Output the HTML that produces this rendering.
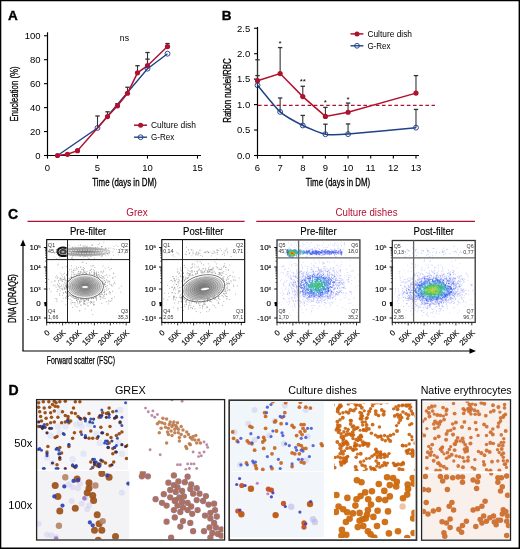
<!DOCTYPE html>
<html><head><meta charset="utf-8"><style>
html,body{margin:0;padding:0;background:#fff;}
svg{display:block;will-change:transform;}
text{font-family:"Liberation Sans",sans-serif;}
</style></head><body>
<svg width="520" height="549" viewBox="0 0 520 549">
<rect width="520" height="549" fill="#fff"/>
<text x="7.90" y="19.70" font-size="13.5" text-anchor="start" fill="#000" stroke="#000" stroke-width="0.35" font-weight="bold">A</text>
<line x1="47.50" y1="32.30" x2="47.50" y2="156.00" stroke="#000" stroke-width="1.2"/>
<line x1="47.00" y1="155.50" x2="201.00" y2="155.50" stroke="#000" stroke-width="1.2"/>
<line x1="44.00" y1="155.50" x2="47.50" y2="155.50" stroke="#000" stroke-width="1.1"/>
<text x="40.60" y="158.80" font-size="9.5" text-anchor="end" fill="#000">0</text>
<line x1="44.00" y1="131.55" x2="47.50" y2="131.55" stroke="#000" stroke-width="1.1"/>
<text x="40.60" y="134.85" font-size="9.5" text-anchor="end" fill="#000">20</text>
<line x1="44.00" y1="107.60" x2="47.50" y2="107.60" stroke="#000" stroke-width="1.1"/>
<text x="40.60" y="110.90" font-size="9.5" text-anchor="end" fill="#000">40</text>
<line x1="44.00" y1="83.65" x2="47.50" y2="83.65" stroke="#000" stroke-width="1.1"/>
<text x="40.60" y="86.95" font-size="9.5" text-anchor="end" fill="#000">60</text>
<line x1="44.00" y1="59.70" x2="47.50" y2="59.70" stroke="#000" stroke-width="1.1"/>
<text x="40.60" y="63.00" font-size="9.5" text-anchor="end" fill="#000">80</text>
<line x1="44.00" y1="35.75" x2="47.50" y2="35.75" stroke="#000" stroke-width="1.1"/>
<text x="40.60" y="39.05" font-size="9.5" text-anchor="end" fill="#000">100</text>
<line x1="47.50" y1="155.50" x2="47.50" y2="158.60" stroke="#000" stroke-width="1.1"/>
<text x="47.50" y="170.80" font-size="9.5" text-anchor="middle" fill="#000">0</text>
<line x1="97.50" y1="155.50" x2="97.50" y2="158.60" stroke="#000" stroke-width="1.1"/>
<text x="97.50" y="170.80" font-size="9.5" text-anchor="middle" fill="#000">5</text>
<line x1="147.50" y1="155.50" x2="147.50" y2="158.60" stroke="#000" stroke-width="1.1"/>
<text x="147.50" y="170.80" font-size="9.5" text-anchor="middle" fill="#000">10</text>
<line x1="197.50" y1="155.50" x2="197.50" y2="158.60" stroke="#000" stroke-width="1.1"/>
<text x="197.50" y="170.80" font-size="9.5" text-anchor="middle" fill="#000">15</text>
<text x="124.50" y="186.40" font-size="11" text-anchor="middle" fill="#000" stroke="#000" stroke-width="0.3" textLength="64.4" lengthAdjust="spacingAndGlyphs">Time (days in DM)</text>
<text x="18.00" y="94.00" font-size="11" text-anchor="middle" fill="#000" stroke="#000" stroke-width="0.3" textLength="55" lengthAdjust="spacingAndGlyphs" transform="rotate(-90 18.00 94.00)">Enucleation (%)</text>
<text x="124.40" y="40.60" font-size="9.5" text-anchor="middle" fill="#000" textLength="9.2" lengthAdjust="spacingAndGlyphs">ns</text>
<line x1="97.50" y1="127.96" x2="97.50" y2="115.98" stroke="#333" stroke-width="1.1"/>
<line x1="95.30" y1="115.98" x2="99.70" y2="115.98" stroke="#333" stroke-width="1.3"/>
<line x1="107.50" y1="115.98" x2="107.50" y2="111.79" stroke="#333" stroke-width="1.1"/>
<line x1="105.30" y1="111.79" x2="109.70" y2="111.79" stroke="#333" stroke-width="1.3"/>
<line x1="117.50" y1="105.80" x2="117.50" y2="103.65" stroke="#333" stroke-width="1.1"/>
<line x1="115.30" y1="103.65" x2="119.70" y2="103.65" stroke="#333" stroke-width="1.3"/>
<line x1="127.50" y1="93.23" x2="127.50" y2="87.24" stroke="#333" stroke-width="1.1"/>
<line x1="125.30" y1="87.24" x2="129.70" y2="87.24" stroke="#333" stroke-width="1.3"/>
<line x1="137.50" y1="72.87" x2="137.50" y2="65.69" stroke="#333" stroke-width="1.1"/>
<line x1="135.30" y1="65.69" x2="139.70" y2="65.69" stroke="#333" stroke-width="1.3"/>
<line x1="147.50" y1="68.08" x2="147.50" y2="52.52" stroke="#333" stroke-width="1.1"/>
<line x1="145.30" y1="52.52" x2="149.70" y2="52.52" stroke="#333" stroke-width="1.3"/>
<line x1="147.50" y1="65.69" x2="147.50" y2="59.10" stroke="#333" stroke-width="1.1"/>
<line x1="145.30" y1="59.10" x2="149.70" y2="59.10" stroke="#333" stroke-width="1.3"/>
<line x1="167.50" y1="46.53" x2="167.50" y2="43.53" stroke="#333" stroke-width="1.1"/>
<line x1="165.30" y1="43.53" x2="169.70" y2="43.53" stroke="#333" stroke-width="1.3"/>
<polyline points="57.50,155.50 97.50,127.96 147.50,68.68 167.50,53.71" fill="none" stroke="#1f4288" stroke-width="1.4"/>
<polyline points="57.50,155.50 67.50,154.30 77.50,150.71 97.50,127.96 107.50,116.58 117.50,105.80 127.50,93.23 137.50,72.87 147.50,65.69 167.50,46.53" fill="none" stroke="#b0112f" stroke-width="1.5"/>
<circle cx="57.50" cy="155.50" r="2.6" fill="#b0112f"/>
<circle cx="67.50" cy="154.30" r="2.6" fill="#b0112f"/>
<circle cx="77.50" cy="150.71" r="2.6" fill="#b0112f"/>
<circle cx="107.50" cy="116.58" r="2.6" fill="#b0112f"/>
<circle cx="117.50" cy="105.80" r="2.6" fill="#b0112f"/>
<circle cx="127.50" cy="93.23" r="2.6" fill="#b0112f"/>
<circle cx="137.50" cy="72.87" r="2.6" fill="#b0112f"/>
<circle cx="147.50" cy="65.69" r="2.6" fill="#b0112f"/>
<circle cx="167.50" cy="46.53" r="2.6" fill="#b0112f"/>
<circle cx="97.50" cy="127.96" r="2.45" fill="none" stroke="#1f4288" stroke-width="0.95"/>
<circle cx="147.50" cy="68.68" r="2.45" fill="none" stroke="#1f4288" stroke-width="0.95"/>
<circle cx="167.50" cy="53.71" r="2.45" fill="none" stroke="#1f4288" stroke-width="0.95"/>
<line x1="134.00" y1="125.20" x2="147.00" y2="125.20" stroke="#b0112f" stroke-width="1.5"/>
<circle cx="140.6" cy="125.2" r="2.5" fill="#b0112f"/>
<line x1="134.00" y1="137.20" x2="147.00" y2="137.20" stroke="#1f4288" stroke-width="1.4"/>
<circle cx="140.6" cy="137.2" r="2.4" fill="none" stroke="#1f4288" stroke-width="0.95"/>
<text x="151.00" y="128.40" font-size="9" text-anchor="start" fill="#000" textLength="45" lengthAdjust="spacingAndGlyphs">Culture dish</text>
<text x="151.00" y="140.40" font-size="9" text-anchor="start" fill="#000" textLength="23.3" lengthAdjust="spacingAndGlyphs">G-Rex</text>
<text x="221.80" y="19.70" font-size="13.5" text-anchor="start" fill="#000" stroke="#000" stroke-width="0.35" font-weight="bold">B</text>
<line x1="257.50" y1="27.00" x2="257.50" y2="156.00" stroke="#000" stroke-width="1.2"/>
<line x1="257.00" y1="155.50" x2="419.00" y2="155.50" stroke="#000" stroke-width="1.2"/>
<line x1="254.00" y1="155.50" x2="257.50" y2="155.50" stroke="#000" stroke-width="1.1"/>
<text x="250.20" y="158.80" font-size="9.5" text-anchor="end" fill="#000">0.0</text>
<line x1="254.00" y1="130.05" x2="257.50" y2="130.05" stroke="#000" stroke-width="1.1"/>
<text x="250.20" y="133.35" font-size="9.5" text-anchor="end" fill="#000">0.5</text>
<line x1="254.00" y1="104.60" x2="257.50" y2="104.60" stroke="#000" stroke-width="1.1"/>
<text x="250.20" y="107.90" font-size="9.5" text-anchor="end" fill="#000">1.0</text>
<line x1="254.00" y1="79.15" x2="257.50" y2="79.15" stroke="#000" stroke-width="1.1"/>
<text x="250.20" y="82.45" font-size="9.5" text-anchor="end" fill="#000">1.5</text>
<line x1="254.00" y1="53.70" x2="257.50" y2="53.70" stroke="#000" stroke-width="1.1"/>
<text x="250.20" y="57.00" font-size="9.5" text-anchor="end" fill="#000">2.0</text>
<line x1="254.00" y1="28.25" x2="257.50" y2="28.25" stroke="#000" stroke-width="1.1"/>
<text x="250.20" y="31.55" font-size="9.5" text-anchor="end" fill="#000">2.5</text>
<line x1="257.50" y1="155.50" x2="257.50" y2="158.60" stroke="#000" stroke-width="1.1"/>
<text x="257.50" y="170.80" font-size="9.5" text-anchor="middle" fill="#000">6</text>
<line x1="280.14" y1="155.50" x2="280.14" y2="158.60" stroke="#000" stroke-width="1.1"/>
<text x="280.14" y="170.80" font-size="9.5" text-anchor="middle" fill="#000">7</text>
<line x1="302.78" y1="155.50" x2="302.78" y2="158.60" stroke="#000" stroke-width="1.1"/>
<text x="302.78" y="170.80" font-size="9.5" text-anchor="middle" fill="#000">8</text>
<line x1="325.42" y1="155.50" x2="325.42" y2="158.60" stroke="#000" stroke-width="1.1"/>
<text x="325.42" y="170.80" font-size="9.5" text-anchor="middle" fill="#000">9</text>
<line x1="348.06" y1="155.50" x2="348.06" y2="158.60" stroke="#000" stroke-width="1.1"/>
<text x="348.06" y="170.80" font-size="9.5" text-anchor="middle" fill="#000">10</text>
<line x1="370.70" y1="155.50" x2="370.70" y2="158.60" stroke="#000" stroke-width="1.1"/>
<text x="370.70" y="170.80" font-size="9.5" text-anchor="middle" fill="#000">11</text>
<line x1="393.34" y1="155.50" x2="393.34" y2="158.60" stroke="#000" stroke-width="1.1"/>
<text x="393.34" y="170.80" font-size="9.5" text-anchor="middle" fill="#000">12</text>
<line x1="415.98" y1="155.50" x2="415.98" y2="158.60" stroke="#000" stroke-width="1.1"/>
<text x="415.98" y="170.80" font-size="9.5" text-anchor="middle" fill="#000">13</text>
<text x="338.00" y="186.40" font-size="11" text-anchor="middle" fill="#000" stroke="#000" stroke-width="0.3" textLength="64.4" lengthAdjust="spacingAndGlyphs">Time (days in DM)</text>
<text x="230.80" y="90.50" font-size="11" text-anchor="middle" fill="#000" stroke="#000" stroke-width="0.3" textLength="64.5" lengthAdjust="spacingAndGlyphs" transform="rotate(-90 230.80 90.50)">Ration nuclei/RBC</text>
<line x1="258" y1="105.36" x2="435" y2="105.36" stroke="#b0112f" stroke-width="1.2" stroke-dasharray="3.6,2.6"/>
<line x1="257.50" y1="80.68" x2="257.50" y2="59.81" stroke="#333" stroke-width="1.1"/>
<line x1="255.30" y1="59.81" x2="259.70" y2="59.81" stroke="#333" stroke-width="1.3"/>
<line x1="257.50" y1="85.26" x2="257.50" y2="75.59" stroke="#333" stroke-width="1.1"/>
<line x1="255.30" y1="75.59" x2="259.70" y2="75.59" stroke="#333" stroke-width="1.3"/>
<line x1="280.14" y1="73.55" x2="280.14" y2="47.59" stroke="#333" stroke-width="1.1"/>
<line x1="277.94" y1="47.59" x2="282.34" y2="47.59" stroke="#333" stroke-width="1.3"/>
<line x1="302.78" y1="96.61" x2="302.78" y2="86.28" stroke="#333" stroke-width="1.1"/>
<line x1="300.58" y1="86.28" x2="304.98" y2="86.28" stroke="#333" stroke-width="1.3"/>
<line x1="325.42" y1="116.41" x2="325.42" y2="107.40" stroke="#333" stroke-width="1.1"/>
<line x1="323.22" y1="107.40" x2="327.62" y2="107.40" stroke="#333" stroke-width="1.3"/>
<line x1="348.06" y1="112.23" x2="348.06" y2="103.07" stroke="#333" stroke-width="1.1"/>
<line x1="345.86" y1="103.07" x2="350.26" y2="103.07" stroke="#333" stroke-width="1.3"/>
<line x1="415.98" y1="93.10" x2="415.98" y2="75.59" stroke="#333" stroke-width="1.1"/>
<line x1="413.78" y1="75.59" x2="418.18" y2="75.59" stroke="#333" stroke-width="1.3"/>
<line x1="280.14" y1="111.93" x2="280.14" y2="97.98" stroke="#333" stroke-width="1.1"/>
<line x1="277.94" y1="97.98" x2="282.34" y2="97.98" stroke="#333" stroke-width="1.3"/>
<line x1="302.78" y1="125.47" x2="302.78" y2="115.44" stroke="#333" stroke-width="1.1"/>
<line x1="300.58" y1="115.44" x2="304.98" y2="115.44" stroke="#333" stroke-width="1.3"/>
<line x1="325.42" y1="134.22" x2="325.42" y2="124.20" stroke="#333" stroke-width="1.1"/>
<line x1="323.22" y1="124.20" x2="327.62" y2="124.20" stroke="#333" stroke-width="1.3"/>
<line x1="348.06" y1="134.12" x2="348.06" y2="123.94" stroke="#333" stroke-width="1.1"/>
<line x1="345.86" y1="123.94" x2="350.26" y2="123.94" stroke="#333" stroke-width="1.3"/>
<line x1="415.98" y1="127.66" x2="415.98" y2="109.44" stroke="#333" stroke-width="1.1"/>
<line x1="413.78" y1="109.44" x2="418.18" y2="109.44" stroke="#333" stroke-width="1.3"/>
<path d="M257.50,85.26 C259.76,87.93 275.61,107.91 280.14,111.93 C284.67,115.95 298.25,123.24 302.78,125.47 C307.31,127.70 320.89,133.36 325.42,134.22 C329.95,135.09 339.00,134.78 348.06,134.12 C357.12,133.47 409.19,128.30 415.98,127.66" fill="none" stroke="#1f4288" stroke-width="1.5"/>
<polyline points="257.50,80.68 280.14,73.55 302.78,96.61 325.42,116.41 348.06,112.23 415.98,93.10" fill="none" stroke="#b0112f" stroke-width="1.5"/>
<circle cx="257.50" cy="80.68" r="2.6" fill="#b0112f"/>
<circle cx="280.14" cy="73.55" r="2.6" fill="#b0112f"/>
<circle cx="302.78" cy="96.61" r="2.6" fill="#b0112f"/>
<circle cx="325.42" cy="116.41" r="2.6" fill="#b0112f"/>
<circle cx="348.06" cy="112.23" r="2.6" fill="#b0112f"/>
<circle cx="415.98" cy="93.10" r="2.6" fill="#b0112f"/>
<circle cx="257.50" cy="85.26" r="2.45" fill="none" stroke="#1f4288" stroke-width="0.95"/>
<circle cx="280.14" cy="111.93" r="2.45" fill="none" stroke="#1f4288" stroke-width="0.95"/>
<circle cx="302.78" cy="125.47" r="2.45" fill="none" stroke="#1f4288" stroke-width="0.95"/>
<circle cx="325.42" cy="134.22" r="2.45" fill="none" stroke="#1f4288" stroke-width="0.95"/>
<circle cx="348.06" cy="134.12" r="2.45" fill="none" stroke="#1f4288" stroke-width="0.95"/>
<circle cx="415.98" cy="127.66" r="2.45" fill="none" stroke="#1f4288" stroke-width="0.95"/>
<text x="280.14" y="46.10" font-size="8" text-anchor="middle" fill="#000">*</text>
<text x="302.78" y="83.60" font-size="8" text-anchor="middle" fill="#000">**</text>
<text x="325.42" y="104.60" font-size="8" text-anchor="middle" fill="#000">*</text>
<text x="348.06" y="102.10" font-size="8" text-anchor="middle" fill="#000">*</text>
<line x1="350.50" y1="33.90" x2="363.40" y2="33.90" stroke="#b0112f" stroke-width="1.5"/>
<circle cx="357" cy="33.9" r="2.5" fill="#b0112f"/>
<line x1="350.50" y1="45.80" x2="363.40" y2="45.80" stroke="#1f4288" stroke-width="1.4"/>
<circle cx="357" cy="45.8" r="2.4" fill="none" stroke="#1f4288" stroke-width="0.95"/>
<text x="367.40" y="37.00" font-size="9" text-anchor="start" fill="#000" textLength="44.6" lengthAdjust="spacingAndGlyphs">Culture dish</text>
<text x="367.40" y="49.10" font-size="9" text-anchor="start" fill="#000" textLength="23.1" lengthAdjust="spacingAndGlyphs">G-Rex</text>
<text x="8.00" y="218.60" font-size="14" text-anchor="start" fill="#000" stroke="#000" stroke-width="0.35" font-weight="bold">C</text>
<line x1="27.50" y1="221.30" x2="244.60" y2="221.30" stroke="#b0112f" stroke-width="1.2"/>
<line x1="256.30" y1="221.30" x2="475.00" y2="221.30" stroke="#b0112f" stroke-width="1.2"/>
<text x="137.00" y="216.00" font-size="10" text-anchor="middle" fill="#b0112f" textLength="21.5" lengthAdjust="spacingAndGlyphs">Grex</text>
<text x="366.50" y="216.00" font-size="10" text-anchor="middle" fill="#b0112f" textLength="62" lengthAdjust="spacingAndGlyphs">Culture dishes</text>
<ellipse cx="85.00" cy="286.50" rx="18.50" ry="12.00" transform="rotate(0 85.00 286.50)" fill="#000" fill-opacity="0.065" stroke="#666" stroke-width="0.4"/>
<ellipse cx="85.00" cy="286.50" rx="16.65" ry="10.80" transform="rotate(0 85.00 286.50)" fill="#000" fill-opacity="0.065" stroke="#666" stroke-width="0.4"/>
<ellipse cx="85.00" cy="286.50" rx="14.80" ry="9.60" transform="rotate(0 85.00 286.50)" fill="#000" fill-opacity="0.065" stroke="#666" stroke-width="0.4"/>
<ellipse cx="85.00" cy="286.50" rx="12.95" ry="8.40" transform="rotate(0 85.00 286.50)" fill="#000" fill-opacity="0.065" stroke="#666" stroke-width="0.4"/>
<ellipse cx="85.00" cy="286.50" rx="11.10" ry="7.20" transform="rotate(0 85.00 286.50)" fill="#000" fill-opacity="0.065" stroke="#666" stroke-width="0.4"/>
<ellipse cx="85.00" cy="286.50" rx="9.25" ry="6.00" transform="rotate(0 85.00 286.50)" fill="#000" fill-opacity="0.065" stroke="#666" stroke-width="0.4"/>
<ellipse cx="85.00" cy="286.50" rx="7.40" ry="4.80" transform="rotate(0 85.00 286.50)" fill="#000" fill-opacity="0.065" stroke="#666" stroke-width="0.4"/>
<ellipse cx="85.00" cy="286.50" rx="5.55" ry="3.60" transform="rotate(0 85.00 286.50)" fill="#000" fill-opacity="0.065" stroke="#666" stroke-width="0.4"/>
<ellipse cx="85.00" cy="286.50" rx="3.70" ry="2.40" transform="rotate(0 85.00 286.50)" fill="#000" fill-opacity="0.065" stroke="#666" stroke-width="0.4"/>
<ellipse cx="85.00" cy="286.50" rx="1.85" ry="1.20" transform="rotate(0 85.00 286.50)" fill="#000" fill-opacity="0.065" stroke="#666" stroke-width="0.4"/>
<ellipse cx="85.00" cy="286.50" rx="18.50" ry="12.00" transform="rotate(0 85.00 286.50)" fill="none" stroke="#333" stroke-width="0.5"/>
<ellipse cx="85.00" cy="286.50" rx="17.50" ry="11.00" transform="rotate(0 85.00 286.50)" fill="none" stroke="#fff" stroke-width="0.9"/>
<ellipse cx="85" cy="287" rx="3.4" ry="1.5" fill="#fff" stroke="#555" stroke-width="0.5"/>
<ellipse cx="84.00" cy="251.70" rx="26.00" ry="4.30" transform="rotate(0 84.00 251.70)" fill="#000" fill-opacity="0.1" stroke="#777" stroke-width="0.4"/>
<ellipse cx="84.00" cy="251.70" rx="22.29" ry="3.69" transform="rotate(0 84.00 251.70)" fill="#000" fill-opacity="0.1" stroke="#777" stroke-width="0.4"/>
<ellipse cx="84.00" cy="251.70" rx="18.57" ry="3.07" transform="rotate(0 84.00 251.70)" fill="#000" fill-opacity="0.1" stroke="#777" stroke-width="0.4"/>
<ellipse cx="84.00" cy="251.70" rx="14.86" ry="2.46" transform="rotate(0 84.00 251.70)" fill="#000" fill-opacity="0.1" stroke="#777" stroke-width="0.4"/>
<ellipse cx="84.00" cy="251.70" rx="11.14" ry="1.84" transform="rotate(0 84.00 251.70)" fill="#000" fill-opacity="0.1" stroke="#777" stroke-width="0.4"/>
<ellipse cx="84.00" cy="251.70" rx="7.43" ry="1.23" transform="rotate(0 84.00 251.70)" fill="#000" fill-opacity="0.1" stroke="#777" stroke-width="0.4"/>
<ellipse cx="84.00" cy="251.70" rx="3.71" ry="0.61" transform="rotate(0 84.00 251.70)" fill="#000" fill-opacity="0.1" stroke="#777" stroke-width="0.4"/>
<ellipse cx="86" cy="251.7" rx="20" ry="1.6" fill="none" stroke="#fff" stroke-width="0.9" stroke-dasharray="1.6,0.9"/>
<path d="M66.5,248.3 C61,246.5 57.5,248.5 57.6,251.8 C57.7,255.2 61.5,257 66.8,255.6" fill="none" stroke="#111" stroke-width="2.0"/>
<ellipse cx="63" cy="251.8" rx="3.3" ry="2.3" fill="#555" stroke="#222" stroke-width="0.8"/>
<ellipse cx="63" cy="251.8" rx="1.4" ry="0.9" fill="#bbb"/>
<clipPath id="cp2"><rect x="182.5" y="239.6" width="62.20000000000002" height="82.79999999999998"/></clipPath>
<g clip-path="url(#cp2)">
<ellipse cx="203.00" cy="288.30" rx="22.00" ry="13.00" transform="rotate(-12 203.00 288.30)" fill="#000" fill-opacity="0.07" stroke="#666" stroke-width="0.4"/>
<ellipse cx="203.00" cy="288.30" rx="19.80" ry="11.70" transform="rotate(-12 203.00 288.30)" fill="#000" fill-opacity="0.07" stroke="#666" stroke-width="0.4"/>
<ellipse cx="203.00" cy="288.30" rx="17.60" ry="10.40" transform="rotate(-12 203.00 288.30)" fill="#000" fill-opacity="0.07" stroke="#666" stroke-width="0.4"/>
<ellipse cx="203.00" cy="288.30" rx="15.40" ry="9.10" transform="rotate(-12 203.00 288.30)" fill="#000" fill-opacity="0.07" stroke="#666" stroke-width="0.4"/>
<ellipse cx="203.00" cy="288.30" rx="13.20" ry="7.80" transform="rotate(-12 203.00 288.30)" fill="#000" fill-opacity="0.07" stroke="#666" stroke-width="0.4"/>
<ellipse cx="203.00" cy="288.30" rx="11.00" ry="6.50" transform="rotate(-12 203.00 288.30)" fill="#000" fill-opacity="0.07" stroke="#666" stroke-width="0.4"/>
<ellipse cx="203.00" cy="288.30" rx="8.80" ry="5.20" transform="rotate(-12 203.00 288.30)" fill="#000" fill-opacity="0.07" stroke="#666" stroke-width="0.4"/>
<ellipse cx="203.00" cy="288.30" rx="6.60" ry="3.90" transform="rotate(-12 203.00 288.30)" fill="#000" fill-opacity="0.07" stroke="#666" stroke-width="0.4"/>
<ellipse cx="203.00" cy="288.30" rx="4.40" ry="2.60" transform="rotate(-12 203.00 288.30)" fill="#000" fill-opacity="0.07" stroke="#666" stroke-width="0.4"/>
<ellipse cx="203.00" cy="288.30" rx="2.20" ry="1.30" transform="rotate(-12 203.00 288.30)" fill="#000" fill-opacity="0.07" stroke="#666" stroke-width="0.4"/>
<ellipse cx="203.00" cy="288.30" rx="22.00" ry="13.00" transform="rotate(-12 203.00 288.30)" fill="none" stroke="#333" stroke-width="0.5"/>
<ellipse cx="203.00" cy="288.30" rx="21.00" ry="12.00" transform="rotate(-12 203.00 288.30)" fill="none" stroke="#fff" stroke-width="0.9"/>
<ellipse cx="205" cy="289" rx="4.5" ry="1.5" transform="rotate(-8 205 289)" fill="#fff" stroke="#555" stroke-width="0.5"/>
</g>
<path d="M71.2 276.2h0.8M101.5 294.4h0.8M112.9 284.2h0.8M64.9 292.1h0.8M120.9 286.1h0.8M93.9 275.9h0.8M105.2 282.5h0.8M102.7 283.5h0.8M91.1 298.6h0.8M104.1 283.9h0.8M77.0 302.2h0.8M111.4 300.7h0.8M64.9 279.2h0.8M101.6 278.5h0.8M82.9 267.5h0.8M93.5 305.0h0.8M112.0 291.4h0.8M85.9 299.0h0.8M83.7 301.4h0.8M92.5 297.9h0.8M64.6 280.8h0.8M69.6 299.3h0.8M108.6 288.5h0.8M76.0 266.9h0.8M66.9 314.3h0.8M82.7 269.4h0.8M83.2 274.1h0.8M91.2 269.4h0.8M102.7 277.1h0.8M67.7 293.5h0.8M107.2 285.8h0.8M65.0 292.1h0.8M100.4 293.2h0.8M66.0 274.6h0.8M62.9 292.5h0.8M93.0 269.9h0.8M95.7 273.2h0.8M78.1 267.5h0.8M76.2 300.5h0.8M77.5 299.7h0.8M94.4 267.6h0.8M70.7 277.6h0.8M69.3 295.3h0.8M67.6 274.0h0.8M98.9 276.7h0.8M81.0 272.0h0.8M73.6 276.6h0.8M90.0 303.2h0.8M114.6 283.8h0.8M65.7 283.2h0.8M74.3 302.4h0.8M66.7 282.2h0.8M74.7 298.6h0.8M80.2 299.0h0.8M97.9 272.3h0.8M90.2 301.6h0.8M68.6 294.9h0.8M108.6 281.6h0.8M94.1 270.8h0.8M98.7 294.4h0.8M83.4 271.9h0.8M74.7 303.1h0.8M92.4 314.6h0.8M85.8 299.4h0.8M74.6 270.5h0.8M66.1 286.0h0.8M102.6 266.0h0.8M109.6 294.0h0.8M66.4 289.7h0.8M78.2 271.8h0.8M100.1 277.6h0.8M78.5 271.3h0.8M104.4 284.9h0.8M83.3 304.1h0.8M83.9 272.6h0.8M102.6 276.5h0.8M78.2 273.7h0.8M87.6 305.6h0.8M79.0 273.6h0.8M71.1 277.8h0.8M84.5 303.9h0.8M69.4 278.7h0.8M109.0 291.7h0.8M80.9 298.9h0.8M94.8 297.7h0.8M66.5 297.4h0.8M111.0 285.1h0.8M106.0 294.2h0.8M59.0 283.7h0.8M104.7 284.5h0.8M111.8 286.2h0.8M102.1 297.6h0.8M84.8 308.8h0.8M104.1 278.2h0.8M83.9 271.2h0.8M65.8 266.7h0.8M84.0 268.5h0.8M103.0 295.8h0.8M82.0 274.3h0.8M73.5 296.5h0.8M107.3 277.2h0.8M106.0 279.7h0.8M92.9 298.6h0.8M66.1 282.4h0.8M82.7 269.4h0.8M95.9 296.9h0.8M88.1 299.9h0.8M66.1 284.7h0.8M81.5 274.2h0.8M96.7 275.0h0.8M96.2 272.0h0.8M82.7 262.0h0.8M77.0 306.9h0.8M63.8 277.7h0.8M86.2 299.2h0.8M93.3 298.4h0.8M83.1 303.2h0.8M58.2 280.6h0.8M110.0 292.5h0.8M79.5 310.6h0.8M71.0 296.8h0.8M62.0 267.4h0.8M95.6 297.6h0.8M105.0 286.6h0.8M96.2 274.3h0.8M96.0 299.1h0.8M56.7 291.5h0.8M118.5 288.1h0.8M77.0 275.2h0.8M86.8 271.7h0.8M103.9 284.9h0.8M65.2 285.7h0.8M94.8 297.9h0.8M95.5 296.3h0.8M80.1 271.7h0.8M93.2 304.7h0.8M72.5 302.7h0.8M105.7 301.7h0.8M100.3 299.5h0.8M113.4 273.1h0.8M99.3 296.9h0.8M79.0 303.1h0.8M110.6 285.0h0.8M76.1 275.0h0.8M85.5 273.2h0.8M49.2 288.8h0.8M96.0 273.1h0.8M62.7 279.5h0.8M62.9 293.7h0.8M81.0 269.5h0.8M108.9 275.5h0.8M73.4 272.6h0.8M67.1 293.4h0.8M87.8 299.5h0.8M62.9 279.5h0.8M100.5 294.7h0.8M100.6 277.5h0.8M107.7 289.8h0.8M112.3 277.6h0.8M77.6 303.9h0.8M110.9 268.5h0.8M92.7 301.9h0.8M102.6 277.0h0.8M76.0 268.7h0.8M74.7 274.3h0.8M111.1 298.7h0.8M84.5 300.9h0.8M93.7 302.2h0.8M65.6 298.7h0.8M63.4 286.0h0.8M67.0 291.5h0.8M89.0 272.7h0.8M64.5 279.3h0.8M83.0 300.8h0.8M106.1 294.2h0.8M101.9 294.3h0.8M94.0 274.2h0.8M66.0 287.4h0.8M120.4 292.2h0.8M86.1 273.5h0.8M59.8 290.9h0.8M68.0 296.1h0.8M70.5 296.0h0.8M65.1 297.8h0.8M86.3 273.7h0.8M104.3 294.8h0.8M76.0 298.7h0.8M81.3 298.9h0.8M66.3 280.6h0.8M72.8 270.8h0.8M88.1 298.5h0.8M70.9 269.2h0.8M64.1 273.3h0.8M102.3 281.6h0.8M81.2 301.3h0.8M65.3 280.9h0.8M71.5 300.2h0.8M77.8 298.2h0.8M79.0 275.0h0.8M104.6 283.1h0.8M96.1 300.2h0.8M75.3 298.2h0.8M96.0 274.0h0.8M94.2 273.9h0.8M62.1 276.8h0.8M114.7 276.8h0.8M80.6 299.1h0.8M91.2 272.0h0.8M70.8 277.3h0.8M47.1 289.3h0.8M91.1 301.9h0.8M80.2 305.1h0.8M107.9 267.2h0.8M65.1 291.8h0.8M73.0 296.9h0.8M64.8 284.0h0.8M89.3 273.9h0.8M68.6 295.0h0.8M93.4 274.4h0.8M73.5 274.3h0.8M58.2 281.9h0.8M91.0 302.3h0.8M76.7 298.6h0.8M109.9 301.4h0.8M59.1 295.2h0.8M82.2 298.4h0.8M67.5 275.3h0.8M100.4 296.5h0.8M50.7 291.4h0.8M81.8 262.5h0.8M66.5 295.8h0.8M108.0 303.9h0.8M103.7 280.8h0.8M84.5 301.0h0.8M85.6 300.8h0.8M96.2 275.7h0.8M61.8 281.2h0.8M98.4 275.1h0.8M68.2 296.5h0.8M67.0 274.9h0.8M114.0 296.9h0.8M97.3 277.5h0.8M66.5 293.3h0.8M58.4 285.7h0.8M74.8 296.8h0.8M79.7 302.4h0.8M79.7 301.8h0.8M59.1 293.7h0.8M80.1 298.4h0.8M93.8 272.4h0.8M103.6 296.5h0.8M72.2 295.6h0.8M106.1 274.8h0.8M114.2 282.5h0.8M73.0 260.0h0.8M91.2 310.2h0.8M71.6 277.3h0.8M84.2 301.1h0.8M82.3 272.8h0.8M106.3 288.1h0.8M106.6 280.7h0.8M99.5 295.6h0.8M103.2 270.9h0.8M96.2 298.7h0.8M82.9 273.9h0.8M75.6 306.3h0.8M71.3 274.4h0.8M103.4 298.1h0.8M71.6 272.7h0.8M60.8 286.4h0.8M104.5 291.2h0.8M61.3 275.2h0.8M80.9 298.3h0.8M111.8 298.3h0.8M76.2 300.0h0.8M102.1 291.2h0.8M60.7 280.6h0.8M101.4 281.1h0.8M71.1 265.8h0.8M100.2 296.6h0.8M74.5 304.9h0.8M61.5 279.8h0.8M64.1 283.0h0.8M100.6 297.9h0.8M73.0 270.2h0.8M70.0 295.5h0.8M98.9 294.6h0.8M83.3 299.4h0.8M103.5 292.4h0.8M72.1 295.3h0.8M56.7 278.5h0.8M77.2 301.0h0.8M102.4 282.4h0.8M104.7 275.8h0.8M79.1 301.8h0.8M98.3 274.4h0.8M71.4 271.3h0.8M108.9 292.8h0.8M72.0 297.2h0.8M72.4 295.9h0.8M87.6 306.0h0.8M104.7 298.6h0.8M96.4 275.4h0.8M75.8 297.2h0.8M112.5 278.3h0.8M108.4 280.9h0.8M100.8 272.0h0.8M57.0 284.1h0.8M103.4 271.8h0.8M85.5 272.0h0.8M92.8 265.6h0.8M103.4 287.8h0.8M86.8 303.0h0.8M83.9 302.9h0.8M101.0 292.9h0.8M56.0 298.9h0.8M113.0 273.6h0.8M89.3 273.0h0.8M74.4 298.5h0.8M69.5 279.2h0.8M64.5 288.7h0.8M90.8 302.3h0.8M109.3 281.9h0.8M70.7 302.0h0.8M95.6 296.3h0.8M97.7 277.8h0.8M80.9 305.2h0.8M77.8 299.1h0.8M92.4 265.8h0.8M94.2 304.4h0.8M93.0 298.1h0.8M88.3 300.6h0.8M104.4 280.4h0.8M52.9 285.2h0.8M59.7 286.8h0.8M94.0 273.9h0.8M83.9 303.8h0.8M59.6 279.9h0.8M79.3 301.3h0.8M94.6 274.0h0.8M108.9 284.1h0.8M76.8 273.4h0.8M79.8 272.3h0.8M85.5 304.4h0.8M73.8 298.3h0.8M66.0 275.2h0.8M108.7 300.9h0.8M91.2 297.8h0.8M86.2 263.3h0.8M97.3 276.4h0.8M89.5 270.6h0.8M60.7 278.4h0.8M73.8 275.1h0.8M74.4 268.9h0.8M72.4 302.5h0.8M103.1 283.3h0.8M106.0 290.0h0.8M68.2 271.9h0.8M48.0 279.4h0.8M82.1 299.1h0.8M57.6 289.6h0.8M68.3 280.6h0.8M105.2 282.0h0.8M72.0 307.5h0.8M88.6 302.3h0.8M66.1 296.4h0.8M83.7 300.6h0.8M78.3 299.5h0.8M67.9 298.5h0.8M103.7 284.4h0.8M80.2 267.2h0.8M87.4 300.1h0.8M54.8 281.1h0.8M75.1 297.1h0.8M56.5 301.7h0.8M92.6 303.2h0.8M93.7 272.8h0.8M80.2 273.3h0.8M84.4 299.0h0.8M80.6 267.1h0.8M79.7 300.6h0.8M51.4 281.9h0.8M59.9 278.1h0.8M73.4 297.3h0.8M78.6 275.1h0.8M102.4 273.1h0.8M89.5 273.9h0.8M93.7 272.1h0.8M88.7 298.6h0.8M65.8 291.7h0.8M101.3 303.2h0.8M65.9 292.8h0.8M101.1 275.6h0.8M86.9 299.1h0.8M104.1 292.4h0.8M65.4 304.9h0.8M66.9 277.1h0.8M76.2 275.8h0.8M98.6 277.8h0.8M90.2 270.1h0.8M98.8 275.3h0.8M77.8 275.3h0.8M109.4 269.7h0.8M102.7 278.9h0.8M60.5 279.3h0.8M67.5 291.8h0.8M101.3 292.5h0.8M70.7 303.9h0.8M91.6 274.7h0.8M103.8 289.6h0.8M57.3 289.8h0.8M55.7 287.1h0.8M94.2 276.2h0.8M64.2 276.8h0.8M65.9 286.5h0.8M91.1 298.4h0.8M104.0 294.0h0.8M63.8 289.6h0.8M71.3 277.5h0.8M85.8 273.7h0.8M104.1 291.3h0.8M84.6 272.5h0.8M76.8 269.2h0.8M95.9 275.6h0.8M107.9 301.0h0.8M83.3 270.5h0.8M107.3 282.1h0.8M64.1 278.7h0.8M105.6 286.4h0.8M69.0 269.6h0.8M104.8 268.1h0.8M79.3 310.9h0.8M100.6 271.8h0.8M90.5 266.1h0.8M207.1 271.2h0.8M212.8 273.1h0.8M197.8 270.1h0.8M226.5 298.9h0.8M229.5 265.1h0.8M220.1 269.5h0.8M204.6 302.6h0.8M223.3 282.0h0.8M226.7 288.2h0.8M173.4 289.1h0.8M195.4 274.1h0.8M194.3 301.6h0.8M199.4 305.3h0.8M191.9 301.1h0.8M233.1 280.0h0.8M196.8 262.0h0.8M184.6 306.4h0.8M195.8 303.3h0.8M189.5 273.4h0.8M223.4 301.4h0.8M223.4 271.6h0.8M186.3 304.2h0.8M226.9 286.0h0.8M182.1 296.5h0.8M203.2 302.8h0.8M190.7 267.5h0.8M225.3 295.9h0.8M213.3 268.9h0.8M177.8 308.1h0.8M213.7 296.6h0.8M222.3 290.2h0.8M205.5 269.7h0.8M226.5 284.4h0.8M189.3 274.2h0.8M175.0 293.6h0.8M210.3 270.1h0.8M180.9 298.5h0.8M219.3 269.0h0.8M207.2 271.9h0.8M181.6 298.0h0.8M224.0 284.7h0.8M199.5 301.7h0.8M204.0 304.1h0.8M186.9 272.5h0.8M188.2 307.8h0.8M220.6 291.6h0.8M216.9 295.0h0.8M221.1 275.4h0.8M214.6 262.0h0.8M176.3 279.1h0.8M183.4 276.4h0.8M181.4 297.8h0.8M221.1 268.1h0.8M213.9 298.2h0.8M208.8 299.3h0.8M170.6 280.6h0.8M196.8 273.2h0.8M217.8 303.6h0.8M224.0 291.2h0.8M235.4 280.2h0.8M179.9 297.7h0.8M192.1 308.6h0.8M177.0 286.4h0.8M204.7 270.3h0.8M209.3 309.5h0.8M203.9 300.2h0.8M204.3 303.8h0.8M203.0 304.3h0.8M235.0 294.1h0.8M178.2 292.0h0.8M207.0 299.0h0.8M191.4 272.2h0.8M199.7 308.0h0.8M182.4 297.3h0.8M183.1 273.4h0.8M187.3 299.3h0.8M228.6 283.8h0.8M207.0 300.9h0.8M179.5 290.4h0.8M224.0 263.8h0.8M208.7 271.3h0.8M189.6 271.3h0.8M185.5 278.8h0.8M200.8 270.4h0.8M191.8 264.8h0.8M225.7 267.5h0.8M227.1 283.3h0.8M208.8 269.7h0.8M179.2 291.7h0.8M178.5 301.6h0.8M174.2 279.2h0.8M210.3 299.3h0.8M182.4 277.8h0.8M182.3 301.7h0.8M199.5 305.7h0.8M190.9 303.0h0.8M207.2 307.5h0.8M221.5 291.1h0.8M192.2 299.8h0.8M174.0 303.0h0.8M212.8 267.4h0.8M177.8 303.2h0.8M194.5 309.0h0.8M194.8 300.6h0.8M224.5 284.5h0.8M186.2 300.6h0.8M229.1 290.1h0.8M219.4 292.7h0.8M233.1 285.1h0.8M163.5 298.9h0.8M184.4 280.9h0.8M201.0 263.2h0.8M182.9 273.0h0.8M218.5 303.0h0.8M205.8 307.8h0.8M218.6 292.9h0.8M214.4 298.1h0.8M210.8 269.8h0.8M214.7 296.1h0.8M224.5 289.8h0.8M227.1 277.4h0.8M209.0 271.7h0.8M168.0 293.2h0.8M185.1 278.0h0.8M174.5 281.1h0.8M201.9 305.4h0.8M175.8 276.4h0.8M190.9 299.9h0.8M222.9 287.4h0.8M198.7 270.0h0.8M198.2 303.3h0.8M203.6 300.9h0.8M196.4 271.5h0.8M174.4 288.5h0.8M222.9 280.6h0.8M219.5 275.0h0.8M223.0 293.7h0.8M229.2 283.7h0.8M221.7 290.4h0.8M225.6 274.3h0.8M226.2 293.6h0.8M181.4 281.0h0.8M187.9 306.1h0.8M172.8 298.8h0.8M214.2 271.8h0.8M225.0 291.0h0.8M222.5 273.5h0.8M179.6 291.2h0.8M191.7 300.6h0.8M191.7 274.8h0.8M187.8 270.7h0.8M197.0 300.7h0.8M184.8 267.5h0.8M226.1 280.1h0.8M182.4 297.2h0.8M187.8 275.3h0.8M209.4 266.3h0.8M177.5 281.7h0.8M184.2 280.3h0.8M217.7 274.2h0.8M185.4 279.4h0.8M189.7 273.9h0.8M179.1 287.7h0.8M226.7 283.9h0.8M201.7 272.0h0.8M179.5 273.6h0.8M180.3 276.0h0.8M188.6 302.3h0.8M225.5 269.9h0.8M207.5 299.0h0.8M222.4 287.5h0.8M182.8 298.7h0.8M182.1 296.9h0.8M178.3 290.5h0.8M210.8 269.2h0.8M221.6 295.4h0.8M215.6 299.1h0.8M232.3 276.7h0.8M177.6 293.1h0.8M224.1 281.5h0.8M208.6 311.0h0.8M214.1 305.8h0.8M204.4 271.7h0.8M220.1 274.2h0.8M185.0 300.9h0.8M223.1 278.7h0.8M203.0 301.6h0.8M173.3 307.8h0.8M203.9 301.0h0.8M227.4 290.6h0.8M208.2 268.0h0.8M221.7 295.8h0.8M203.7 272.2h0.8M196.0 303.0h0.8M203.3 264.9h0.8M227.8 283.4h0.8M202.5 272.4h0.8M195.5 273.9h0.8M173.2 297.7h0.8M181.6 277.0h0.8M196.9 259.8h0.8M219.9 273.2h0.8M224.8 293.5h0.8M190.0 307.7h0.8M181.2 301.3h0.8M198.7 301.7h0.8M215.0 273.2h0.8M178.5 281.6h0.8M180.7 307.4h0.8M186.1 304.3h0.8M180.8 294.2h0.8M183.1 310.4h0.8M207.1 299.1h0.8M164.3 293.2h0.8M202.5 273.2h0.8M226.3 296.5h0.8M228.2 279.0h0.8M227.8 276.4h0.8M194.4 267.0h0.8M225.0 267.4h0.8M200.0 271.1h0.8M174.5 283.1h0.8M179.4 297.1h0.8M207.5 299.1h0.8M204.0 271.8h0.8M226.2 280.2h0.8M188.1 273.5h0.8M211.3 272.2h0.8M219.3 299.3h0.8M210.0 301.4h0.8M192.2 266.8h0.8M186.0 301.2h0.8M202.0 308.3h0.8M185.0 302.1h0.8M190.1 299.9h0.8M171.4 292.7h0.8M173.0 299.8h0.8M203.0 268.8h0.8M168.7 296.7h0.8M174.9 280.7h0.8M202.4 306.5h0.8M174.5 287.6h0.8M212.7 271.0h0.8M181.1 296.8h0.8M167.3 285.3h0.8M219.0 273.4h0.8M216.6 300.8h0.8M179.8 276.3h0.8M186.6 277.6h0.8M198.0 267.0h0.8M183.7 279.9h0.8M195.3 274.0h0.8M223.1 296.7h0.8M206.7 306.5h0.8M192.0 308.2h0.8M181.2 297.3h0.8M212.6 305.1h0.8M211.0 301.8h0.8M215.8 266.6h0.8M212.2 272.4h0.8M218.5 272.7h0.8M199.7 261.5h0.8M177.7 310.0h0.8M197.1 272.8h0.8M189.2 303.9h0.8M204.1 301.4h0.8M190.9 271.0h0.8M179.1 280.2h0.8M215.1 273.3h0.8M195.8 311.5h0.8M225.8 292.3h0.8M226.6 287.7h0.8M216.8 267.9h0.8M194.1 271.6h0.8M193.9 264.2h0.8M193.3 306.6h0.8M223.5 293.4h0.8M209.5 299.0h0.8M228.4 282.1h0.8M230.5 280.7h0.8M184.4 304.8h0.8M209.5 270.0h0.8M232.7 272.2h0.8M218.1 297.1h0.8M183.7 281.2h0.8M185.8 302.6h0.8M237.2 285.8h0.8M222.6 291.6h0.8M190.6 275.9h0.8M180.7 301.4h0.8M192.5 300.1h0.8M210.7 272.9h0.8M186.6 273.9h0.8M179.9 295.2h0.8M226.2 282.8h0.8M180.9 299.9h0.8M192.8 275.4h0.8M218.8 296.5h0.8M181.5 302.3h0.8M189.6 302.1h0.8M218.0 302.2h0.8M218.7 269.6h0.8M223.6 276.6h0.8M204.6 304.7h0.8M201.8 271.2h0.8M174.5 297.2h0.8M201.2 272.3h0.8M190.7 307.8h0.8M197.0 271.3h0.8M174.1 287.4h0.8M173.0 296.8h0.8M175.0 299.8h0.8M211.8 269.8h0.8M212.2 297.1h0.8M224.3 294.8h0.8M213.2 297.4h0.8M222.5 277.9h0.8M224.6 285.8h0.8M191.7 270.5h0.8M224.3 266.0h0.8M222.4 278.1h0.8M189.6 274.3h0.8M205.5 301.3h0.8M225.0 289.1h0.8M209.5 301.5h0.8M217.8 294.1h0.8M209.9 269.5h0.8M202.3 306.8h0.8M233.4 286.4h0.8M208.9 298.2h0.8M188.6 305.4h0.8M167.3 299.9h0.8M238.8 278.0h0.8M187.4 278.2h0.8M201.9 301.8h0.8M183.2 277.0h0.8M230.1 275.3h0.8M210.0 299.9h0.8M188.2 309.1h0.8M196.6 300.2h0.8M223.3 285.7h0.8M216.3 264.0h0.8M209.6 271.7h0.8M222.1 305.5h0.8M184.2 265.3h0.8M181.9 271.1h0.8M188.6 300.6h0.8M217.8 296.6h0.8M177.1 272.2h0.8M208.3 272.5h0.8M230.7 256.5h0.8M196.0 302.1h0.8M209.0 300.8h0.8M207.9 263.8h0.8M205.5 299.0h0.8M199.1 268.9h0.8M173.9 280.5h0.8M212.3 298.9h0.8M212.2 268.4h0.8M208.1 299.0h0.8M177.5 271.6h0.8M184.1 299.6h0.8M177.2 269.1h0.8M188.3 277.4h0.8M194.0 302.0h0.8M217.9 298.4h0.8M215.4 307.7h0.8M211.3 270.0h0.8M226.5 298.9h0.8M227.7 289.3h0.8M229.3 299.5h0.8M178.9 272.8h0.8M200.3 302.7h0.8M220.7 272.8h0.8M198.4 303.9h0.8M223.6 288.1h0.8M196.6 267.0h0.8M213.9 299.6h0.8M182.0 296.3h0.8M173.2 296.2h0.8M219.0 272.5h0.8M192.0 274.9h0.8M228.3 270.3h0.8M182.8 279.0h0.8M221.3 275.4h0.8M202.4 268.7h0.8M217.4 267.7h0.8M230.8 281.8h0.8M172.5 276.7h0.8M207.3 299.9h0.8M207.2 301.5h0.8M187.9 277.1h0.8M227.8 269.6h0.8M218.8 292.4h0.8M206.8 270.8h0.8M206.4 311.7h0.8M229.6 290.0h0.8M186.7 300.2h0.8M176.2 297.6h0.8M200.7 272.9h0.8M214.0 295.8h0.8M223.4 279.7h0.8M196.8 273.3h0.8M223.1 267.0h0.8M192.3 271.9h0.8M206.6 272.5h0.8M179.8 297.8h0.8M191.9 263.8h0.8M208.3 252.7h0.8M226.8 279.0h0.8M233.7 280.1h0.8M225.6 291.1h0.8M226.7 296.6h0.8M208.1 271.2h0.8M215.0 298.2h0.8M180.4 269.7h0.8M199.9 312.6h0.8M190.3 305.3h0.8M190.6 268.6h0.8M171.9 292.6h0.8M221.3 269.7h0.8M189.5 275.9h0.8M187.1 278.5h0.8M205.0 268.3h0.8M234.4 277.0h0.8M208.0 269.3h0.8M218.4 298.2h0.8M218.9 274.2h0.8M222.2 272.4h0.8M191.8 301.5h0.8M223.4 266.2h0.8M229.2 275.7h0.8" stroke="#777" stroke-width="0.8" stroke-opacity="0.8" fill="none"/>
<path d="M64.3 288.1h0.8M60.9 288.9h0.8M62.8 274.4h0.8M57.6 265.0h0.8M65.7 287.5h0.8M69.0 288.2h0.8M67.0 273.8h0.8M54.2 280.8h0.8M61.9 289.2h0.8M62.9 284.4h0.8M63.8 288.2h0.8M64.6 288.8h0.8M61.0 285.1h0.8M56.2 275.8h0.8M62.2 289.8h0.8M59.8 273.2h0.8M68.3 278.4h0.8M54.9 277.2h0.8M57.6 264.1h0.8M61.6 301.1h0.8M59.8 278.5h0.8M69.3 286.7h0.8M63.0 298.2h0.8M57.6 285.4h0.8M66.1 287.7h0.8M57.7 277.5h0.8M72.5 285.1h0.8M62.2 295.6h0.8M54.6 285.4h0.8M54.7 298.5h0.8M58.6 286.9h0.8M58.9 287.1h0.8M65.1 286.0h0.8M62.0 288.2h0.8M62.3 281.4h0.8M66.7 293.6h0.8M56.8 276.9h0.8M59.7 288.6h0.8M56.5 299.9h0.8M63.8 287.3h0.8M183.1 295.5h0.8M189.2 284.8h0.8M183.4 277.4h0.8M180.5 287.3h0.8M172.2 281.5h0.8M178.2 285.1h0.8M176.2 284.5h0.8M177.7 283.1h0.8M169.0 288.3h0.8M186.5 285.5h0.8M178.4 279.6h0.8M173.6 278.4h0.8M170.9 287.4h0.8M173.0 290.0h0.8M178.2 274.1h0.8M188.9 283.8h0.8M178.4 282.9h0.8M171.7 286.8h0.8M180.3 267.9h0.8M177.8 288.2h0.8M186.9 269.1h0.8M174.0 297.4h0.8M173.9 292.8h0.8M172.6 276.5h0.8M181.5 282.0h0.8M172.1 287.4h0.8M183.6 286.0h0.8M189.0 275.3h0.8M186.1 289.8h0.8M182.1 293.8h0.8M176.2 284.3h0.8M170.8 280.5h0.8M174.0 296.1h0.8M175.3 290.1h0.8M177.2 308.4h0.8M173.5 278.5h0.8M180.8 270.9h0.8M177.8 277.9h0.8M173.3 285.0h0.8M188.1 295.1h0.8" stroke="#666" stroke-width="0.8" stroke-opacity="0.6" fill="none"/>
<path d="M105.4 248.0h0.8M107.0 253.4h0.8M101.9 256.0h0.8M108.0 248.1h0.8M71.6 258.5h0.8M89.9 256.1h0.8M118.1 254.8h0.8M71.9 256.3h0.8M108.5 248.2h0.8M116.0 249.5h0.8M82.5 245.9h0.8M74.6 246.5h0.8M101.9 255.2h0.8M86.5 247.0h0.8M115.7 245.4h0.8M67.2 255.1h0.8M101.0 246.6h0.8M69.0 245.8h0.8M65.2 254.6h0.8M108.1 255.0h0.8M98.8 255.2h0.8M82.8 257.1h0.8M88.9 258.2h0.8M63.9 246.9h0.8M89.6 247.2h0.8M56.0 258.5h0.8M59.1 257.3h0.8M105.3 255.8h0.8M117.6 246.5h0.8M84.8 246.8h0.8M54.5 252.5h0.8M56.9 251.0h0.8M91.3 245.5h0.8M100.9 246.6h0.8M113.0 255.3h0.8M86.3 247.1h0.8M100.8 256.7h0.8M84.8 245.4h0.8M87.9 258.5h0.8M85.0 256.3h0.8M78.1 245.9h0.8M58.8 252.9h0.8M113.9 249.3h0.8M112.4 252.0h0.8M86.9 256.8h0.8M86.9 246.1h0.8M97.8 244.6h0.8M49.0 246.6h0.8M97.3 247.3h0.8M94.0 258.3h0.8M84.4 256.8h0.8M92.1 245.4h0.8M105.1 248.2h0.8M52.6 250.5h0.8M83.9 246.9h0.8M53.3 247.3h0.8M54.3 257.2h0.8M101.1 255.9h0.8M55.9 251.9h0.8M71.2 257.9h0.8M80.0 244.8h0.8M106.9 254.0h0.8M113.4 246.4h0.8M79.9 256.4h0.8M120.2 248.7h0.8M110.3 248.1h0.8M90.5 256.7h0.8M91.9 244.6h0.8M128.0 249.7h0.8M83.0 245.9h0.8M72.7 255.7h0.8M110.9 258.5h0.8M123.9 249.5h0.8M112.7 248.6h0.8M101.9 246.5h0.8M79.9 245.3h0.8M109.1 253.5h0.8M47.7 252.0h0.8M72.3 247.1h0.8M105.7 248.4h0.8M61.0 254.1h0.8M105.4 248.9h0.8M117.5 252.4h0.8M62.2 248.1h0.8M67.9 244.9h0.8M72.2 247.6h0.8M99.0 243.7h0.8M103.4 242.2h0.8M65.3 248.4h0.8M95.1 247.5h0.8M101.2 247.0h0.8M52.1 259.8h0.8M56.5 254.3h0.8M58.7 259.2h0.8M72.1 258.1h0.8" stroke="#777" stroke-width="0.8" stroke-opacity="0.6" fill="none"/>
<path d="M188.1 250.1h0.8M197.9 255.0h0.8M223.8 253.5h0.8M203.8 252.6h0.8M211.9 253.5h0.8M219.8 248.8h0.8M192.6 253.1h0.8M204.7 252.5h0.8M199.6 253.7h0.8M227.3 252.7h0.8M226.3 248.2h0.8M216.4 258.9h0.8M186.0 251.5h0.8M196.6 251.8h0.8M215.5 252.9h0.8M184.8 254.1h0.8M198.4 252.2h0.8M188.8 253.3h0.8M202.1 256.2h0.8M195.7 254.6h0.8M200.4 255.5h0.8M192.7 253.8h0.8M187.9 249.8h0.8M224.1 255.4h0.8M204.7 251.9h0.8M223.4 252.2h0.8M217.0 252.6h0.8M191.5 255.9h0.8M205.4 252.0h0.8M195.4 254.8h0.8M208.0 252.5h0.8M189.5 252.8h0.8M218.5 250.5h0.8M213.0 253.2h0.8M195.6 253.2h0.8M216.9 254.2h0.8M216.1 250.1h0.8M195.6 253.1h0.8M225.4 250.4h0.8M200.5 250.0h0.8M209.5 252.0h0.8M217.3 250.3h0.8M196.3 252.8h0.8M206.8 251.0h0.8M190.8 249.4h0.8M185.9 254.6h0.8M192.7 250.0h0.8M214.1 251.8h0.8M214.1 252.0h0.8M191.2 250.1h0.8M208.0 252.5h0.8M206.4 252.7h0.8M226.5 249.5h0.8M211.4 253.1h0.8M186.2 247.4h0.8M212.7 250.9h0.8M197.4 254.7h0.8M224.7 251.0h0.8M221.1 250.7h0.8M207.4 251.5h0.8M198.3 253.1h0.8M227.1 251.8h0.8M199.2 250.2h0.8M198.0 253.4h0.8M210.7 255.9h0.8M189.1 253.7h0.8M222.2 254.5h0.8M216.9 250.0h0.8M192.6 251.9h0.8M216.7 252.2h0.8" stroke="#888" stroke-width="0.8" stroke-opacity="0.8" fill="none"/>
<path d="M177.9 253.5h0.8M172.3 255.1h0.8M176.9 252.8h0.8M176.5 252.3h0.8M178.6 254.9h0.8M173.8 256.9h0.8M171.7 255.9h0.8M173.1 254.7h0.8" stroke="#888" stroke-width="0.8" stroke-opacity="0.6" fill="none"/>
<path d="M324.2 278.3h0.9M303.1 288.8h0.9M314.3 293.0h0.9M327.3 282.6h0.9M316.2 293.9h0.9M303.3 285.2h0.9M303.4 284.3h0.9M317.8 279.4h0.9M322.6 278.5h0.9M325.2 280.9h0.9M321.1 292.4h0.9M319.5 291.9h0.9M306.4 284.1h0.9M325.7 283.0h0.9M317.9 278.1h0.9M322.3 277.7h0.9M315.6 293.9h0.9M309.8 278.7h0.9M310.8 290.7h0.9M329.7 282.7h0.9M319.3 290.9h0.9M317.2 291.7h0.9M310.2 280.2h0.9M313.5 292.8h0.9M309.8 291.8h0.9M323.3 292.8h0.9M318.3 277.1h0.9M318.6 294.7h0.9M317.2 276.6h0.9M321.7 278.7h0.9M326.4 282.3h0.9M308.0 287.9h0.9M310.5 292.3h0.9M306.0 291.0h0.9M324.3 289.5h0.9M320.6 294.5h0.9M324.5 279.4h0.9M325.0 288.1h0.9M316.5 279.5h0.9M310.0 278.5h0.9M325.4 286.0h0.9M309.1 281.8h0.9M307.2 283.5h0.9M321.4 291.8h0.9M315.8 277.4h0.9M316.9 277.8h0.9M317.0 278.6h0.9M304.3 287.3h0.9M311.5 293.2h0.9M316.7 278.3h0.9M325.0 283.0h0.9M317.0 278.1h0.9M307.5 290.2h0.9M305.5 280.7h0.9M324.4 290.6h0.9M304.2 286.2h0.9M328.4 288.4h0.9M314.5 279.4h0.9M325.3 285.5h0.9M316.4 292.6h0.9M325.8 291.5h0.9M326.7 285.0h0.9M311.6 291.5h0.9M304.6 286.1h0.9M312.6 280.5h0.9M322.7 289.6h0.9M318.5 293.2h0.9M325.7 283.9h0.9M309.5 282.5h0.9M309.1 281.1h0.9M323.9 279.9h0.9M324.6 291.1h0.9M322.2 293.2h0.9M304.8 289.2h0.9M322.7 277.3h0.9M329.2 287.3h0.9M325.3 289.8h0.9M319.0 277.5h0.9M322.9 277.8h0.9M326.3 289.3h0.9M310.7 292.1h0.9M307.5 283.6h0.9M322.5 292.5h0.9M321.7 280.5h0.9M329.0 284.3h0.9M309.2 291.6h0.9M306.3 289.5h0.9M307.1 292.8h0.9M308.7 289.8h0.9M325.7 288.5h0.9M327.4 283.5h0.9M324.1 280.8h0.9M326.2 284.0h0.9M306.9 288.3h0.9M289.6 252.4h0.9M288.6 252.6h0.9M303.6 252.5h0.9M306.9 254.0h0.9M302.9 253.5h0.9M304.7 252.0h0.9M304.0 253.0h0.9M290.2 251.9h0.9M307.2 253.0h0.9M287.9 254.2h0.9M287.8 254.1h0.9M306.0 250.2h0.9M287.8 252.6h0.9M288.5 249.0h0.9M306.7 254.0h0.9M307.0 252.3h0.9M300.4 250.8h0.9M304.4 253.4h0.9M303.6 252.3h0.9M287.6 250.9h0.9M304.4 252.8h0.9M306.2 252.2h0.9M289.0 251.7h0.9M288.1 251.8h0.9M305.3 253.1h0.9M303.7 252.3h0.9M302.6 253.8h0.9M304.3 251.5h0.9M443.3 286.1h0.9M437.3 297.8h0.9M440.0 282.2h0.9M419.6 288.1h0.9M437.5 295.3h0.9M438.3 281.9h0.9M444.2 295.7h0.9M421.8 286.6h0.9M423.7 283.1h0.9M422.5 284.6h0.9M432.7 298.8h0.9M448.2 289.7h0.9M440.3 294.0h0.9M432.1 280.9h0.9M443.6 285.9h0.9M447.7 292.2h0.9M420.3 287.2h0.9M432.2 297.2h0.9M434.8 283.8h0.9M430.3 283.0h0.9M442.3 293.3h0.9M434.3 295.9h0.9M426.5 284.0h0.9M430.6 283.5h0.9M423.5 294.8h0.9M446.0 289.7h0.9M433.0 297.5h0.9M419.4 285.5h0.9M418.2 289.2h0.9M418.0 292.9h0.9M417.6 288.7h0.9M425.8 295.6h0.9M427.0 296.4h0.9M423.5 284.9h0.9M425.0 283.9h0.9M440.9 285.3h0.9M437.5 298.5h0.9M424.7 286.1h0.9M420.8 295.7h0.9M419.2 285.1h0.9M438.0 282.9h0.9M436.5 282.5h0.9M434.8 296.4h0.9M419.0 295.4h0.9M421.9 286.4h0.9M415.6 291.5h0.9M419.7 291.3h0.9M443.9 288.1h0.9M444.9 284.8h0.9M424.6 298.3h0.9M435.8 298.8h0.9M436.6 282.8h0.9M429.2 280.9h0.9M426.2 298.7h0.9M421.2 284.4h0.9M443.5 292.9h0.9M441.3 293.9h0.9M431.1 297.0h0.9M423.4 284.2h0.9M437.3 297.9h0.9M433.8 281.7h0.9M421.3 293.1h0.9M421.0 291.2h0.9M435.6 280.1h0.9M433.5 299.5h0.9M444.7 286.0h0.9M443.3 291.0h0.9M439.2 282.0h0.9M416.5 288.8h0.9M443.2 293.8h0.9M446.6 294.7h0.9M420.4 294.1h0.9M419.2 289.9h0.9M424.0 282.0h0.9M421.3 292.5h0.9M431.5 297.8h0.9M428.6 282.9h0.9M432.9 282.6h0.9M438.9 282.9h0.9M434.9 282.8h0.9M422.4 296.6h0.9M435.3 281.7h0.9M430.1 297.1h0.9M445.1 285.3h0.9M437.2 280.6h0.9M446.1 288.2h0.9M421.1 285.9h0.9M422.6 297.3h0.9M432.6 281.1h0.9M443.4 284.0h0.9M429.8 297.3h0.9M445.3 287.7h0.9M445.2 295.6h0.9M434.0 283.6h0.9M420.6 284.1h0.9M438.6 282.3h0.9M421.8 284.3h0.9M443.1 286.0h0.9M432.0 296.6h0.9M427.4 299.7h0.9M441.3 284.5h0.9M422.1 297.4h0.9M426.4 282.9h0.9M420.3 289.5h0.9M427.6 284.4h0.9M437.6 296.6h0.9M420.7 290.0h0.9M418.6 295.5h0.9M432.3 280.6h0.9M426.8 282.5h0.9M434.9 280.9h0.9M436.3 298.2h0.9M418.3 295.3h0.9M419.0 286.7h0.9M442.4 281.1h0.9M442.3 282.3h0.9M420.6 285.2h0.9M442.5 282.4h0.9M416.7 291.5h0.9M424.9 283.6h0.9M431.3 281.9h0.9M419.5 286.4h0.9M443.2 288.2h0.9M448.1 290.7h0.9M432.2 297.3h0.9" stroke="#3078d8" stroke-width="0.9" stroke-opacity="0.6" fill="none"/>
<path d="M336.2 291.3h0.9M289.9 286.0h0.9M290.7 276.8h0.9M307.7 300.7h0.9M300.0 303.2h0.9M301.0 302.5h0.9M294.4 304.2h0.9M311.4 269.7h0.9M338.9 276.1h0.9M307.3 268.5h0.9M320.7 269.7h0.9M340.2 269.7h0.9M306.6 301.4h0.9M339.8 275.7h0.9M334.5 276.6h0.9M333.0 297.2h0.9M296.7 272.8h0.9M293.5 276.4h0.9M313.6 305.4h0.9M338.1 293.0h0.9M341.4 290.6h0.9M298.3 293.5h0.9M342.9 292.8h0.9M340.4 290.2h0.9M326.8 271.6h0.9M347.6 282.2h0.9M295.5 287.7h0.9M293.2 301.8h0.9M337.1 276.0h0.9M297.9 273.8h0.9M292.9 282.9h0.9M327.2 271.6h0.9M297.0 300.5h0.9M293.1 300.5h0.9M306.4 256.5h0.9M314.8 263.1h0.9M309.0 299.6h0.9M318.0 269.5h0.9M299.7 306.7h0.9M322.3 262.4h0.9M328.5 270.6h0.9M318.7 300.5h0.9M286.8 294.5h0.9M316.9 299.7h0.9M294.3 291.9h0.9M289.1 292.6h0.9M296.8 294.4h0.9M351.1 294.0h0.9M304.1 305.4h0.9M347.3 272.6h0.9M299.1 305.5h0.9M337.7 292.2h0.9M293.1 286.2h0.9M318.6 302.8h0.9M288.6 301.3h0.9M319.4 270.3h0.9M338.3 294.6h0.9M333.2 293.4h0.9M353.5 298.0h0.9M335.6 273.1h0.9M338.0 283.1h0.9M332.6 295.1h0.9M298.4 300.2h0.9M339.2 292.3h0.9M335.4 295.0h0.9M348.6 277.4h0.9M336.3 278.5h0.9M341.4 280.5h0.9M308.9 301.8h0.9M298.4 294.7h0.9M296.1 271.1h0.9M341.5 279.3h0.9M297.2 294.7h0.9M408.3 298.0h0.9M453.0 277.6h0.9M411.4 284.3h0.9M398.8 295.4h0.9M407.8 280.8h0.9M406.3 290.8h0.9M454.6 279.4h0.9M426.2 308.5h0.9M425.6 314.5h0.9M406.0 288.3h0.9M416.0 273.2h0.9M418.4 278.3h0.9M411.4 299.6h0.9M451.5 298.5h0.9M453.4 281.6h0.9M397.9 289.0h0.9M459.4 295.2h0.9M407.9 285.5h0.9M414.7 301.9h0.9M447.4 273.3h0.9M403.0 306.5h0.9M440.3 309.1h0.9M451.0 302.7h0.9M471.1 285.0h0.9M443.6 301.6h0.9M449.5 303.1h0.9M429.0 304.6h0.9M405.9 293.0h0.9M441.8 307.0h0.9M423.8 277.7h0.9M455.6 292.0h0.9M441.4 275.0h0.9M410.7 282.7h0.9M440.9 302.9h0.9M429.5 305.2h0.9M402.2 291.1h0.9M458.8 286.6h0.9M419.3 306.1h0.9M415.1 304.1h0.9M414.8 301.3h0.9M461.7 284.2h0.9M433.1 272.9h0.9M412.0 308.3h0.9M404.5 279.4h0.9M465.6 293.9h0.9M420.7 307.3h0.9M418.9 279.3h0.9M406.6 292.1h0.9M453.4 271.4h0.9M448.1 279.3h0.9M409.2 280.8h0.9M422.6 274.8h0.9M435.9 303.3h0.9M401.5 282.4h0.9M431.0 275.5h0.9M410.9 297.0h0.9M403.1 292.0h0.9M427.1 276.4h0.9M454.3 278.2h0.9M409.7 286.6h0.9M402.3 294.5h0.9M458.7 281.8h0.9M402.9 293.3h0.9M409.0 292.9h0.9M412.2 279.2h0.9M452.0 272.5h0.9M456.8 283.4h0.9M424.3 276.0h0.9M410.4 296.9h0.9M429.9 274.4h0.9M411.0 298.0h0.9M460.7 275.7h0.9M408.4 300.6h0.9M425.0 307.2h0.9M426.9 276.4h0.9M462.1 294.9h0.9M454.9 293.1h0.9M418.5 277.1h0.9M437.0 274.1h0.9M461.3 290.5h0.9M430.0 306.7h0.9M462.0 279.5h0.9M417.9 307.8h0.9M454.4 294.7h0.9M458.9 281.1h0.9M421.2 311.0h0.9M459.6 286.6h0.9M437.8 303.4h0.9M452.5 279.3h0.9M410.3 285.2h0.9M454.6 278.4h0.9M451.9 278.8h0.9M406.9 294.0h0.9M408.0 289.1h0.9M431.1 270.9h0.9M411.8 301.8h0.9M446.0 301.7h0.9M436.2 310.7h0.9M409.0 297.2h0.9M429.4 305.6h0.9M455.6 293.0h0.9M418.4 307.1h0.9M457.1 304.8h0.9M470.6 284.8h0.9M423.3 304.4h0.9M419.3 278.6h0.9" stroke="#6060f0" stroke-width="0.9" stroke-opacity="0.4" fill="none"/>
<path d="M313.9 289.5h0.9M309.6 284.5h0.9M317.1 280.5h0.9M315.5 290.5h0.9M318.9 290.4h0.9M319.0 290.0h0.9M317.4 290.8h0.9M320.1 281.5h0.9M323.8 282.4h0.9M321.3 281.7h0.9M310.6 282.7h0.9M321.6 281.6h0.9M320.5 280.6h0.9M310.5 283.4h0.9M323.1 287.2h0.9M317.3 291.0h0.9M323.8 287.5h0.9M308.4 286.5h0.9M324.6 284.3h0.9M323.2 282.0h0.9M309.5 286.0h0.9M324.1 285.1h0.9M311.9 281.6h0.9M312.7 290.3h0.9M323.5 288.3h0.9M322.3 288.0h0.9M316.4 290.5h0.9M318.2 290.6h0.9M319.3 289.6h0.9M310.4 284.1h0.9" stroke="#3078d8" stroke-width="0.9" stroke-opacity="0.8" fill="none"/>
<path d="M326.7 284.9h0.9M326.9 288.3h0.9M312.9 292.9h0.9M319.3 293.8h0.9M308.0 280.9h0.9M317.9 278.7h0.9M307.2 289.9h0.9M316.3 277.7h0.9M318.5 279.6h0.9M326.0 281.3h0.9M307.1 285.9h0.9M316.0 277.1h0.9M307.9 287.0h0.9M318.7 291.7h0.9M310.2 289.6h0.9M308.1 285.1h0.9M310.8 290.8h0.9M319.4 291.6h0.9M319.0 279.5h0.9M311.5 280.6h0.9M324.0 280.1h0.9M312.5 290.7h0.9M325.6 286.2h0.9M314.3 279.7h0.9M306.7 282.0h0.9M311.9 293.1h0.9M322.8 279.2h0.9M317.0 292.5h0.9M327.0 287.2h0.9M322.6 277.8h0.9M321.0 290.2h0.9M321.1 290.4h0.9M309.7 279.4h0.9M325.3 288.7h0.9M310.5 280.7h0.9M308.5 288.8h0.9M305.4 285.6h0.9M315.4 279.3h0.9M325.3 289.4h0.9M316.1 278.0h0.9M328.5 285.0h0.9M325.4 284.2h0.9M314.5 292.7h0.9M317.5 292.5h0.9M325.5 285.5h0.9M320.4 278.5h0.9M306.9 252.1h0.9M292.4 252.2h0.9M288.9 252.2h0.9M288.0 252.5h0.9M294.1 251.6h0.9M305.9 252.6h0.9M296.0 252.8h0.9M299.5 251.6h0.9M304.1 251.9h0.9M289.2 250.6h0.9M292.3 252.6h0.9M287.6 252.4h0.9M298.0 251.0h0.9M292.1 250.9h0.9M298.7 253.3h0.9M289.8 253.0h0.9M297.6 251.2h0.9M296.8 251.8h0.9M292.1 252.9h0.9M297.3 252.8h0.9M299.7 253.9h0.9M302.4 252.2h0.9M303.9 251.2h0.9M300.5 252.0h0.9M303.5 251.5h0.9M291.6 252.7h0.9M293.9 250.5h0.9M291.1 253.6h0.9M288.5 253.1h0.9M290.7 252.7h0.9M296.9 252.4h0.9M420.8 294.0h0.9M439.9 283.0h0.9M421.5 287.0h0.9M440.4 282.2h0.9M442.0 294.5h0.9M422.4 294.4h0.9M434.3 296.6h0.9M423.3 288.4h0.9M429.9 284.6h0.9M443.8 289.8h0.9M432.6 282.2h0.9M444.4 288.9h0.9M419.0 288.7h0.9M430.5 295.7h0.9M442.1 287.9h0.9M444.4 284.3h0.9M444.7 293.9h0.9M437.3 294.8h0.9M446.3 292.7h0.9M426.9 282.1h0.9M437.7 295.0h0.9M443.1 292.9h0.9M430.2 283.7h0.9M434.9 297.7h0.9M420.5 290.0h0.9M419.9 292.8h0.9M435.8 282.8h0.9M428.6 295.8h0.9M430.6 299.0h0.9M437.4 298.4h0.9M438.8 281.3h0.9M435.8 298.1h0.9M417.9 290.6h0.9M421.0 284.6h0.9M441.1 295.5h0.9M436.5 283.3h0.9M447.8 289.8h0.9M436.9 298.3h0.9M441.7 293.8h0.9M432.6 281.6h0.9M442.5 286.0h0.9M434.3 298.8h0.9M438.2 294.4h0.9M424.7 286.6h0.9M432.1 283.9h0.9M435.6 283.5h0.9M447.2 289.0h0.9M430.2 284.7h0.9M425.0 284.6h0.9M443.7 294.1h0.9M421.7 290.1h0.9M445.4 285.4h0.9M447.3 288.1h0.9M442.7 283.1h0.9M420.8 296.2h0.9M444.7 290.9h0.9M436.3 297.8h0.9M446.9 291.3h0.9M420.8 293.4h0.9M443.2 283.4h0.9M427.3 283.3h0.9M443.6 289.2h0.9M439.9 295.3h0.9M433.9 298.2h0.9M432.0 281.2h0.9M446.8 291.8h0.9M435.7 283.9h0.9M425.2 283.0h0.9M423.3 287.6h0.9M419.0 291.3h0.9M429.3 284.2h0.9M429.1 296.9h0.9M418.5 295.1h0.9M421.8 285.8h0.9M429.2 297.1h0.9M447.4 287.9h0.9M420.7 293.5h0.9M419.9 288.6h0.9M445.7 289.2h0.9M426.4 282.2h0.9M440.2 281.7h0.9M448.1 289.0h0.9M448.0 288.2h0.9M433.7 296.1h0.9M429.7 284.3h0.9M422.9 294.5h0.9M432.7 282.0h0.9M437.1 297.7h0.9M430.6 296.3h0.9M447.3 289.0h0.9M433.8 283.5h0.9M444.8 291.8h0.9" stroke="#3090d8" stroke-width="0.9" stroke-opacity="0.6" fill="none"/>
<path d="M312.1 284.2h0.9M308.4 285.5h0.9M315.8 288.8h0.9M314.9 282.4h0.9M314.6 289.4h0.9M315.8 290.6h0.9M321.3 283.1h0.9M311.0 287.3h0.9M309.7 282.9h0.9M312.4 288.5h0.9M319.8 290.4h0.9M318.4 289.5h0.9M318.4 289.4h0.9M320.3 280.5h0.9M323.8 283.7h0.9M317.8 288.7h0.9M314.4 290.6h0.9M315.5 280.2h0.9M322.5 284.1h0.9" stroke="#3090d8" stroke-width="0.9" stroke-opacity="0.8" fill="none"/>
<path d="M341.6 283.8h0.9M348.1 281.1h0.9M310.9 311.8h0.9M307.7 297.7h0.9M339.3 280.4h0.9M296.3 288.4h0.9M298.3 274.3h0.9M341.4 282.5h0.9M320.4 269.9h0.9M311.8 308.2h0.9M327.6 269.9h0.9M298.9 274.1h0.9M342.3 287.5h0.9M295.9 292.0h0.9M303.3 294.5h0.9M313.2 300.8h0.9M326.9 261.8h0.9M348.1 279.5h0.9M294.7 282.2h0.9M294.6 296.9h0.9M297.6 291.5h0.9M319.7 297.7h0.9M295.5 284.1h0.9M303.4 274.9h0.9M308.3 298.9h0.9M301.7 267.0h0.9M320.9 302.9h0.9M330.0 298.0h0.9M296.5 293.4h0.9M318.6 272.8h0.9M335.6 278.2h0.9M297.1 292.7h0.9M310.8 267.7h0.9M333.1 278.8h0.9M329.6 272.7h0.9M318.0 297.5h0.9M313.4 267.7h0.9M330.9 274.2h0.9M314.8 273.4h0.9M294.7 276.1h0.9M303.0 275.7h0.9M337.4 284.1h0.9M307.1 297.9h0.9M290.8 287.8h0.9M307.4 274.0h0.9M298.8 271.9h0.9M329.3 296.1h0.9M296.3 285.4h0.9M323.7 296.7h0.9M343.8 286.0h0.9M293.2 282.3h0.9M338.6 285.8h0.9M291.7 299.0h0.9M312.3 297.9h0.9M321.3 297.5h0.9M349.6 275.1h0.9M302.6 299.2h0.9M331.7 294.7h0.9M327.5 298.9h0.9M325.7 298.1h0.9M294.8 294.9h0.9M328.8 295.1h0.9M349.2 291.4h0.9M293.0 286.4h0.9M285.6 275.5h0.9M336.1 274.9h0.9M312.8 301.7h0.9M307.2 299.6h0.9M350.1 292.1h0.9M301.6 270.8h0.9M318.4 301.8h0.9M319.3 306.2h0.9M339.0 282.9h0.9M303.8 271.9h0.9M311.1 301.6h0.9M328.4 270.9h0.9M335.8 294.5h0.9M322.1 273.2h0.9M294.4 281.2h0.9M323.5 266.6h0.9M333.0 292.3h0.9M341.2 287.8h0.9M299.5 292.9h0.9M291.3 284.1h0.9M302.5 304.0h0.9M335.3 284.9h0.9M339.8 271.1h0.9M294.6 292.9h0.9M303.9 303.6h0.9M331.6 297.4h0.9M292.6 283.9h0.9M338.6 274.0h0.9M311.5 305.7h0.9M340.1 291.6h0.9M326.5 268.6h0.9M302.7 296.9h0.9M297.8 292.1h0.9M306.2 272.7h0.9M295.2 282.0h0.9M319.2 270.4h0.9M307.5 266.5h0.9M313.0 271.5h0.9M302.7 272.9h0.9M340.5 275.8h0.9M329.4 299.2h0.9M330.3 293.4h0.9M294.2 305.8h0.9M291.1 279.5h0.9M327.8 298.3h0.9M318.0 270.3h0.9M308.4 297.4h0.9M289.8 275.4h0.9M343.2 284.9h0.9M302.7 277.2h0.9M331.8 274.9h0.9M337.2 288.5h0.9M294.7 291.4h0.9M324.1 300.3h0.9M283.4 293.9h0.9M348.5 299.5h0.9M289.2 298.3h0.9M324.6 299.6h0.9M343.4 287.7h0.9M336.4 282.5h0.9M342.8 280.1h0.9M291.1 297.8h0.9M341.0 282.8h0.9M290.9 278.4h0.9M334.5 276.9h0.9M330.7 302.5h0.9M339.8 281.8h0.9M405.4 289.7h0.9M465.4 293.7h0.9M441.9 275.3h0.9M459.5 296.2h0.9M421.9 303.4h0.9M449.7 274.7h0.9M408.8 290.4h0.9M412.9 296.4h0.9M452.2 295.7h0.9M433.0 311.8h0.9M460.6 276.4h0.9M438.1 304.8h0.9M452.2 283.0h0.9M407.0 293.1h0.9M446.8 278.7h0.9M454.4 285.8h0.9M417.7 309.9h0.9M453.1 288.6h0.9M405.9 293.4h0.9M437.0 302.2h0.9M453.5 277.9h0.9M409.6 298.9h0.9M434.4 267.3h0.9M447.4 302.5h0.9M416.3 281.1h0.9M427.3 303.3h0.9M428.8 303.2h0.9M455.2 294.0h0.9M449.7 279.4h0.9M445.7 300.7h0.9M430.2 304.0h0.9M409.7 294.7h0.9M406.1 290.7h0.9M407.5 298.8h0.9M451.2 298.1h0.9M415.3 306.5h0.9M449.9 278.4h0.9M453.8 296.4h0.9M452.1 294.3h0.9M423.3 312.5h0.9M457.1 294.3h0.9M445.9 304.8h0.9M407.8 299.8h0.9M406.8 298.4h0.9M459.2 276.2h0.9M449.5 277.9h0.9M423.8 303.0h0.9M447.7 275.7h0.9M448.0 281.0h0.9M459.4 286.2h0.9M412.4 290.6h0.9M441.8 275.9h0.9M454.8 287.4h0.9M410.5 298.5h0.9M446.6 300.8h0.9M412.8 302.5h0.9M446.3 279.4h0.9M455.3 298.1h0.9M410.4 311.1h0.9M437.9 303.5h0.9M410.1 299.5h0.9M443.4 274.1h0.9M453.0 272.3h0.9M408.4 289.8h0.9M417.6 303.2h0.9M421.1 280.1h0.9M448.3 272.7h0.9M452.3 293.2h0.9M435.9 276.4h0.9M410.7 284.0h0.9M412.9 282.9h0.9M441.7 305.8h0.9M440.5 302.0h0.9M449.5 275.6h0.9M409.9 277.9h0.9M445.8 278.4h0.9M459.8 279.7h0.9M400.5 285.6h0.9M415.2 281.0h0.9M435.5 304.2h0.9M442.3 300.2h0.9M410.4 287.2h0.9M452.0 298.6h0.9M455.7 284.3h0.9M451.6 301.5h0.9M411.2 285.9h0.9M453.0 286.5h0.9M448.0 301.0h0.9M416.6 305.1h0.9M446.3 279.3h0.9M400.4 285.3h0.9M424.7 303.1h0.9M438.8 306.6h0.9M460.0 283.9h0.9M412.9 300.2h0.9M426.2 276.3h0.9M456.8 282.8h0.9M410.3 284.9h0.9M432.9 276.1h0.9M404.5 286.4h0.9M454.9 299.6h0.9M455.2 278.5h0.9M438.3 271.0h0.9M427.8 303.6h0.9M411.7 299.7h0.9M430.5 312.4h0.9M422.4 310.1h0.9M412.5 282.1h0.9M455.0 285.2h0.9M419.8 275.2h0.9M452.9 291.5h0.9M404.2 291.7h0.9M407.1 293.0h0.9M424.4 278.2h0.9M445.6 300.3h0.9M417.7 305.9h0.9M402.1 288.1h0.9M417.4 279.7h0.9M402.9 292.9h0.9M467.8 290.9h0.9M433.3 309.0h0.9M453.3 292.3h0.9M429.1 277.2h0.9M440.4 302.0h0.9M455.1 288.7h0.9M434.2 304.1h0.9M405.3 298.1h0.9M416.0 299.6h0.9M457.3 281.5h0.9M410.4 283.3h0.9M412.4 287.3h0.9M461.4 278.8h0.9M444.1 276.6h0.9M424.2 303.1h0.9M436.2 277.9h0.9M414.5 275.4h0.9M449.8 299.3h0.9M457.3 295.0h0.9M434.3 304.3h0.9M414.7 283.8h0.9M413.0 303.1h0.9M455.7 286.9h0.9M428.7 306.1h0.9M460.5 292.5h0.9M453.5 295.6h0.9M435.1 277.8h0.9M410.1 280.0h0.9M453.8 283.3h0.9M412.3 284.4h0.9M417.2 275.4h0.9M420.5 304.3h0.9M425.3 276.7h0.9M406.4 303.5h0.9M423.8 278.4h0.9M439.0 303.3h0.9M441.1 303.3h0.9M413.4 297.6h0.9M434.6 302.0h0.9M411.6 298.5h0.9M424.0 278.5h0.9M452.7 278.8h0.9M416.3 305.6h0.9M451.3 276.9h0.9M444.5 299.6h0.9M456.5 287.5h0.9M431.0 276.2h0.9M428.9 277.0h0.9M458.4 286.3h0.9M452.8 299.1h0.9M445.5 276.7h0.9M448.2 276.6h0.9M452.9 284.3h0.9M454.6 298.9h0.9M453.1 283.6h0.9M443.4 306.6h0.9M404.2 286.4h0.9M461.6 290.4h0.9M459.1 277.7h0.9M398.4 295.0h0.9M453.8 292.9h0.9M408.4 297.2h0.9M412.3 296.6h0.9M446.0 277.4h0.9M447.9 270.4h0.9M414.1 298.9h0.9M455.6 284.3h0.9M413.1 297.2h0.9M412.4 298.9h0.9M411.4 279.0h0.9M406.1 290.6h0.9M398.3 291.5h0.9M456.8 291.5h0.9M431.4 302.3h0.9M407.6 298.5h0.9M457.7 288.9h0.9M420.7 278.6h0.9M438.7 303.2h0.9M424.9 304.3h0.9M459.6 286.4h0.9M461.0 297.9h0.9M448.9 278.2h0.9M447.2 273.6h0.9M450.2 274.7h0.9M454.7 278.0h0.9M404.0 292.4h0.9" stroke="#4860f0" stroke-width="0.9" stroke-opacity="0.4" fill="none"/>
<path d="M299.9 292.7h0.9M336.5 291.6h0.9M320.1 298.6h0.9M337.0 287.4h0.9M320.6 271.3h0.9M322.5 298.4h0.9M317.1 300.5h0.9M308.2 296.4h0.9M315.3 297.4h0.9M308.2 273.9h0.9M336.5 285.4h0.9M335.7 280.6h0.9M297.1 281.3h0.9M310.3 297.5h0.9M296.6 286.6h0.9M307.9 297.3h0.9M327.2 296.4h0.9M292.2 284.9h0.9M297.9 288.1h0.9M313.7 273.0h0.9M305.7 297.1h0.9M331.4 291.6h0.9M330.9 277.4h0.9M338.1 286.1h0.9M299.7 279.9h0.9M294.8 282.7h0.9M339.4 278.3h0.9M336.1 293.9h0.9M310.7 272.2h0.9M292.5 281.2h0.9M317.3 302.9h0.9M303.5 296.1h0.9M320.5 271.1h0.9M329.9 297.0h0.9M297.6 283.1h0.9M336.0 280.0h0.9M304.7 276.3h0.9M332.7 292.7h0.9M299.8 291.0h0.9M334.0 276.3h0.9M333.6 289.8h0.9M334.7 279.4h0.9M306.8 298.0h0.9M301.9 276.7h0.9M292.1 285.1h0.9M305.6 274.1h0.9M323.3 297.1h0.9M311.9 300.9h0.9M334.2 288.9h0.9M330.2 293.3h0.9M294.3 286.0h0.9M334.8 293.2h0.9M303.4 273.6h0.9M294.3 298.1h0.9M310.4 300.0h0.9M298.2 282.7h0.9M329.6 296.2h0.9M293.8 295.3h0.9M327.6 273.2h0.9M301.3 278.7h0.9M330.6 274.0h0.9M329.1 298.1h0.9M332.2 278.6h0.9M326.7 273.3h0.9M312.6 273.0h0.9M299.8 291.3h0.9M309.3 297.4h0.9M303.9 296.9h0.9M317.9 298.6h0.9M333.9 275.9h0.9M297.2 289.9h0.9M312.3 271.3h0.9M325.4 296.0h0.9M320.1 300.5h0.9M326.8 271.6h0.9M327.8 296.7h0.9M329.2 272.8h0.9M297.1 278.2h0.9M316.4 267.4h0.9M299.8 292.1h0.9M327.2 275.0h0.9M327.9 297.1h0.9M298.4 276.2h0.9M339.0 292.3h0.9M298.5 289.6h0.9M338.9 290.7h0.9M334.4 277.1h0.9M311.4 269.4h0.9M340.4 284.3h0.9M337.2 280.3h0.9M296.4 289.9h0.9M326.9 274.5h0.9M300.4 296.0h0.9M335.3 284.0h0.9M306.0 298.4h0.9M306.2 272.1h0.9M330.4 292.5h0.9M324.8 296.8h0.9M325.3 295.7h0.9M333.4 279.7h0.9M300.3 277.2h0.9M299.4 272.4h0.9M295.0 294.3h0.9M298.2 290.7h0.9M313.4 298.6h0.9M337.1 288.4h0.9M319.9 297.0h0.9M302.0 275.0h0.9M338.3 282.3h0.9M338.6 282.6h0.9M335.0 280.5h0.9M317.1 298.7h0.9M334.4 288.1h0.9M336.6 284.9h0.9M338.8 287.9h0.9M298.2 284.5h0.9M335.2 287.9h0.9M303.7 294.7h0.9M317.8 268.3h0.9M306.1 274.8h0.9M296.3 287.0h0.9M296.0 277.1h0.9M331.6 275.1h0.9M299.2 282.9h0.9M331.3 293.8h0.9M299.8 293.1h0.9M329.6 294.8h0.9M339.4 284.8h0.9M326.9 295.1h0.9M328.6 275.4h0.9M299.0 281.2h0.9M298.7 283.8h0.9M307.0 270.9h0.9M323.6 296.9h0.9M323.1 273.2h0.9M331.2 292.5h0.9M294.7 284.7h0.9M337.2 294.9h0.9M333.2 270.9h0.9M294.1 290.1h0.9M297.4 278.3h0.9M297.0 291.0h0.9M342.1 284.0h0.9M324.7 270.7h0.9M332.3 275.1h0.9M328.7 296.0h0.9M334.6 288.7h0.9M340.4 278.8h0.9M298.0 281.7h0.9M320.2 273.0h0.9M334.7 282.0h0.9M295.9 286.1h0.9M331.4 291.6h0.9M327.0 297.7h0.9M298.8 279.1h0.9M326.9 296.7h0.9M315.6 271.3h0.9M302.3 294.6h0.9M306.5 274.0h0.9M321.3 299.1h0.9M452.9 294.1h0.9M452.2 283.0h0.9M420.4 281.7h0.9M442.6 300.3h0.9M425.3 280.1h0.9M424.3 277.0h0.9M421.7 300.4h0.9M427.9 279.5h0.9M425.4 303.7h0.9M415.5 283.8h0.9M417.0 283.1h0.9M443.1 302.7h0.9M451.8 295.5h0.9M447.0 280.5h0.9M453.0 281.9h0.9M426.5 302.0h0.9M450.6 293.9h0.9M413.5 294.9h0.9M454.3 294.5h0.9M448.8 295.1h0.9M410.2 295.7h0.9M422.6 278.4h0.9M416.0 301.2h0.9M427.7 278.7h0.9M441.5 277.7h0.9M450.2 282.6h0.9M447.5 296.7h0.9M432.5 303.3h0.9M410.1 292.7h0.9M417.5 280.1h0.9M406.7 288.3h0.9M436.0 302.2h0.9M436.6 275.2h0.9M449.2 295.9h0.9M427.7 279.2h0.9M450.7 292.5h0.9M452.9 281.9h0.9M441.7 305.1h0.9M445.6 298.8h0.9M418.1 299.2h0.9M453.9 293.5h0.9M443.5 300.1h0.9M435.5 278.4h0.9M452.9 289.0h0.9M452.1 289.5h0.9M424.1 279.4h0.9M444.7 302.6h0.9M429.2 304.8h0.9M421.3 280.4h0.9M455.0 291.2h0.9M408.4 286.8h0.9M441.7 301.6h0.9M449.6 279.6h0.9M436.8 301.2h0.9M454.0 289.4h0.9M432.9 278.2h0.9M411.5 290.2h0.9M427.5 277.0h0.9M431.4 302.8h0.9M453.9 297.0h0.9M451.8 281.3h0.9M444.9 300.6h0.9M451.3 282.3h0.9M424.2 278.2h0.9M410.2 292.4h0.9M447.1 280.2h0.9M448.9 280.5h0.9M433.4 278.0h0.9M452.8 288.2h0.9M426.4 279.2h0.9M449.7 295.1h0.9M420.5 300.9h0.9M440.7 301.3h0.9M421.6 303.7h0.9M453.0 295.5h0.9M441.2 302.4h0.9M408.6 289.6h0.9M427.7 275.6h0.9M415.6 282.9h0.9M448.4 280.8h0.9M436.6 277.3h0.9M424.3 278.4h0.9M410.1 294.3h0.9M435.0 301.7h0.9M429.2 278.1h0.9M450.1 295.0h0.9M438.5 305.3h0.9M410.7 297.2h0.9M408.3 286.7h0.9M421.6 301.3h0.9M448.5 280.7h0.9M425.5 301.9h0.9M433.5 303.3h0.9M407.5 292.6h0.9M443.8 279.1h0.9M413.2 285.7h0.9M439.6 278.1h0.9M453.8 284.0h0.9M429.7 304.1h0.9M426.9 302.8h0.9M408.3 289.2h0.9M417.2 299.6h0.9M412.1 299.7h0.9M450.8 281.3h0.9M419.1 299.8h0.9M423.8 279.0h0.9M449.4 294.6h0.9M443.3 302.1h0.9M436.5 301.4h0.9M456.6 295.9h0.9M452.7 283.2h0.9M423.2 276.7h0.9M432.8 304.2h0.9M412.8 289.8h0.9M453.7 280.2h0.9M414.7 296.1h0.9M408.0 295.4h0.9M421.5 278.8h0.9M414.4 283.1h0.9M452.8 284.7h0.9M452.4 291.7h0.9M453.0 282.5h0.9M412.1 282.1h0.9M438.2 277.1h0.9M457.6 291.0h0.9M440.1 275.7h0.9M452.6 283.6h0.9M422.6 301.1h0.9M450.1 298.2h0.9M444.7 279.1h0.9M438.0 276.8h0.9M446.7 297.3h0.9M455.0 288.0h0.9M457.0 289.8h0.9M425.3 278.5h0.9M416.3 284.8h0.9M456.3 286.1h0.9M433.9 278.1h0.9M409.0 296.0h0.9M414.8 284.6h0.9M452.4 283.3h0.9M412.4 297.5h0.9M452.3 279.9h0.9M447.6 281.2h0.9M408.8 287.5h0.9M449.3 281.4h0.9M414.7 284.4h0.9M451.2 292.3h0.9M442.6 279.6h0.9M413.6 298.9h0.9M409.5 292.0h0.9M440.0 276.5h0.9M449.5 281.4h0.9M423.4 302.9h0.9M424.2 280.2h0.9M426.8 278.4h0.9M449.7 278.2h0.9M445.8 299.4h0.9M442.4 279.8h0.9M410.3 291.4h0.9M422.5 281.2h0.9M416.8 283.4h0.9M454.5 293.5h0.9M426.7 303.5h0.9M429.9 303.8h0.9M411.0 295.4h0.9M440.9 278.7h0.9M408.1 290.1h0.9M446.0 298.9h0.9M427.3 305.8h0.9M451.1 284.6h0.9M453.6 285.7h0.9M451.8 280.6h0.9M410.6 290.5h0.9M444.2 278.2h0.9M421.3 302.5h0.9M409.1 297.0h0.9M412.7 292.8h0.9M419.6 281.8h0.9M452.6 289.8h0.9M422.1 278.2h0.9M445.1 299.8h0.9M439.0 304.8h0.9M424.1 301.9h0.9M427.5 303.3h0.9M424.6 280.2h0.9M414.0 300.9h0.9M412.9 298.6h0.9M447.0 280.8h0.9M456.1 292.2h0.9M437.0 303.0h0.9M411.5 292.7h0.9M449.1 295.1h0.9M433.0 278.5h0.9M456.6 284.2h0.9M448.3 282.0h0.9M452.8 293.0h0.9M437.4 300.9h0.9M450.7 285.1h0.9M408.7 298.0h0.9M410.6 292.5h0.9M455.5 288.3h0.9M411.7 283.7h0.9M404.7 287.7h0.9M431.5 303.8h0.9M452.7 289.4h0.9M434.6 301.3h0.9M457.9 293.6h0.9M432.4 303.1h0.9M452.4 284.0h0.9M442.3 299.0h0.9M412.5 292.3h0.9M438.2 303.8h0.9M422.1 278.0h0.9M446.6 296.8h0.9M422.1 304.0h0.9M452.1 290.8h0.9M414.4 295.9h0.9M408.6 289.9h0.9M441.6 299.8h0.9M426.0 278.5h0.9M410.0 288.4h0.9M439.7 302.1h0.9M449.2 278.6h0.9M445.7 278.6h0.9M455.4 285.8h0.9M454.7 283.2h0.9M449.1 298.6h0.9M440.6 301.8h0.9" stroke="#3048f0" stroke-width="0.9" stroke-opacity="0.4" fill="none"/>
<path d="M328.7 277.9h0.9M320.7 294.5h0.9M307.1 292.2h0.9M327.5 286.6h0.9M308.8 276.6h0.9M321.9 292.2h0.9M326.8 281.4h0.9M301.5 282.5h0.9M301.4 285.6h0.9M306.5 288.7h0.9M323.5 289.1h0.9M323.0 278.2h0.9M308.8 291.5h0.9M329.2 280.9h0.9M302.2 290.9h0.9M319.4 291.4h0.9M308.9 293.3h0.9M305.5 286.9h0.9M328.2 291.4h0.9M325.7 293.4h0.9M317.3 275.9h0.9M313.1 296.2h0.9M326.9 287.6h0.9M316.5 277.2h0.9M321.4 277.7h0.9M315.9 291.6h0.9M324.8 289.7h0.9M322.2 292.4h0.9M304.1 288.0h0.9M326.8 289.2h0.9M328.3 283.1h0.9M304.9 282.1h0.9M305.8 286.6h0.9M310.5 290.8h0.9M325.7 280.6h0.9M305.0 282.1h0.9M313.2 292.3h0.9M327.9 285.4h0.9M333.4 282.0h0.9M311.4 295.4h0.9M302.4 284.4h0.9M307.6 290.0h0.9M308.1 278.6h0.9M312.4 277.6h0.9M328.3 286.9h0.9M330.7 279.8h0.9M303.9 283.9h0.9M306.2 284.1h0.9M324.4 294.4h0.9M329.7 278.5h0.9M330.7 279.8h0.9M303.7 279.1h0.9M324.9 292.2h0.9M309.5 275.7h0.9M325.0 292.8h0.9M315.4 276.9h0.9M315.3 294.0h0.9M322.0 296.0h0.9M306.9 292.0h0.9M302.9 282.8h0.9M320.0 292.0h0.9M329.2 290.7h0.9M309.1 292.6h0.9M328.3 287.9h0.9M328.0 288.4h0.9M327.3 282.3h0.9M321.3 292.3h0.9M311.5 276.1h0.9M301.2 287.0h0.9M319.7 279.5h0.9M333.8 282.2h0.9M304.1 287.2h0.9M315.6 275.1h0.9M322.2 291.6h0.9M328.3 290.5h0.9M312.6 292.7h0.9M307.1 284.9h0.9M320.6 276.8h0.9M311.2 291.4h0.9M329.5 284.5h0.9M328.8 284.4h0.9M319.7 292.8h0.9M303.0 288.8h0.9M318.0 293.3h0.9M308.2 292.7h0.9M323.3 277.1h0.9M306.4 289.4h0.9M326.8 293.1h0.9M326.7 290.0h0.9M330.1 286.5h0.9M303.9 289.0h0.9M308.7 293.4h0.9M305.3 281.9h0.9M324.0 292.1h0.9M314.2 296.7h0.9M321.0 276.9h0.9M305.9 289.9h0.9M313.1 276.5h0.9M305.1 290.8h0.9M304.9 280.5h0.9M326.6 281.5h0.9M308.1 279.9h0.9M328.7 279.7h0.9M320.2 292.9h0.9M308.2 290.1h0.9M312.3 276.8h0.9M319.2 278.1h0.9M327.0 280.4h0.9M314.0 275.8h0.9M313.8 277.5h0.9M320.2 277.3h0.9M299.2 286.5h0.9M303.6 279.9h0.9M308.8 278.8h0.9M304.0 289.2h0.9M302.8 292.2h0.9M324.8 288.8h0.9M326.7 291.8h0.9M319.3 276.3h0.9M301.7 282.0h0.9M325.3 277.3h0.9M323.9 278.9h0.9M306.9 282.0h0.9M308.2 277.0h0.9M318.3 295.9h0.9M311.9 275.4h0.9M328.3 283.8h0.9M322.0 294.0h0.9M324.8 279.4h0.9M333.3 283.2h0.9M327.3 288.1h0.9M331.0 287.4h0.9M311.4 290.3h0.9M304.0 281.1h0.9M306.6 282.3h0.9M300.3 284.0h0.9M324.9 291.8h0.9M315.1 277.4h0.9M330.2 283.0h0.9M311.1 296.9h0.9M321.3 277.0h0.9M323.1 279.0h0.9M327.8 282.5h0.9M308.2 292.9h0.9M327.6 290.4h0.9M313.5 294.8h0.9M318.7 294.4h0.9M327.8 288.7h0.9M312.1 280.3h0.9M331.7 287.5h0.9M327.7 289.4h0.9M328.7 288.1h0.9M327.2 278.5h0.9M310.2 296.6h0.9M313.6 275.0h0.9M326.8 285.3h0.9M310.8 293.0h0.9M327.4 290.3h0.9M302.2 291.9h0.9M307.7 290.2h0.9M330.1 289.2h0.9M305.2 288.3h0.9M321.8 293.3h0.9M299.5 285.7h0.9M308.0 294.0h0.9M304.7 290.6h0.9M326.8 288.1h0.9M317.1 278.2h0.9M309.0 280.6h0.9M318.7 279.5h0.9M326.4 277.7h0.9M302.7 284.9h0.9M312.1 276.5h0.9M328.2 290.6h0.9M309.7 293.2h0.9M328.3 288.6h0.9M322.9 294.0h0.9M313.9 295.8h0.9M327.9 283.7h0.9M318.5 293.1h0.9M320.2 293.6h0.9M313.3 294.7h0.9M318.6 277.8h0.9M321.5 292.1h0.9M306.0 287.3h0.9M305.7 293.9h0.9M326.3 292.8h0.9M303.3 290.4h0.9M314.4 277.7h0.9M319.3 297.0h0.9M320.5 292.8h0.9M303.3 285.1h0.9M330.5 291.7h0.9M312.7 292.5h0.9M305.4 292.6h0.9M322.4 294.3h0.9M307.6 278.4h0.9M305.3 280.2h0.9M306.1 285.3h0.9M325.3 278.4h0.9M325.9 280.8h0.9M311.9 277.0h0.9M323.5 277.6h0.9M314.2 275.6h0.9M325.9 287.2h0.9M304.6 283.5h0.9M301.7 280.0h0.9M305.0 290.4h0.9M301.9 290.1h0.9M329.1 283.7h0.9M306.1 282.9h0.9M328.9 280.7h0.9M311.8 275.1h0.9M309.2 278.3h0.9M320.0 276.6h0.9M311.5 291.3h0.9M302.5 289.8h0.9M311.5 291.7h0.9M299.9 287.9h0.9M311.4 296.6h0.9M327.9 281.9h0.9M306.1 282.5h0.9M318.0 277.6h0.9M325.6 279.1h0.9M309.1 295.1h0.9M328.0 291.3h0.9M314.2 292.3h0.9M309.3 278.5h0.9M325.0 278.3h0.9M301.0 288.5h0.9M330.2 283.0h0.9M317.8 294.9h0.9M303.9 280.5h0.9M304.2 291.8h0.9M306.4 288.5h0.9M318.8 292.2h0.9M330.9 280.9h0.9M311.5 295.2h0.9M308.1 276.5h0.9M307.2 276.0h0.9M315.7 292.9h0.9M327.7 292.2h0.9M317.8 274.0h0.9M328.4 277.7h0.9M321.3 277.2h0.9M326.8 287.1h0.9M330.4 286.8h0.9M308.3 290.1h0.9M303.6 284.6h0.9M317.2 277.7h0.9M323.0 289.2h0.9M324.6 289.2h0.9M309.0 294.9h0.9M303.9 286.0h0.9M322.8 278.0h0.9M305.2 283.5h0.9M318.8 296.1h0.9M328.6 287.5h0.9M307.1 293.8h0.9M328.5 282.9h0.9M328.1 279.6h0.9M310.2 278.5h0.9M310.1 291.9h0.9M330.0 286.4h0.9M332.0 286.1h0.9M327.4 285.4h0.9M327.7 280.0h0.9M332.2 282.4h0.9M330.2 290.1h0.9M312.6 293.6h0.9M328.2 288.9h0.9M311.8 278.7h0.9M319.9 295.2h0.9M311.7 276.4h0.9M306.1 292.3h0.9M305.3 280.8h0.9M312.3 278.5h0.9M320.0 294.9h0.9M325.6 280.5h0.9M327.3 280.0h0.9M311.6 295.1h0.9M328.0 281.7h0.9M326.1 283.0h0.9M321.3 295.7h0.9M326.0 277.2h0.9M313.2 293.2h0.9M314.1 279.2h0.9M311.4 295.4h0.9M328.1 279.3h0.9M324.0 278.6h0.9M313.7 274.4h0.9M325.8 279.8h0.9M313.5 293.8h0.9M328.3 291.2h0.9M310.2 290.4h0.9M317.9 293.0h0.9M324.1 277.0h0.9M305.5 282.4h0.9M303.8 287.2h0.9M303.2 292.2h0.9M308.7 281.9h0.9M324.9 278.1h0.9M300.2 287.7h0.9M310.9 292.1h0.9M307.7 251.0h0.9M306.0 250.9h0.9M311.1 253.8h0.9M311.6 249.0h0.9M311.3 251.9h0.9M308.0 251.5h0.9M312.7 251.8h0.9M312.5 253.7h0.9M310.7 254.3h0.9M305.7 252.1h0.9M307.7 252.8h0.9M310.3 254.2h0.9M307.7 252.7h0.9M317.4 252.7h0.9M306.3 253.2h0.9M307.5 251.0h0.9M309.2 250.4h0.9M308.5 250.0h0.9M317.2 253.8h0.9M305.8 252.5h0.9M307.7 250.9h0.9M311.4 252.9h0.9M314.1 253.5h0.9M314.5 254.5h0.9M314.6 253.3h0.9M309.3 253.1h0.9M315.2 252.1h0.9M308.9 251.6h0.9M306.9 252.8h0.9M309.5 252.6h0.9M318.3 254.6h0.9M309.6 253.0h0.9M307.8 252.8h0.9M310.1 253.1h0.9M308.7 251.3h0.9M305.2 252.8h0.9M305.5 251.2h0.9M309.2 253.1h0.9M317.6 251.7h0.9M312.3 252.1h0.9M309.1 250.7h0.9M311.6 253.7h0.9M309.8 253.8h0.9M312.6 252.9h0.9M306.9 251.7h0.9M308.8 251.6h0.9M306.5 251.0h0.9M315.6 250.8h0.9M308.1 251.3h0.9M311.6 251.2h0.9M306.6 253.9h0.9M312.7 251.0h0.9M306.8 251.5h0.9M315.6 251.4h0.9M309.0 251.7h0.9M306.3 251.6h0.9M415.2 292.7h0.9M444.1 295.2h0.9M415.6 288.2h0.9M420.1 285.0h0.9M417.6 287.8h0.9M414.9 292.1h0.9M428.0 280.0h0.9M441.5 295.7h0.9M444.8 285.8h0.9M418.1 291.6h0.9M430.4 300.1h0.9M428.7 299.9h0.9M423.3 284.4h0.9M418.2 288.8h0.9M448.6 283.5h0.9M419.3 289.5h0.9M441.3 299.0h0.9M436.4 299.6h0.9M439.4 281.7h0.9M418.4 293.6h0.9M448.0 286.6h0.9M437.3 299.4h0.9M441.0 282.2h0.9M418.8 288.4h0.9M440.6 279.6h0.9M421.2 296.0h0.9M426.7 297.9h0.9M449.9 287.0h0.9M418.3 291.4h0.9M437.5 280.0h0.9M444.3 294.5h0.9M426.8 298.0h0.9M439.3 280.9h0.9M436.5 300.2h0.9M428.6 298.6h0.9M444.2 294.9h0.9M416.2 296.9h0.9M446.2 294.1h0.9M425.0 298.2h0.9M447.7 283.8h0.9M449.9 289.6h0.9M447.4 287.2h0.9M425.8 299.3h0.9M448.9 289.9h0.9M449.7 288.2h0.9M418.4 294.4h0.9M446.0 283.3h0.9M417.1 285.7h0.9M448.1 288.5h0.9M418.1 295.7h0.9M426.3 300.7h0.9M422.3 283.4h0.9M438.9 280.4h0.9M425.2 282.6h0.9M450.3 288.5h0.9M419.2 285.4h0.9M445.1 285.4h0.9M419.2 297.0h0.9M425.9 281.7h0.9M440.1 297.3h0.9M442.3 297.6h0.9M445.2 284.9h0.9M447.5 293.6h0.9M447.4 295.4h0.9M430.0 298.5h0.9M421.3 299.3h0.9M449.1 290.7h0.9M439.5 296.5h0.9M432.6 281.6h0.9M443.7 296.3h0.9M437.9 298.1h0.9M414.2 294.1h0.9M444.5 284.5h0.9M426.8 281.3h0.9M433.6 297.4h0.9M437.1 281.6h0.9M419.6 293.5h0.9M442.7 295.1h0.9M450.7 291.7h0.9M431.8 279.3h0.9M435.8 299.1h0.9M446.4 294.5h0.9M419.9 295.9h0.9M446.6 292.1h0.9M439.6 283.5h0.9M438.2 280.1h0.9M418.1 285.5h0.9M449.1 293.7h0.9M431.4 297.7h0.9M445.4 284.5h0.9M451.3 289.6h0.9M428.1 280.4h0.9M435.8 299.5h0.9M443.5 293.3h0.9M430.1 300.3h0.9M442.4 296.9h0.9M448.9 293.9h0.9M419.9 296.8h0.9M450.3 291.7h0.9M419.9 285.7h0.9M446.9 288.5h0.9M449.6 292.0h0.9M416.6 292.4h0.9M445.1 284.9h0.9M445.0 296.4h0.9M416.4 296.6h0.9M440.6 282.7h0.9M424.1 284.2h0.9M422.6 296.0h0.9M436.5 280.5h0.9M442.2 295.3h0.9M420.9 285.1h0.9M420.2 297.1h0.9M423.6 281.6h0.9M431.5 298.7h0.9M446.0 295.7h0.9M437.8 281.6h0.9M437.1 297.7h0.9M434.4 280.5h0.9M449.6 285.1h0.9M433.6 281.5h0.9M439.6 297.7h0.9M418.6 290.4h0.9M443.4 297.5h0.9M445.2 288.0h0.9M436.2 299.4h0.9M446.9 293.3h0.9M426.5 280.4h0.9M419.9 287.2h0.9M435.6 279.4h0.9M450.3 287.1h0.9M444.8 295.6h0.9M449.5 288.6h0.9M424.1 283.3h0.9M444.0 294.5h0.9M417.7 284.8h0.9M418.4 294.1h0.9M418.5 295.5h0.9M416.4 292.6h0.9M421.4 283.8h0.9M420.0 285.3h0.9M450.0 288.4h0.9M432.7 279.9h0.9M429.0 283.0h0.9M421.4 283.5h0.9M438.4 297.0h0.9M417.2 293.6h0.9M427.7 281.3h0.9M416.0 290.2h0.9M449.2 287.0h0.9M421.7 285.4h0.9M421.3 295.0h0.9M433.8 282.6h0.9M423.7 298.3h0.9M414.7 290.4h0.9M422.0 295.4h0.9M420.0 285.3h0.9M438.2 297.1h0.9M418.7 284.8h0.9M445.1 294.3h0.9M448.3 286.5h0.9M427.0 300.0h0.9M421.4 283.8h0.9M447.2 290.7h0.9M437.6 279.7h0.9M415.6 293.1h0.9M424.4 283.6h0.9M427.3 297.8h0.9M449.1 292.5h0.9M450.7 287.3h0.9M438.3 297.9h0.9M415.1 289.2h0.9M443.6 283.0h0.9M430.9 299.8h0.9M419.2 288.5h0.9M448.4 291.8h0.9M446.4 288.1h0.9M433.0 298.4h0.9M444.8 295.6h0.9M419.1 297.3h0.9M422.0 296.3h0.9M445.2 295.2h0.9M418.5 293.9h0.9M422.5 296.8h0.9M442.5 283.3h0.9M437.2 279.7h0.9M416.6 296.1h0.9M444.8 286.5h0.9M429.6 297.7h0.9M445.8 294.1h0.9M432.2 280.1h0.9M418.1 296.4h0.9M436.4 278.9h0.9M436.0 280.0h0.9M417.5 295.7h0.9M428.8 299.1h0.9M447.0 285.9h0.9M441.5 282.0h0.9M423.3 282.9h0.9M428.8 281.8h0.9M418.2 284.7h0.9M418.9 285.1h0.9M445.2 295.5h0.9M428.5 280.4h0.9M416.2 293.0h0.9M435.4 280.5h0.9M443.7 283.6h0.9M425.1 281.3h0.9M419.6 286.5h0.9M434.7 299.8h0.9M447.6 291.3h0.9M423.7 298.5h0.9M429.6 280.8h0.9M447.9 291.7h0.9M429.3 299.4h0.9M450.8 288.3h0.9M416.3 289.0h0.9M422.0 294.5h0.9M415.9 292.0h0.9M423.9 296.0h0.9M425.7 298.4h0.9M441.5 298.3h0.9M420.6 283.1h0.9M446.2 295.1h0.9M417.5 297.8h0.9M422.5 298.1h0.9M426.1 296.9h0.9M421.1 296.2h0.9M445.7 288.1h0.9M437.3 281.6h0.9M416.5 293.8h0.9M445.1 296.1h0.9M435.4 297.4h0.9M431.1 300.0h0.9M448.3 291.8h0.9M432.1 300.4h0.9M449.2 286.9h0.9M432.5 281.1h0.9M415.5 296.2h0.9M446.5 294.4h0.9M431.7 279.6h0.9M451.0 288.2h0.9M428.6 282.2h0.9M423.6 284.1h0.9M443.3 295.1h0.9M446.6 290.1h0.9M417.3 293.6h0.9M419.0 285.5h0.9M444.2 296.7h0.9M441.8 298.1h0.9M418.0 284.8h0.9M428.5 300.9h0.9M426.8 279.8h0.9M447.8 294.1h0.9M425.0 281.8h0.9M432.0 297.6h0.9M444.9 294.3h0.9M419.4 286.0h0.9M419.2 287.0h0.9M439.8 282.7h0.9M438.6 297.1h0.9M414.0 290.5h0.9M446.0 289.4h0.9M424.0 282.7h0.9M442.8 294.0h0.9M443.3 296.5h0.9M423.8 281.3h0.9M446.0 297.0h0.9M446.7 286.3h0.9M416.8 287.4h0.9M431.3 299.6h0.9M436.6 297.4h0.9M425.9 299.4h0.9M444.2 293.4h0.9M446.6 294.4h0.9M425.9 299.9h0.9M433.4 280.7h0.9M449.4 288.8h0.9M447.6 287.9h0.9M445.1 286.2h0.9M441.3 283.9h0.9M448.1 292.9h0.9M449.5 293.8h0.9M420.3 299.3h0.9M432.0 280.8h0.9M425.8 299.8h0.9M421.4 294.9h0.9M448.3 283.7h0.9M438.2 280.3h0.9M420.9 285.4h0.9M417.8 295.0h0.9M434.2 282.1h0.9M428.8 283.4h0.9M418.6 297.6h0.9M446.9 291.0h0.9M431.6 299.0h0.9M426.8 281.4h0.9M417.7 285.4h0.9M418.3 287.1h0.9M434.3 281.6h0.9M415.9 295.0h0.9M442.5 297.6h0.9M423.6 297.1h0.9M438.5 280.1h0.9M445.7 294.8h0.9M434.4 298.9h0.9M443.1 283.0h0.9M445.6 293.7h0.9M449.7 292.3h0.9M420.4 294.6h0.9M416.3 287.6h0.9M444.7 295.0h0.9M440.4 280.5h0.9M448.0 283.3h0.9M416.8 290.5h0.9M444.1 286.1h0.9M446.4 281.7h0.9M423.0 282.3h0.9M437.7 296.5h0.9M418.4 284.3h0.9M421.6 282.8h0.9M442.3 281.6h0.9M422.9 296.4h0.9M426.6 300.3h0.9M436.5 299.8h0.9M441.3 296.2h0.9M423.2 296.7h0.9M429.1 298.7h0.9M448.2 285.9h0.9M450.5 287.0h0.9M438.7 282.6h0.9M438.6 281.8h0.9M446.1 290.9h0.9M448.1 286.6h0.9M428.6 298.8h0.9M423.0 296.6h0.9M436.7 280.6h0.9M419.2 285.4h0.9M415.4 295.2h0.9" stroke="#3060f0" stroke-width="0.9" stroke-opacity="0.6" fill="none"/>
<path d="M315.6 279.9h0.9M318.2 285.2h0.9M316.4 289.9h0.9M311.6 283.4h0.9M315.8 290.0h0.9M315.7 287.7h0.9M323.2 282.1h0.9M314.6 285.2h0.9M319.9 280.7h0.9M314.0 281.4h0.9M315.8 281.5h0.9M320.1 283.0h0.9M308.9 285.0h0.9M313.2 289.2h0.9M324.0 285.6h0.9M310.5 289.5h0.9M314.8 281.8h0.9M317.1 280.2h0.9M319.7 287.3h0.9M316.1 286.1h0.9M315.8 285.2h0.9M314.7 289.3h0.9M311.0 284.1h0.9M313.8 283.7h0.9M314.8 286.5h0.9M323.0 286.4h0.9M316.6 289.5h0.9M312.1 284.8h0.9M318.2 288.6h0.9M315.8 289.8h0.9M318.9 283.6h0.9M316.5 281.8h0.9M319.9 287.2h0.9M317.8 279.9h0.9M315.5 283.1h0.9M316.5 284.6h0.9M310.3 289.3h0.9M308.8 285.7h0.9M317.1 288.0h0.9M317.3 288.3h0.9M317.0 280.0h0.9M311.7 282.7h0.9M317.4 282.8h0.9M315.2 282.0h0.9M321.0 288.5h0.9M311.5 284.8h0.9M318.9 284.5h0.9M308.2 285.4h0.9M313.2 284.1h0.9M311.7 287.4h0.9M315.1 284.1h0.9M312.4 284.0h0.9M319.4 290.0h0.9M315.3 289.5h0.9M315.8 286.9h0.9M315.2 289.8h0.9M316.6 286.1h0.9M321.4 285.1h0.9M315.2 288.5h0.9M322.0 285.9h0.9M315.1 286.5h0.9M315.6 290.6h0.9M318.3 288.4h0.9M316.1 282.0h0.9M318.4 281.2h0.9M316.0 280.0h0.9M320.1 281.1h0.9M318.5 287.6h0.9M312.7 288.5h0.9M311.6 285.0h0.9M321.9 286.5h0.9M310.6 287.7h0.9M321.8 289.2h0.9M318.4 290.6h0.9M318.0 285.5h0.9M321.9 284.4h0.9M316.4 288.3h0.9M322.0 286.7h0.9M317.8 286.3h0.9M311.9 285.2h0.9M319.0 285.2h0.9M318.5 283.2h0.9M320.6 283.7h0.9M435.5 285.7h0.9M430.0 295.2h0.9M424.9 293.2h0.9M440.3 288.7h0.9M431.3 285.0h0.9M438.2 293.7h0.9M435.2 294.8h0.9M427.4 293.8h0.9M429.3 294.8h0.9M430.8 294.5h0.9M436.2 294.0h0.9M434.4 294.6h0.9M424.1 288.7h0.9M440.6 288.3h0.9M429.5 285.5h0.9M426.7 293.0h0.9M433.3 285.6h0.9M434.2 284.7h0.9M425.9 293.9h0.9M423.4 290.7h0.9M441.6 289.6h0.9M440.6 291.2h0.9M439.9 288.0h0.9M425.2 292.8h0.9M430.4 285.4h0.9M438.0 285.7h0.9M426.1 287.1h0.9M440.0 286.7h0.9M437.7 294.0h0.9M424.9 292.2h0.9M440.2 286.8h0.9" stroke="#30a8c0" stroke-width="0.9" stroke-opacity="0.8" fill="none"/>
<path d="M319.4 296.6h0.9M327.5 294.0h0.9M319.0 296.5h0.9M308.8 276.0h0.9M313.8 296.6h0.9M316.8 274.5h0.9M317.6 274.0h0.9M312.8 274.8h0.9M325.4 251.5h0.9M324.7 254.2h0.9M318.6 251.6h0.9M338.5 250.5h0.9M338.9 253.2h0.9M316.7 252.7h0.9M333.9 255.1h0.9M332.3 252.7h0.9M337.2 252.8h0.9M337.6 252.0h0.9M322.4 254.3h0.9M332.8 251.9h0.9M321.3 252.8h0.9M333.5 250.9h0.9M340.0 249.4h0.9M325.5 252.8h0.9M322.8 250.6h0.9M325.2 253.3h0.9" stroke="#4848f0" stroke-width="0.9" stroke-opacity="0.6" fill="none"/>
<path d="M337.1 291.9h0.9M333.9 272.5h0.9M331.9 297.8h0.9M294.8 277.5h0.9M306.1 309.8h0.9M295.1 300.8h0.9M283.4 285.5h0.9M334.8 294.7h0.9M292.7 276.4h0.9M300.4 271.4h0.9M312.8 270.8h0.9M336.1 293.5h0.9M306.6 304.6h0.9M338.5 278.4h0.9M328.7 303.1h0.9M321.0 301.1h0.9M324.0 302.5h0.9M341.1 292.4h0.9M338.6 292.3h0.9M342.7 283.0h0.9M330.2 268.4h0.9M289.2 283.4h0.9M324.5 268.9h0.9M301.0 271.6h0.9M291.9 293.0h0.9M295.5 277.0h0.9M329.7 306.2h0.9M301.3 264.8h0.9M331.9 270.7h0.9M313.0 265.4h0.9M334.6 296.8h0.9M322.8 300.7h0.9M318.2 269.3h0.9M331.9 298.1h0.9M351.3 280.4h0.9M340.2 299.6h0.9M291.6 288.1h0.9M298.6 296.1h0.9M333.8 271.4h0.9M336.1 271.2h0.9M339.8 291.2h0.9M283.0 284.4h0.9M282.3 290.3h0.9M333.4 296.2h0.9M328.2 298.4h0.9M292.2 291.3h0.9M463.1 280.4h0.9M461.7 290.3h0.9M414.0 274.7h0.9M408.8 300.0h0.9M407.6 281.2h0.9M434.0 273.6h0.9M411.8 278.4h0.9M450.0 274.0h0.9M406.9 296.5h0.9M426.5 308.3h0.9M450.4 271.6h0.9M458.0 283.3h0.9M403.1 300.6h0.9M414.2 276.4h0.9M450.5 299.0h0.9M456.9 276.9h0.9M452.7 301.4h0.9M472.2 291.1h0.9M402.3 293.6h0.9M398.3 300.1h0.9M449.7 302.9h0.9M458.8 284.5h0.9M413.1 309.2h0.9M405.9 300.3h0.9M402.2 295.8h0.9M443.6 274.2h0.9M410.1 298.9h0.9M450.3 299.9h0.9M457.9 283.0h0.9M410.0 284.5h0.9M398.7 297.7h0.9M463.5 297.5h0.9M432.0 309.5h0.9M451.1 300.3h0.9M426.8 308.0h0.9M440.8 308.3h0.9M433.7 270.3h0.9M458.9 292.1h0.9M453.8 303.2h0.9M458.0 294.4h0.9M433.7 271.1h0.9M456.9 282.2h0.9M424.2 305.7h0.9M438.1 268.0h0.9M436.2 274.8h0.9M442.5 276.0h0.9M429.6 305.8h0.9M467.7 276.5h0.9M396.9 301.3h0.9M427.4 268.0h0.9M463.8 291.4h0.9M440.2 310.5h0.9M426.5 272.8h0.9M446.9 308.8h0.9M459.0 285.4h0.9M401.5 282.1h0.9M415.4 304.6h0.9M460.3 281.9h0.9M453.9 302.2h0.9M403.2 297.1h0.9M401.6 290.1h0.9M435.4 304.5h0.9M428.5 273.5h0.9M449.3 273.1h0.9M460.0 288.8h0.9M463.2 289.1h0.9M420.7 304.4h0.9M414.7 274.4h0.9M443.6 274.3h0.9M461.2 285.7h0.9M429.1 274.3h0.9M454.9 274.4h0.9M399.4 294.1h0.9M432.1 313.2h0.9M459.9 295.1h0.9M420.0 273.8h0.9M427.0 306.2h0.9M413.1 305.0h0.9M461.2 294.5h0.9M460.7 281.6h0.9M441.2 271.5h0.9M412.3 300.9h0.9M427.3 307.5h0.9" stroke="#6078f0" stroke-width="0.9" stroke-opacity="0.4" fill="none"/>
<path d="M317.6 291.3h0.9M317.3 291.3h0.9M323.5 288.6h0.9M292.9 252.4h0.9M300.5 252.9h0.9M292.6 251.2h0.9M292.6 253.4h0.9M300.6 251.0h0.9M296.3 253.3h0.9M298.1 252.8h0.9M301.2 250.9h0.9M294.8 252.6h0.9M301.3 251.9h0.9M297.1 251.8h0.9M295.5 251.4h0.9M295.2 252.2h0.9M290.8 252.8h0.9M293.7 252.2h0.9M444.1 291.9h0.9M440.9 294.6h0.9M432.5 283.2h0.9M442.5 289.0h0.9M437.4 296.1h0.9M427.5 296.6h0.9M442.7 290.2h0.9M438.9 294.9h0.9M423.8 292.8h0.9M423.9 286.3h0.9M424.0 287.0h0.9M423.7 292.6h0.9M420.7 290.8h0.9M439.2 285.6h0.9M429.0 284.8h0.9M423.3 292.4h0.9M433.8 296.4h0.9M426.9 295.1h0.9M439.3 295.0h0.9M424.6 293.3h0.9M423.5 292.0h0.9M440.9 293.1h0.9M427.9 284.5h0.9M441.4 285.7h0.9M421.0 290.4h0.9M423.0 291.4h0.9M435.4 295.7h0.9M441.2 292.2h0.9M439.3 294.7h0.9M422.0 294.4h0.9M421.5 291.5h0.9M430.1 284.7h0.9M445.0 290.3h0.9M440.6 294.1h0.9M440.3 293.7h0.9M441.0 285.6h0.9M437.8 296.1h0.9M424.6 293.4h0.9M424.0 293.8h0.9M426.1 286.5h0.9M438.2 294.3h0.9M426.5 285.7h0.9M420.2 291.2h0.9M444.2 290.6h0.9M424.4 285.3h0.9" stroke="#30c0a8" stroke-width="0.9" stroke-opacity="0.6" fill="none"/>
<path d="M311.4 284.1h0.9M308.5 287.1h0.9M312.7 286.8h0.9M320.0 286.4h0.9M318.0 283.3h0.9M324.0 286.8h0.9M316.5 281.0h0.9M310.6 288.0h0.9M316.0 280.5h0.9M309.4 286.7h0.9M321.6 289.0h0.9M310.3 286.8h0.9M312.2 287.1h0.9M319.2 287.3h0.9M323.0 288.8h0.9M320.1 288.2h0.9M309.6 286.2h0.9M310.4 285.0h0.9M315.0 288.5h0.9M323.9 287.2h0.9M320.9 284.5h0.9M318.5 282.4h0.9M311.9 282.7h0.9M322.7 286.6h0.9M313.4 283.1h0.9M321.4 282.9h0.9M319.7 289.1h0.9M318.7 283.8h0.9M309.2 287.2h0.9M316.2 290.6h0.9M320.0 281.4h0.9M322.1 287.3h0.9M322.2 285.8h0.9M436.8 285.0h0.9" stroke="#3090c0" stroke-width="0.9" stroke-opacity="0.8" fill="none"/>
<path d="M333.3 281.9h0.9M326.8 276.0h0.9M313.9 294.1h0.9M301.2 285.8h0.9M315.7 295.1h0.9M301.8 292.1h0.9M301.6 282.3h0.9M332.3 282.0h0.9M329.8 284.2h0.9M309.0 277.8h0.9M303.5 292.1h0.9M301.5 288.5h0.9M328.1 289.7h0.9M300.6 283.5h0.9M303.0 293.3h0.9M317.9 296.3h0.9M333.9 282.8h0.9M324.7 275.8h0.9M302.2 291.4h0.9M321.6 294.9h0.9M310.6 293.6h0.9M313.1 274.1h0.9M301.8 287.8h0.9M305.1 277.0h0.9M303.4 279.2h0.9M310.4 295.3h0.9M302.4 280.9h0.9M306.8 278.6h0.9M330.0 279.6h0.9M333.6 285.7h0.9M321.5 293.1h0.9M307.2 276.0h0.9M300.6 282.8h0.9M310.0 277.7h0.9M330.8 290.9h0.9M325.8 290.9h0.9M323.3 294.8h0.9M305.8 277.8h0.9M331.0 291.3h0.9M304.9 291.7h0.9M328.3 290.9h0.9M327.5 291.7h0.9M319.7 295.5h0.9M309.0 295.8h0.9M320.1 295.4h0.9M317.5 295.0h0.9M331.5 280.8h0.9M301.3 287.5h0.9M333.2 285.0h0.9M315.7 294.9h0.9M310.4 295.0h0.9M332.4 284.7h0.9M321.0 274.8h0.9M305.3 293.3h0.9M310.3 276.3h0.9M300.7 281.7h0.9M301.4 280.8h0.9M323.1 274.5h0.9M327.9 290.9h0.9M313.6 296.8h0.9M332.8 282.7h0.9M318.7 276.2h0.9M330.9 287.4h0.9M310.2 293.5h0.9M330.1 281.4h0.9M320.3 274.8h0.9M314.4 295.3h0.9M305.2 279.6h0.9M313.6 277.0h0.9M309.0 296.6h0.9M329.5 279.2h0.9M328.5 290.3h0.9M305.1 278.3h0.9M330.4 287.3h0.9M300.1 286.1h0.9M315.7 297.1h0.9M321.5 296.4h0.9M312.7 296.8h0.9M308.5 296.4h0.9M322.7 275.3h0.9M310.3 277.6h0.9M302.2 291.1h0.9M330.1 282.1h0.9M306.9 295.4h0.9M333.8 282.3h0.9M310.2 275.7h0.9M300.4 287.2h0.9M321.7 275.5h0.9M305.4 295.1h0.9M317.5 296.9h0.9M331.3 280.2h0.9M304.5 294.7h0.9M321.4 296.0h0.9M312.3 294.4h0.9M302.2 287.4h0.9M314.9 295.7h0.9M300.8 285.3h0.9M328.7 277.3h0.9M328.2 280.3h0.9M300.6 281.4h0.9M317.5 274.5h0.9M326.5 291.8h0.9M300.1 284.3h0.9M306.7 278.8h0.9M327.5 293.3h0.9M307.7 292.8h0.9M303.0 286.0h0.9M306.9 277.1h0.9M316.3 295.5h0.9M327.8 276.9h0.9M302.0 280.4h0.9M307.9 294.2h0.9M303.8 293.0h0.9M331.1 291.6h0.9M326.8 293.1h0.9M320.3 293.8h0.9M300.6 284.9h0.9M312.6 294.1h0.9M319.0 275.3h0.9M316.6 275.2h0.9M299.3 286.2h0.9M304.0 280.1h0.9M308.0 278.5h0.9M304.9 294.0h0.9M328.8 278.6h0.9M332.6 286.0h0.9M305.2 293.6h0.9M314.5 251.6h0.9M327.4 251.3h0.9M313.6 253.8h0.9M320.6 252.4h0.9M337.5 252.7h0.9M314.2 253.3h0.9M318.4 254.5h0.9M332.7 251.7h0.9M335.1 251.3h0.9M327.3 252.2h0.9M316.0 252.6h0.9M312.4 253.1h0.9M317.4 252.3h0.9M320.1 252.4h0.9M324.6 251.1h0.9M326.3 254.1h0.9M318.0 252.8h0.9M315.0 252.8h0.9M329.4 253.5h0.9M314.1 252.3h0.9M311.9 252.3h0.9M329.4 251.8h0.9M314.5 253.4h0.9M338.4 251.5h0.9M320.1 252.6h0.9M310.0 253.7h0.9M332.0 251.7h0.9M330.0 251.7h0.9M323.7 252.6h0.9M324.3 252.0h0.9M312.7 253.2h0.9M336.7 251.2h0.9M315.0 251.6h0.9M324.7 250.1h0.9M331.6 250.6h0.9M312.1 252.7h0.9M322.0 252.8h0.9M315.7 250.7h0.9M309.7 253.1h0.9M325.8 251.9h0.9M331.2 251.2h0.9M331.3 252.7h0.9M326.6 251.9h0.9M328.4 252.1h0.9M323.3 255.0h0.9M311.0 253.5h0.9M315.6 252.0h0.9M318.7 252.8h0.9M335.4 257.0h0.9M315.6 253.1h0.9M316.0 254.5h0.9M329.5 254.3h0.9M328.6 251.6h0.9M318.9 251.6h0.9M341.5 252.4h0.9M331.4 253.1h0.9M315.6 253.5h0.9M327.3 250.5h0.9M321.2 252.7h0.9M334.2 252.1h0.9M312.4 253.8h0.9M319.5 255.1h0.9M313.4 251.4h0.9M312.1 252.3h0.9M313.2 251.7h0.9M318.9 252.8h0.9M316.0 252.2h0.9M313.0 253.0h0.9M327.5 251.5h0.9M316.7 251.7h0.9M324.7 249.9h0.9M310.8 252.7h0.9M320.9 250.6h0.9M317.3 250.6h0.9M312.3 250.7h0.9M334.8 252.6h0.9M333.1 253.1h0.9M316.5 254.9h0.9M322.9 251.9h0.9M326.8 251.3h0.9M319.3 249.5h0.9M316.0 251.3h0.9M319.1 253.9h0.9M315.4 251.6h0.9M321.6 251.3h0.9M314.8 250.3h0.9M315.8 254.0h0.9M340.1 254.2h0.9M330.8 251.6h0.9M337.0 252.5h0.9M321.4 255.4h0.9M318.8 254.0h0.9M330.5 252.5h0.9M317.0 252.9h0.9M316.4 252.5h0.9M340.5 252.2h0.9M341.5 252.7h0.9M319.8 252.4h0.9M320.1 252.3h0.9M318.6 251.5h0.9M318.3 251.3h0.9M320.5 252.5h0.9M319.8 253.2h0.9M329.0 251.6h0.9M320.8 251.8h0.9M315.8 253.1h0.9M313.9 252.1h0.9M319.5 254.3h0.9M317.8 253.0h0.9M335.8 251.1h0.9M325.6 252.3h0.9M324.3 252.6h0.9M315.9 253.9h0.9M322.0 250.0h0.9M332.6 251.6h0.9M331.8 252.3h0.9M341.0 251.6h0.9M317.6 252.3h0.9M317.3 252.9h0.9M341.1 253.4h0.9M314.8 250.9h0.9M310.3 249.9h0.9M311.9 254.7h0.9M332.2 252.3h0.9M340.7 252.7h0.9M320.4 252.9h0.9M329.2 253.3h0.9M316.9 251.7h0.9M329.2 252.8h0.9M339.8 251.1h0.9M311.1 254.5h0.9M324.5 253.8h0.9M319.5 251.9h0.9M309.9 254.5h0.9M312.1 251.5h0.9M330.9 254.0h0.9M328.2 253.7h0.9M321.2 253.4h0.9M315.2 254.2h0.9M313.0 252.7h0.9M315.3 252.0h0.9M327.5 253.7h0.9M317.7 253.3h0.9M425.7 300.7h0.9M450.9 292.0h0.9M450.8 289.6h0.9M422.3 283.2h0.9M451.3 288.7h0.9M443.1 280.5h0.9M430.2 279.4h0.9M434.9 299.9h0.9M440.3 298.5h0.9M444.5 296.6h0.9M422.7 298.7h0.9M439.4 298.3h0.9M416.6 286.2h0.9M446.0 283.0h0.9M419.9 296.6h0.9M431.9 300.8h0.9M415.6 292.4h0.9M449.7 292.5h0.9M446.5 283.0h0.9M448.1 294.8h0.9M447.8 294.2h0.9M446.6 295.4h0.9M424.2 300.3h0.9M426.2 300.6h0.9M450.4 292.4h0.9M430.5 299.9h0.9M428.8 279.5h0.9M448.4 283.5h0.9M451.1 291.3h0.9M414.1 291.2h0.9M433.4 300.0h0.9M425.7 280.9h0.9M430.5 299.7h0.9M448.7 283.0h0.9M445.3 296.9h0.9M449.3 293.9h0.9M448.0 293.4h0.9M450.0 291.4h0.9M444.5 281.6h0.9M415.0 290.7h0.9M438.8 298.9h0.9M421.8 299.6h0.9M435.7 279.0h0.9M424.8 281.3h0.9M441.2 298.9h0.9M438.6 280.7h0.9M435.0 280.1h0.9M437.0 280.2h0.9M441.9 297.5h0.9M443.4 280.6h0.9M436.0 299.3h0.9M414.6 290.4h0.9M447.1 295.4h0.9M431.4 279.4h0.9M449.5 293.5h0.9M439.8 299.0h0.9M419.2 282.9h0.9M442.4 280.4h0.9M420.8 282.2h0.9M449.0 292.3h0.9M436.6 279.5h0.9M450.4 287.2h0.9M415.0 291.1h0.9M449.2 287.2h0.9M415.2 289.4h0.9M425.0 299.1h0.9M450.6 288.7h0.9M437.0 299.1h0.9M417.5 295.8h0.9M443.0 296.6h0.9M445.6 296.4h0.9M417.5 287.4h0.9M450.9 288.6h0.9M440.6 299.4h0.9M444.1 297.7h0.9M444.3 297.7h0.9M426.7 299.3h0.9M429.7 279.5h0.9M440.1 279.4h0.9M428.3 280.7h0.9M450.8 292.2h0.9M415.0 288.9h0.9M450.2 286.7h0.9M415.3 291.4h0.9M448.9 286.3h0.9M419.6 298.1h0.9M421.4 298.4h0.9M419.0 298.3h0.9M437.8 299.8h0.9" stroke="#3048f0" stroke-width="0.9" stroke-opacity="0.6" fill="none"/>
<path d="M311.4 286.0h0.9M318.5 287.1h0.9M317.8 288.2h0.9M321.0 286.3h0.9M318.6 286.2h0.9M315.1 285.2h0.9M313.3 284.8h0.9M317.4 287.6h0.9M316.4 283.8h0.9M320.7 286.9h0.9M316.8 283.8h0.9M313.8 285.5h0.9M318.6 283.3h0.9M312.0 286.3h0.9M317.7 285.2h0.9M316.9 283.8h0.9M315.0 285.0h0.9M311.4 285.3h0.9M313.4 284.2h0.9M315.8 287.8h0.9M430.4 288.8h0.9M428.1 292.8h0.9M434.8 285.6h0.9M440.7 287.9h0.9M438.6 293.2h0.9M427.7 294.0h0.9M433.3 291.9h0.9M435.9 285.7h0.9M434.3 288.8h0.9M434.7 286.1h0.9M435.5 292.9h0.9M434.1 286.1h0.9M433.0 285.0h0.9M430.1 292.9h0.9M438.6 290.0h0.9M435.5 291.9h0.9M433.3 294.8h0.9M435.5 290.3h0.9M428.3 287.1h0.9M427.1 291.3h0.9M431.6 288.3h0.9M439.1 286.5h0.9M433.1 291.8h0.9M433.6 284.9h0.9M429.5 285.6h0.9M434.9 294.1h0.9M435.6 290.9h0.9M428.8 288.9h0.9M437.9 291.3h0.9M424.8 292.5h0.9M430.7 295.3h0.9M435.6 291.1h0.9M430.1 291.0h0.9M427.6 289.7h0.9M434.2 290.5h0.9M432.6 285.8h0.9M430.6 292.1h0.9M431.8 285.3h0.9M439.7 291.7h0.9M430.1 293.0h0.9M432.0 285.6h0.9M433.5 291.3h0.9M436.2 289.2h0.9M433.1 294.7h0.9M430.4 285.1h0.9M425.7 291.5h0.9M437.4 293.9h0.9M438.9 288.0h0.9M432.5 286.8h0.9M436.5 286.2h0.9M439.2 292.7h0.9M427.8 290.7h0.9M430.0 289.5h0.9M435.9 288.9h0.9M433.4 286.3h0.9M427.8 290.3h0.9M427.9 288.6h0.9M431.1 293.8h0.9M438.7 290.0h0.9M432.1 294.2h0.9M434.7 291.1h0.9M428.1 290.8h0.9M435.6 291.3h0.9M423.4 291.2h0.9M440.5 290.5h0.9M427.3 294.0h0.9M439.5 292.1h0.9M426.1 294.1h0.9M424.9 287.8h0.9M435.2 290.6h0.9M433.7 286.1h0.9M428.1 294.6h0.9M423.7 289.2h0.9M431.3 286.2h0.9M434.9 294.4h0.9M437.3 288.3h0.9M425.3 287.3h0.9M429.2 295.2h0.9M440.7 289.9h0.9M428.4 294.5h0.9M424.3 291.3h0.9" stroke="#30c060" stroke-width="0.9" stroke-opacity="0.8" fill="none"/>
<path d="M314.1 283.8h0.9M315.2 282.0h0.9M322.5 287.5h0.9M320.5 284.4h0.9M318.2 283.5h0.9M317.8 286.3h0.9M318.3 289.4h0.9M316.0 285.5h0.9M310.7 282.2h0.9M318.9 290.4h0.9M316.1 286.8h0.9M311.9 289.6h0.9M322.4 287.2h0.9M317.3 286.0h0.9M309.4 287.5h0.9M318.7 283.3h0.9M310.4 286.3h0.9M316.5 282.3h0.9M313.0 289.3h0.9M311.5 286.3h0.9M315.1 288.1h0.9M315.2 281.6h0.9M314.9 286.2h0.9M322.4 282.5h0.9M321.4 283.6h0.9M314.2 286.5h0.9M315.3 283.1h0.9M312.1 284.1h0.9M314.2 283.5h0.9M311.0 282.7h0.9M322.1 288.5h0.9M319.2 286.8h0.9M315.0 290.0h0.9M320.2 283.9h0.9M316.8 288.5h0.9M323.8 286.9h0.9M321.7 285.6h0.9M313.3 288.7h0.9M317.6 287.5h0.9M310.6 284.6h0.9M311.9 282.4h0.9M313.5 286.3h0.9M316.9 290.5h0.9M318.7 285.3h0.9M320.2 285.0h0.9M320.4 289.3h0.9M314.6 281.8h0.9M321.1 286.3h0.9M313.5 286.9h0.9M321.4 289.8h0.9M313.2 289.9h0.9M433.0 293.6h0.9M429.1 286.3h0.9M430.4 287.0h0.9M438.1 290.0h0.9M438.0 286.9h0.9M435.8 286.2h0.9M437.6 287.6h0.9M439.4 289.5h0.9M424.3 289.3h0.9M431.2 284.9h0.9M425.2 289.1h0.9M429.0 293.2h0.9M430.3 294.3h0.9M424.2 290.0h0.9M432.7 292.7h0.9M439.4 286.8h0.9M437.4 285.6h0.9M430.7 287.0h0.9M438.7 293.4h0.9M437.8 286.2h0.9M433.3 294.3h0.9M431.7 287.3h0.9M426.9 294.5h0.9M429.0 286.2h0.9M433.7 286.8h0.9M439.6 292.4h0.9M437.9 288.5h0.9M425.7 287.5h0.9M432.7 285.6h0.9M431.2 293.4h0.9M438.6 290.0h0.9M432.6 285.9h0.9M437.6 290.4h0.9M434.2 293.9h0.9M431.8 286.0h0.9M439.3 291.9h0.9M426.7 291.9h0.9M440.6 287.2h0.9M435.4 292.9h0.9M432.9 284.7h0.9M436.5 287.4h0.9M426.1 288.9h0.9M440.8 290.5h0.9M424.1 291.2h0.9M425.0 288.5h0.9M425.0 291.7h0.9M438.8 292.4h0.9M433.6 294.0h0.9M439.9 288.9h0.9M437.7 292.0h0.9M441.2 289.7h0.9M439.2 288.9h0.9M440.5 288.5h0.9M432.6 293.0h0.9M428.4 287.3h0.9M431.2 294.7h0.9M436.0 294.2h0.9" stroke="#30c090" stroke-width="0.9" stroke-opacity="0.8" fill="none"/>
<path d="M310.3 289.6h0.9M324.1 284.9h0.9M320.3 290.2h0.9M309.9 284.8h0.9M314.2 287.9h0.9M319.1 289.5h0.9M309.8 284.6h0.9M315.3 289.2h0.9M319.2 286.2h0.9M316.4 290.2h0.9M318.2 289.0h0.9M315.7 287.9h0.9M319.3 289.8h0.9M320.8 285.1h0.9M319.3 289.5h0.9M318.7 281.7h0.9M309.1 287.3h0.9M318.6 280.0h0.9M315.9 284.3h0.9M313.8 287.2h0.9M317.2 281.2h0.9M314.9 290.9h0.9M315.5 281.5h0.9M323.3 287.9h0.9M318.8 282.0h0.9M315.6 282.8h0.9M315.2 287.4h0.9M312.1 285.8h0.9M309.6 286.9h0.9M310.8 285.6h0.9M320.9 285.0h0.9M316.7 285.2h0.9M322.1 282.9h0.9M309.2 286.0h0.9M318.3 288.3h0.9M314.4 281.0h0.9M315.1 290.4h0.9M320.1 285.0h0.9M319.9 281.8h0.9M313.4 282.0h0.9M311.1 286.7h0.9M318.9 284.3h0.9M323.8 283.4h0.9M311.7 290.3h0.9M324.7 285.0h0.9M322.9 286.6h0.9M437.2 285.6h0.9M437.6 285.7h0.9M430.3 294.9h0.9M424.5 288.9h0.9M425.9 288.8h0.9M428.1 285.8h0.9M427.3 292.9h0.9M440.2 290.9h0.9M425.5 291.6h0.9M429.0 293.1h0.9M429.6 285.9h0.9M428.7 294.8h0.9M427.0 292.6h0.9M434.6 285.8h0.9M440.6 287.0h0.9M437.2 292.7h0.9M436.8 294.1h0.9M428.0 285.9h0.9M437.6 285.9h0.9M424.4 292.4h0.9M431.9 293.9h0.9M435.0 294.3h0.9M425.1 288.4h0.9M431.4 285.9h0.9M438.2 286.6h0.9M426.2 291.2h0.9M440.9 288.5h0.9M438.7 285.9h0.9M428.7 286.8h0.9M441.6 289.4h0.9M433.6 286.1h0.9" stroke="#30c0a8" stroke-width="0.9" stroke-opacity="0.8" fill="none"/>
<path d="M300.5 291.6h0.9M332.9 289.4h0.9M309.5 297.7h0.9M334.4 281.5h0.9M323.8 273.8h0.9M326.7 295.2h0.9M304.4 277.0h0.9M331.0 277.0h0.9M308.9 296.7h0.9M418.9 282.8h0.9M414.4 285.3h0.9M414.6 285.9h0.9M454.4 288.3h0.9M447.5 297.3h0.9M411.7 288.0h0.9M421.2 281.1h0.9M411.6 293.3h0.9M442.5 300.0h0.9M423.5 300.5h0.9M449.6 296.8h0.9M451.1 283.6h0.9M414.0 288.0h0.9M413.9 288.6h0.9M451.9 290.4h0.9M444.9 299.6h0.9M452.0 294.0h0.9M441.7 300.4h0.9M430.9 301.6h0.9M429.8 301.3h0.9M414.7 295.8h0.9M451.7 292.2h0.9M447.7 280.9h0.9M414.8 297.7h0.9M430.5 301.7h0.9M428.2 301.6h0.9M415.7 285.1h0.9M413.2 288.0h0.9M436.7 300.7h0.9M413.2 288.5h0.9M420.6 281.3h0.9M413.8 287.1h0.9M450.0 281.2h0.9M445.5 279.1h0.9M415.3 297.6h0.9M411.4 290.1h0.9M412.9 285.2h0.9M432.4 278.1h0.9M451.3 285.4h0.9M421.0 281.5h0.9M453.4 288.2h0.9M444.2 298.1h0.9M415.3 284.9h0.9M413.7 287.3h0.9M416.1 285.0h0.9M447.4 280.9h0.9M418.9 282.2h0.9M453.9 290.9h0.9M422.1 301.0h0.9M427.0 301.4h0.9M440.7 278.7h0.9M442.7 279.8h0.9M429.9 301.3h0.9M436.5 278.6h0.9M428.3 301.3h0.9M428.6 279.1h0.9M435.4 278.4h0.9M417.4 283.3h0.9M415.7 285.4h0.9M417.0 297.9h0.9" stroke="#3060f0" stroke-width="0.9" stroke-opacity="0.4" fill="none"/>
<path d="M323.3 281.1h0.9M324.5 282.7h0.9M320.9 280.0h0.9M323.5 289.6h0.9M322.7 290.7h0.9M323.4 289.8h0.9M309.4 281.4h0.9M314.5 291.7h0.9M324.0 282.4h0.9M307.2 283.5h0.9M321.0 290.2h0.9M317.4 291.1h0.9M326.6 286.8h0.9M325.3 281.7h0.9M309.0 281.8h0.9M309.9 290.1h0.9M316.5 279.3h0.9M323.7 281.6h0.9M315.2 278.9h0.9M317.0 278.9h0.9M319.8 278.7h0.9M323.7 288.4h0.9M319.0 291.5h0.9M318.2 278.6h0.9M324.2 281.6h0.9M323.1 280.0h0.9M308.9 282.2h0.9M320.0 279.8h0.9M314.0 291.2h0.9M307.2 287.1h0.9M318.6 279.0h0.9M316.3 279.5h0.9M299.0 251.2h0.9M291.6 251.5h0.9M289.2 251.3h0.9M301.6 249.9h0.9M295.4 252.7h0.9M293.0 255.2h0.9M296.5 251.4h0.9M300.0 250.6h0.9M288.7 250.8h0.9M299.1 253.8h0.9M289.1 253.9h0.9M296.6 251.9h0.9M293.5 253.9h0.9M302.4 251.0h0.9M287.9 250.2h0.9M289.7 252.8h0.9M293.1 251.9h0.9M289.7 253.2h0.9M289.9 252.6h0.9M300.5 251.1h0.9M290.7 249.5h0.9M290.8 254.1h0.9M291.3 251.0h0.9M290.1 249.8h0.9M298.1 250.9h0.9M298.2 252.8h0.9M301.7 251.4h0.9M299.5 252.1h0.9M290.6 252.8h0.9M303.6 252.4h0.9M303.0 251.0h0.9M294.9 253.7h0.9M294.1 252.6h0.9M289.2 249.7h0.9M300.6 254.0h0.9M295.7 251.8h0.9M289.7 252.2h0.9M301.0 252.2h0.9M289.8 249.1h0.9M292.0 250.8h0.9M299.7 252.0h0.9M293.2 252.0h0.9M299.0 250.4h0.9M299.0 253.2h0.9M294.1 253.3h0.9M289.9 251.9h0.9M293.5 252.8h0.9M302.2 252.6h0.9M294.3 254.7h0.9M299.7 254.3h0.9M298.3 251.4h0.9M443.4 289.2h0.9M422.7 287.5h0.9M442.2 291.4h0.9M424.8 294.4h0.9M427.3 283.7h0.9M433.4 282.9h0.9M437.7 295.6h0.9M439.4 295.0h0.9M435.5 281.8h0.9M421.6 293.3h0.9M444.7 287.9h0.9M423.6 287.1h0.9M446.0 286.9h0.9M426.2 286.1h0.9M443.9 288.4h0.9M443.2 287.2h0.9M423.2 293.2h0.9M420.6 291.5h0.9M436.1 295.1h0.9M419.6 294.3h0.9M434.6 296.6h0.9M442.1 285.8h0.9M420.8 287.4h0.9M444.1 286.1h0.9M425.0 286.1h0.9M424.8 296.8h0.9M446.8 289.4h0.9M423.3 289.5h0.9M444.3 289.9h0.9M441.0 284.4h0.9M445.3 290.3h0.9M444.2 287.4h0.9M443.5 284.9h0.9M440.3 292.3h0.9M435.4 283.6h0.9M424.1 292.9h0.9M438.9 285.2h0.9M422.0 291.6h0.9M427.3 283.2h0.9M434.0 297.3h0.9M434.6 296.2h0.9M442.7 292.5h0.9M434.3 296.4h0.9M426.5 297.3h0.9M441.3 283.8h0.9M438.4 296.0h0.9M444.0 285.1h0.9M423.5 287.3h0.9M432.6 284.3h0.9M429.4 283.9h0.9M437.3 284.9h0.9M441.0 294.3h0.9M430.9 284.2h0.9M425.3 286.9h0.9M424.2 293.9h0.9M443.2 289.8h0.9M423.7 295.5h0.9M442.2 288.0h0.9M438.1 294.9h0.9M438.9 283.2h0.9M430.0 284.9h0.9M438.7 295.1h0.9M441.8 287.5h0.9M423.6 293.6h0.9M444.1 285.3h0.9M440.9 295.2h0.9M438.7 284.1h0.9M439.7 286.0h0.9M432.2 281.9h0.9M422.2 294.4h0.9M422.5 286.6h0.9M435.7 297.3h0.9M422.7 295.1h0.9M419.6 293.0h0.9M436.1 296.1h0.9M421.0 294.2h0.9M428.1 298.0h0.9M443.5 292.5h0.9M443.2 285.2h0.9M431.4 296.5h0.9M444.5 287.6h0.9M428.3 297.1h0.9M441.0 292.9h0.9M439.0 283.8h0.9M445.2 290.2h0.9M442.1 288.8h0.9M419.7 289.0h0.9M440.6 295.6h0.9M432.8 298.2h0.9M423.4 297.1h0.9M430.1 296.5h0.9M431.3 296.9h0.9M430.3 296.9h0.9M445.0 285.3h0.9M424.4 285.7h0.9M421.7 294.1h0.9M422.1 287.6h0.9M440.3 292.5h0.9M441.1 286.2h0.9M438.8 294.2h0.9M441.1 292.9h0.9M424.9 287.4h0.9M423.1 285.3h0.9M421.8 292.6h0.9M433.2 296.6h0.9M439.8 286.0h0.9M431.4 284.6h0.9M429.2 296.7h0.9M420.8 292.0h0.9M432.2 298.0h0.9M422.2 287.5h0.9M422.4 287.3h0.9M430.0 296.1h0.9M423.2 292.0h0.9M442.1 284.4h0.9M431.3 284.0h0.9M423.0 286.8h0.9M429.2 297.7h0.9M422.7 289.5h0.9M442.2 290.7h0.9M441.7 285.2h0.9M423.0 294.6h0.9M433.8 295.8h0.9M420.0 293.9h0.9M430.4 284.1h0.9M421.7 292.6h0.9M443.8 285.8h0.9M441.5 292.6h0.9M418.0 291.1h0.9M424.0 288.6h0.9M429.2 282.7h0.9M441.3 287.1h0.9M441.7 292.1h0.9M423.6 294.3h0.9" stroke="#30a8c0" stroke-width="0.9" stroke-opacity="0.6" fill="none"/>
<path d="M321.5 271.2h0.9M318.4 273.3h0.9M343.3 282.7h0.9M300.6 280.1h0.9M339.3 282.9h0.9M298.7 286.9h0.9M313.2 272.0h0.9M319.0 272.9h0.9M317.1 271.7h0.9M325.3 302.7h0.9M331.6 278.2h0.9M335.1 279.1h0.9M302.5 295.6h0.9M313.4 299.0h0.9M297.7 295.9h0.9M331.7 278.3h0.9M301.1 273.7h0.9M297.1 281.0h0.9M305.2 295.7h0.9M333.0 277.2h0.9M321.7 271.6h0.9M293.8 280.0h0.9M316.0 302.6h0.9M335.0 299.1h0.9M338.5 285.3h0.9M315.8 301.1h0.9M290.5 278.7h0.9M302.0 294.2h0.9M303.8 302.3h0.9M329.1 274.7h0.9M336.5 286.2h0.9M289.1 293.4h0.9M289.0 284.6h0.9M302.8 294.4h0.9M330.9 294.1h0.9M339.7 280.9h0.9M333.4 275.8h0.9M299.1 277.0h0.9M328.9 275.9h0.9M337.0 272.7h0.9M340.5 282.2h0.9M303.5 301.6h0.9M295.3 276.3h0.9M337.6 280.3h0.9M330.3 295.3h0.9M304.5 296.6h0.9M435.8 275.5h0.9M448.3 299.5h0.9M417.4 282.9h0.9M403.3 297.4h0.9M425.1 303.2h0.9M445.8 280.6h0.9M449.6 274.6h0.9M435.3 307.0h0.9M416.7 299.0h0.9M430.4 278.3h0.9M420.1 300.5h0.9M450.6 278.8h0.9M453.7 281.4h0.9M458.1 280.5h0.9M461.3 288.9h0.9M450.2 280.0h0.9M458.5 284.8h0.9M414.8 297.3h0.9M417.9 280.2h0.9M404.5 292.6h0.9M424.4 304.4h0.9M416.6 283.8h0.9M409.3 298.6h0.9M425.6 303.1h0.9M445.1 298.1h0.9M439.2 301.7h0.9M412.9 302.0h0.9M439.5 275.0h0.9M459.3 293.6h0.9M436.0 306.5h0.9M450.7 297.4h0.9M421.4 302.4h0.9M438.1 302.8h0.9M419.7 282.2h0.9M424.4 276.9h0.9M438.8 301.9h0.9M426.0 303.7h0.9M455.6 286.2h0.9M447.4 300.3h0.9M434.8 302.7h0.9M415.3 299.1h0.9M425.4 279.5h0.9M454.1 284.4h0.9M415.2 299.5h0.9M427.6 301.5h0.9M451.7 283.7h0.9M428.8 277.9h0.9M463.0 282.1h0.9M419.7 300.4h0.9M429.9 275.5h0.9M458.8 287.4h0.9M434.8 278.3h0.9" stroke="#4848f0" stroke-width="0.9" stroke-opacity="0.4" fill="none"/>
<path d="M317.1 281.4h0.9M317.0 286.0h0.9M322.0 282.9h0.9M312.9 287.5h0.9M315.0 288.5h0.9M312.2 286.5h0.9M321.4 284.1h0.9M312.3 285.3h0.9M315.7 286.9h0.9M315.5 285.6h0.9M310.7 285.6h0.9M310.4 285.7h0.9M321.4 282.4h0.9M312.6 285.3h0.9M316.8 283.5h0.9M317.5 288.9h0.9M313.4 286.7h0.9M322.0 284.3h0.9M316.8 286.3h0.9M316.6 287.3h0.9M321.1 283.1h0.9M320.5 285.7h0.9M313.4 283.9h0.9M309.9 287.0h0.9M317.2 288.5h0.9M316.7 288.9h0.9M318.3 281.7h0.9M310.9 288.2h0.9M312.8 285.8h0.9M322.3 284.5h0.9M321.9 286.3h0.9M319.9 285.9h0.9M313.9 285.9h0.9M322.4 286.1h0.9M321.1 284.4h0.9M312.5 286.7h0.9M427.4 293.2h0.9M437.1 292.0h0.9M434.3 285.5h0.9M435.5 291.8h0.9M441.2 287.9h0.9M437.4 292.8h0.9M426.6 286.7h0.9M437.4 289.8h0.9M434.9 288.1h0.9M435.5 288.0h0.9M430.1 293.1h0.9M429.5 287.1h0.9M437.4 285.7h0.9M440.9 288.6h0.9M427.1 287.8h0.9M440.3 289.8h0.9M437.7 287.3h0.9M425.4 290.9h0.9M439.8 289.0h0.9M428.1 288.1h0.9M427.1 287.3h0.9M434.2 292.7h0.9M433.3 286.8h0.9M430.8 287.6h0.9M438.7 291.7h0.9M424.6 290.4h0.9M439.8 291.0h0.9M428.9 288.9h0.9M430.0 287.3h0.9M426.5 289.2h0.9M435.7 291.9h0.9M435.3 288.2h0.9M431.6 285.6h0.9M439.3 291.6h0.9M431.2 292.6h0.9M427.1 287.8h0.9M434.2 295.1h0.9M440.3 287.4h0.9M432.5 293.7h0.9M426.6 287.0h0.9M428.5 292.8h0.9M427.0 294.2h0.9M430.0 293.5h0.9M430.4 285.0h0.9M440.8 291.4h0.9M433.9 294.3h0.9M428.9 285.7h0.9M427.8 292.5h0.9M438.2 288.5h0.9M429.0 290.7h0.9M438.1 288.0h0.9" stroke="#30c078" stroke-width="0.9" stroke-opacity="0.8" fill="none"/>
<path d="M306.1 284.6h0.9M312.6 292.5h0.9M311.2 292.2h0.9M307.6 285.1h0.9M325.1 285.8h0.9M321.9 290.7h0.9M309.9 290.0h0.9M317.1 279.0h0.9M309.6 291.7h0.9M306.5 289.1h0.9M325.8 284.0h0.9M326.2 285.9h0.9M323.2 280.7h0.9M321.9 279.6h0.9M308.0 284.4h0.9M321.9 291.6h0.9M308.4 288.9h0.9M323.0 290.1h0.9M319.8 292.7h0.9M324.1 288.8h0.9M306.6 289.6h0.9M312.1 279.3h0.9M312.3 280.4h0.9M327.6 283.9h0.9M325.8 281.9h0.9M307.3 289.9h0.9M321.3 290.9h0.9M311.6 291.0h0.9M308.4 288.4h0.9M320.8 280.1h0.9M310.5 289.9h0.9M325.9 282.8h0.9M319.9 280.0h0.9M291.6 254.5h0.9M298.3 250.5h0.9M302.4 251.8h0.9M296.1 250.7h0.9M297.8 254.6h0.9M302.8 254.0h0.9M297.6 253.2h0.9M291.0 251.9h0.9M300.5 253.7h0.9M288.4 252.3h0.9M300.0 252.3h0.9M303.5 251.5h0.9M301.9 252.8h0.9M303.3 253.3h0.9M293.2 251.8h0.9M289.5 254.5h0.9M293.6 251.5h0.9M299.6 251.5h0.9M287.6 254.4h0.9M290.1 253.2h0.9M289.9 253.1h0.9M289.7 252.5h0.9M287.7 251.4h0.9M290.3 251.9h0.9M299.9 249.4h0.9M295.5 251.7h0.9M297.9 251.5h0.9M294.7 251.5h0.9M420.6 288.9h0.9M424.9 295.5h0.9M442.0 283.9h0.9M431.9 296.3h0.9M422.0 290.5h0.9M445.0 287.8h0.9M437.7 283.9h0.9M442.6 283.2h0.9M421.1 293.5h0.9M419.9 289.0h0.9M425.2 296.3h0.9M422.1 293.0h0.9M424.2 295.2h0.9M419.4 292.7h0.9M423.4 288.4h0.9M419.4 287.4h0.9M441.0 284.7h0.9M434.7 296.8h0.9M427.4 285.4h0.9M432.3 298.6h0.9M441.4 287.1h0.9M419.6 292.5h0.9M441.6 294.1h0.9M436.1 296.8h0.9M420.7 294.0h0.9M438.1 284.0h0.9M435.2 284.3h0.9M429.6 282.0h0.9M436.5 281.4h0.9M430.4 284.1h0.9M442.0 295.2h0.9M422.6 293.8h0.9M427.2 296.0h0.9M424.7 287.4h0.9M444.9 286.8h0.9M420.9 287.0h0.9M435.5 284.4h0.9M426.2 283.4h0.9M441.2 294.8h0.9M431.3 295.4h0.9M434.7 281.6h0.9M421.4 291.2h0.9M439.2 285.7h0.9M435.8 284.1h0.9M446.4 288.9h0.9M435.7 298.2h0.9M420.4 292.5h0.9M443.1 287.6h0.9M440.8 296.9h0.9M435.5 282.6h0.9M422.5 284.4h0.9M419.5 288.5h0.9M441.3 296.0h0.9M432.9 284.3h0.9M435.8 297.7h0.9M418.4 290.8h0.9M442.6 287.7h0.9M439.0 281.7h0.9M436.3 297.0h0.9M439.5 282.5h0.9M446.0 288.1h0.9M422.0 293.1h0.9M430.8 297.4h0.9M445.3 292.8h0.9M441.0 283.1h0.9M426.7 285.0h0.9M430.8 281.9h0.9M442.7 289.2h0.9M435.5 283.4h0.9M433.9 296.6h0.9M446.6 290.5h0.9M420.7 289.8h0.9M440.0 284.6h0.9M418.1 289.5h0.9M428.5 296.3h0.9M432.9 296.4h0.9M444.6 289.4h0.9M429.9 298.7h0.9M427.4 296.5h0.9M444.3 287.8h0.9M433.7 297.4h0.9M423.4 297.1h0.9M421.1 286.2h0.9" stroke="#3090c0" stroke-width="0.9" stroke-opacity="0.6" fill="none"/>
<path d="M324.2 305.0h0.9M289.5 278.2h0.9M324.9 266.6h0.9M287.2 293.4h0.9M337.2 265.4h0.9M292.9 275.5h0.9M299.5 301.3h0.9M406.9 300.5h0.9M404.8 283.7h0.9M406.3 303.9h0.9M439.3 309.1h0.9" stroke="#7878f0" stroke-width="0.9" stroke-opacity="0.4" fill="none"/>
<path d="M309.0 277.8h0.9M303.4 288.0h0.9M324.3 293.5h0.9M307.7 286.2h0.9M327.5 290.6h0.9M311.0 292.3h0.9M302.4 287.8h0.9M323.6 288.8h0.9M323.2 289.4h0.9M319.5 293.4h0.9M320.5 292.6h0.9M311.8 291.8h0.9M327.2 284.6h0.9M307.7 284.5h0.9M316.4 277.6h0.9M326.6 278.4h0.9M328.2 290.6h0.9M329.3 286.2h0.9M325.5 291.3h0.9M325.4 282.8h0.9M311.4 293.6h0.9M309.5 279.8h0.9M305.9 284.3h0.9M302.3 253.7h0.9M287.8 254.0h0.9M303.3 250.9h0.9M308.2 252.2h0.9M423.9 285.5h0.9M419.3 297.1h0.9M439.9 295.2h0.9M443.0 284.5h0.9M440.4 294.7h0.9M421.1 295.0h0.9M419.9 289.7h0.9M450.0 288.8h0.9M436.3 297.7h0.9M445.0 286.1h0.9M440.1 281.6h0.9M420.4 288.5h0.9M438.2 296.7h0.9M422.0 285.1h0.9M422.9 283.4h0.9M446.0 285.7h0.9M432.8 299.0h0.9M437.9 296.0h0.9M437.1 282.7h0.9M415.8 292.1h0.9M449.3 289.2h0.9M428.9 296.6h0.9M429.2 283.4h0.9M419.2 289.9h0.9M447.2 285.8h0.9M442.8 282.8h0.9M418.4 295.0h0.9M417.3 294.9h0.9M444.3 292.5h0.9" stroke="#3078f0" stroke-width="0.9" stroke-opacity="0.6" fill="none"/>
<path d="M324.4 284.5h0.9M323.7 282.6h0.9M323.7 283.2h0.9" stroke="#3078f0" stroke-width="0.9" stroke-opacity="0.8" fill="none"/>
<path d="M311.7 281.4h0.9M316.6 279.9h0.9M310.7 289.6h0.9" stroke="#3060f0" stroke-width="0.9" stroke-opacity="0.8" fill="none"/>
<path d="M318.2 284.8h0.9M317.6 286.2h0.9M314.2 284.6h0.9M316.8 285.0h0.9M318.4 284.4h0.9M431.5 292.4h0.9M429.8 292.2h0.9M431.5 292.9h0.9M436.6 286.8h0.9M430.5 292.1h0.9M430.1 293.3h0.9M428.5 287.7h0.9M429.8 286.2h0.9M439.3 291.9h0.9M432.8 287.7h0.9M430.3 293.6h0.9M433.3 288.1h0.9M426.0 293.1h0.9M437.3 292.4h0.9M436.4 285.9h0.9M429.8 288.7h0.9M434.9 288.4h0.9M438.2 293.3h0.9M434.9 288.1h0.9M436.3 289.2h0.9M426.8 292.5h0.9M433.9 293.9h0.9M428.7 286.8h0.9M432.7 291.4h0.9M431.2 288.4h0.9M429.6 288.2h0.9M438.7 287.0h0.9M439.2 291.1h0.9M432.9 287.6h0.9M427.0 287.0h0.9M439.0 287.5h0.9M440.2 290.9h0.9M440.0 287.6h0.9M429.5 291.3h0.9M427.1 293.6h0.9M428.8 288.8h0.9M437.3 291.0h0.9M432.3 286.3h0.9M429.3 289.1h0.9M435.0 293.5h0.9M434.8 287.0h0.9M426.2 293.3h0.9M427.8 293.3h0.9M427.8 293.1h0.9M432.9 293.1h0.9M427.6 286.6h0.9M439.4 287.7h0.9M429.6 287.6h0.9M434.0 291.0h0.9M427.8 292.1h0.9M425.5 287.8h0.9M434.7 288.8h0.9M436.9 286.9h0.9M428.2 291.9h0.9M428.7 293.8h0.9" stroke="#60c048" stroke-width="0.9" stroke-opacity="0.8" fill="none"/>
<path d="M323.8 263.7h0.9M333.1 270.2h0.9M340.2 266.2h0.9M332.5 268.1h0.9M295.6 301.1h0.9M324.3 267.0h0.9M345.4 292.9h0.9M357.5 285.8h0.9M330.3 268.8h0.9M345.9 280.0h0.9M291.9 297.2h0.9M458.3 278.3h0.9M421.3 310.7h0.9M453.5 273.8h0.9M397.1 296.2h0.9M438.7 311.3h0.9M406.3 282.3h0.9M459.4 298.5h0.9M414.2 308.4h0.9M428.8 272.8h0.9M442.6 270.5h0.9M457.7 301.3h0.9M441.9 306.5h0.9M463.0 300.6h0.9M454.2 307.4h0.9M402.5 288.6h0.9M405.4 297.6h0.9M412.0 305.4h0.9M419.9 307.9h0.9M465.4 290.4h0.9M429.2 307.3h0.9M416.5 311.8h0.9M398.5 303.7h0.9M421.4 267.7h0.9M405.0 297.6h0.9M464.4 279.8h0.9M397.9 298.4h0.9M461.0 297.0h0.9M427.4 308.9h0.9M446.8 306.2h0.9M418.5 272.9h0.9" stroke="#7878ff" stroke-width="0.9" stroke-opacity="0.4" fill="none"/>
<path d="M318.8 284.3h0.9M320.1 284.2h0.9M315.4 286.7h0.9M439.6 288.0h0.9M429.8 288.2h0.9M435.6 292.0h0.9M425.6 293.3h0.9M429.4 294.0h0.9M440.4 286.9h0.9M440.0 291.3h0.9M428.5 289.1h0.9M425.1 288.3h0.9M428.5 289.9h0.9M427.9 294.7h0.9" stroke="#30c048" stroke-width="0.9" stroke-opacity="0.8" fill="none"/>
<path d="M333.5 288.1h0.9M301.5 291.6h0.9M334.4 250.6h0.9M326.4 252.7h0.9M324.3 251.9h0.9M334.5 251.6h0.9M328.4 252.3h0.9M323.6 254.1h0.9M323.9 252.1h0.9M336.8 253.2h0.9M340.2 250.9h0.9M335.4 252.6h0.9M341.5 251.3h0.9M332.9 252.7h0.9M334.6 252.2h0.9M340.8 253.3h0.9M322.3 251.5h0.9M328.2 251.7h0.9M338.9 252.0h0.9M330.3 254.0h0.9M335.6 253.0h0.9M331.1 253.2h0.9M335.6 250.5h0.9M334.4 254.3h0.9M322.7 253.8h0.9M336.2 254.4h0.9M340.6 252.2h0.9M341.4 254.1h0.9M332.9 252.4h0.9M323.9 250.9h0.9M334.1 249.8h0.9M324.8 250.7h0.9M325.9 249.5h0.9M329.1 250.8h0.9M333.2 252.6h0.9M341.2 253.0h0.9M330.8 253.9h0.9M329.3 252.8h0.9M337.8 253.7h0.9M321.1 250.5h0.9M327.6 251.1h0.9M340.4 251.8h0.9M329.1 254.8h0.9M329.1 252.4h0.9M327.6 252.2h0.9M327.2 253.4h0.9M322.2 250.6h0.9M331.7 252.2h0.9M338.4 253.7h0.9M325.9 251.3h0.9M330.4 251.5h0.9M323.6 251.7h0.9M341.0 255.2h0.9M320.6 251.2h0.9M324.2 254.6h0.9M326.9 252.9h0.9M323.9 252.4h0.9M333.6 252.7h0.9M341.0 253.1h0.9M325.4 253.6h0.9M321.3 252.7h0.9M325.6 251.4h0.9M328.7 252.3h0.9M340.1 253.2h0.9M332.9 253.2h0.9M334.6 252.9h0.9M334.9 253.1h0.9M323.7 251.5h0.9M341.1 254.7h0.9M334.8 253.1h0.9M325.2 252.3h0.9M325.6 252.7h0.9M335.9 252.3h0.9M327.9 251.3h0.9M333.0 251.2h0.9M338.1 251.6h0.9M327.7 254.0h0.9M337.9 251.8h0.9M330.2 252.8h0.9M335.9 252.5h0.9M332.4 253.1h0.9M335.9 250.5h0.9M340.7 254.2h0.9M327.2 251.4h0.9M328.1 250.5h0.9M327.4 254.2h0.9M339.6 249.8h0.9M330.5 253.5h0.9M322.0 252.4h0.9M322.6 251.8h0.9" stroke="#4860f0" stroke-width="0.9" stroke-opacity="0.6" fill="none"/>
<path d="M315.4 286.5h0.9M315.8 283.3h0.9M317.6 287.8h0.9M318.1 284.6h0.9M317.4 284.5h0.9M316.8 284.8h0.9M314.5 286.2h0.9M318.9 283.9h0.9M316.0 286.5h0.9M317.3 285.7h0.9M316.1 284.1h0.9M318.8 286.7h0.9M436.8 287.7h0.9M435.7 292.3h0.9M430.2 295.0h0.9M424.6 291.4h0.9M433.0 285.9h0.9M432.5 290.0h0.9M431.9 293.0h0.9M430.7 286.8h0.9M427.3 290.0h0.9M431.2 294.7h0.9M437.2 292.2h0.9M426.4 292.9h0.9M431.5 294.5h0.9M436.2 288.0h0.9M430.9 294.1h0.9M432.0 285.6h0.9M431.9 290.0h0.9M433.2 294.0h0.9M431.3 288.3h0.9M431.4 286.9h0.9M428.4 295.0h0.9M432.5 285.5h0.9M428.2 293.0h0.9M439.9 288.0h0.9M426.8 292.2h0.9M435.4 288.2h0.9M438.9 287.3h0.9M432.2 295.1h0.9M436.9 291.4h0.9M427.1 294.2h0.9M425.1 288.2h0.9M430.9 291.5h0.9M439.3 292.3h0.9M430.8 285.8h0.9M425.7 287.2h0.9M428.5 285.7h0.9M426.0 287.5h0.9M425.6 287.9h0.9M439.2 286.6h0.9M434.2 287.9h0.9M432.6 290.1h0.9M436.6 289.8h0.9M434.7 291.1h0.9M426.0 293.3h0.9M426.1 287.5h0.9M434.5 290.2h0.9M440.8 287.4h0.9M430.8 288.2h0.9M437.8 288.7h0.9M429.4 294.3h0.9M428.6 292.7h0.9M429.8 291.0h0.9M427.8 288.8h0.9M426.8 287.5h0.9M427.0 287.0h0.9" stroke="#48c048" stroke-width="0.9" stroke-opacity="0.8" fill="none"/>
<path d="M355.2 287.9h0.8M299.9 300.9h0.8M345.8 293.4h0.8M314.3 291.8h0.8M315.6 282.1h0.8M351.2 291.9h0.8M297.8 284.3h0.8M323.5 282.3h0.8M292.2 306.5h0.8M318.6 272.7h0.8M349.7 260.3h0.8M350.6 276.2h0.8M324.5 284.5h0.8M334.0 274.4h0.8M298.6 301.6h0.8M302.8 275.9h0.8M301.6 291.6h0.8M328.3 281.2h0.8M296.4 287.1h0.8M337.9 267.8h0.8M323.3 268.3h0.8M313.4 293.2h0.8M328.4 281.4h0.8M320.2 278.9h0.8M318.5 293.5h0.8M348.0 277.7h0.8M343.8 297.8h0.8M295.6 275.3h0.8M314.4 296.8h0.8M321.8 285.6h0.8M296.6 257.7h0.8M330.4 295.8h0.8M295.5 265.5h0.8M321.9 296.3h0.8M336.9 305.5h0.8M320.6 272.3h0.8M301.6 274.4h0.8M333.6 289.6h0.8M342.7 293.4h0.8M319.7 277.6h0.8M284.6 299.9h0.8M283.0 265.6h0.8M343.4 288.0h0.8M330.7 280.6h0.8M319.4 271.3h0.8M320.8 268.6h0.8M286.5 280.5h0.8M306.0 285.7h0.8M296.1 295.7h0.8M297.4 296.3h0.8M324.2 283.4h0.8M328.9 269.4h0.8M327.1 300.3h0.8M325.7 284.0h0.8M301.4 287.3h0.8M315.5 288.5h0.8M300.7 285.1h0.8M310.3 252.1h0.8M318.8 276.2h0.8M306.3 283.6h0.8M304.9 300.7h0.8M327.1 285.3h0.8M335.8 283.0h0.8M321.0 282.5h0.8M317.6 291.1h0.8M317.0 273.5h0.8M350.4 303.3h0.8M318.3 267.7h0.8M298.7 249.8h0.8M309.2 255.1h0.8M332.3 303.1h0.8M347.4 279.7h0.8M309.4 274.8h0.8M339.8 270.0h0.8M326.5 296.4h0.8M350.7 283.8h0.8M338.8 288.3h0.8M341.0 292.7h0.8M319.8 290.1h0.8M310.5 288.6h0.8M311.3 274.1h0.8M321.2 278.5h0.8M329.8 294.9h0.8M337.3 293.3h0.8M314.0 266.2h0.8M278.8 303.1h0.8M344.7 288.6h0.8M352.3 271.1h0.8M302.3 287.7h0.8M293.7 282.8h0.8M302.2 290.5h0.8M322.6 274.9h0.8M314.2 293.7h0.8M298.3 289.4h0.8M302.6 272.9h0.8M343.9 277.9h0.8M283.4 266.5h0.8M317.3 295.2h0.8M292.2 290.3h0.8M302.6 312.6h0.8M324.9 299.2h0.8M300.4 252.7h0.8M324.7 269.3h0.8M323.4 263.5h0.8M317.6 285.0h0.8M334.1 274.0h0.8M302.3 279.7h0.8M335.3 295.1h0.8M332.2 291.9h0.8M283.0 298.5h0.8M332.8 281.6h0.8M326.9 291.4h0.8M314.4 284.4h0.8M303.1 290.7h0.8M289.8 282.4h0.8M305.9 294.1h0.8M342.7 288.0h0.8M324.3 291.7h0.8M289.1 285.8h0.8M293.2 285.3h0.8M307.1 277.0h0.8M332.7 301.9h0.8M300.3 275.9h0.8M315.3 275.6h0.8M315.1 284.1h0.8M297.8 299.0h0.8M282.9 283.2h0.8M343.1 287.6h0.8M297.8 277.1h0.8M307.5 275.5h0.8M288.5 268.4h0.8M324.5 284.0h0.8M313.7 299.3h0.8M339.4 270.8h0.8M328.6 272.0h0.8M305.7 248.2h0.8M320.8 275.2h0.8M307.3 289.9h0.8M335.8 265.3h0.8M332.3 298.7h0.8M313.4 260.1h0.8M341.4 262.2h0.8M335.4 269.9h0.8M304.7 265.9h0.8M324.6 293.3h0.8M322.9 270.8h0.8M313.3 295.4h0.8M326.0 271.0h0.8M343.9 287.8h0.8M302.7 262.2h0.8M312.0 279.1h0.8M335.5 293.4h0.8M358.2 281.3h0.8M305.0 278.8h0.8M319.2 262.6h0.8M322.9 283.3h0.8M312.4 252.8h0.8M318.8 271.4h0.8M325.6 289.2h0.8M299.5 298.0h0.8M326.1 287.7h0.8M297.7 286.7h0.8M307.6 302.7h0.8M321.2 292.9h0.8M295.8 298.1h0.8M309.9 288.7h0.8M343.6 281.9h0.8M306.5 293.6h0.8M344.4 283.2h0.8M350.5 291.8h0.8M308.5 272.4h0.8M315.5 271.4h0.8M288.3 285.8h0.8M327.3 296.7h0.8M286.5 273.4h0.8M334.8 281.9h0.8M315.1 277.0h0.8M296.6 286.9h0.8M302.9 296.4h0.8M314.1 290.9h0.8M302.3 273.5h0.8M346.1 257.8h0.8M327.8 275.3h0.8M307.3 291.1h0.8M310.5 291.9h0.8M318.2 288.1h0.8M349.3 282.0h0.8M317.7 308.6h0.8M293.0 288.5h0.8M298.4 261.4h0.8M345.8 297.3h0.8M313.6 285.3h0.8M288.2 291.9h0.8M300.4 300.8h0.8M344.7 295.0h0.8M315.0 280.9h0.8M320.7 288.6h0.8M333.5 268.3h0.8M314.8 277.0h0.8M341.9 307.7h0.8M330.0 284.0h0.8M299.5 272.3h0.8M290.0 277.9h0.8M323.7 270.1h0.8M307.9 279.9h0.8M349.8 265.5h0.8M332.2 287.3h0.8M337.6 292.9h0.8M337.6 294.9h0.8M311.0 287.6h0.8M330.6 283.4h0.8M309.4 279.2h0.8M305.5 292.9h0.8M340.5 272.2h0.8M326.6 282.3h0.8M293.9 263.7h0.8M297.3 252.3h0.8M318.6 291.3h0.8M312.4 275.6h0.8M302.2 277.2h0.8M325.0 290.7h0.8M326.2 277.6h0.8M334.3 290.9h0.8M322.3 299.8h0.8M313.8 250.6h0.8M309.6 272.4h0.8M315.9 297.9h0.8M311.2 300.3h0.8M279.8 293.1h0.8M322.3 264.0h0.8M358.4 274.8h0.8M311.5 310.5h0.8M346.0 269.4h0.8M323.0 280.7h0.8M344.6 275.2h0.8M330.4 304.4h0.8M338.0 271.0h0.8M346.3 276.3h0.8M284.9 269.2h0.8M354.3 277.8h0.8M288.4 276.6h0.8M317.8 292.1h0.8M332.4 291.7h0.8M323.1 262.7h0.8M323.0 272.2h0.8M301.2 309.3h0.8M348.5 303.5h0.8M325.3 271.8h0.8M338.5 252.8h0.8M287.3 271.5h0.8M349.5 309.1h0.8M345.2 288.1h0.8M318.6 260.5h0.8M318.7 302.2h0.8M322.0 293.5h0.8M318.3 257.0h0.8M325.7 307.5h0.8M297.6 275.7h0.8M297.5 296.9h0.8M308.5 279.1h0.8M353.1 270.6h0.8M302.1 268.3h0.8M333.1 267.7h0.8M310.4 269.8h0.8M345.4 309.1h0.8M347.6 275.3h0.8M316.4 277.0h0.8M322.5 257.7h0.8M309.7 294.4h0.8M339.9 288.2h0.8M350.9 271.2h0.8M307.4 278.6h0.8M288.1 299.1h0.8M308.3 277.3h0.8M325.5 303.4h0.8M303.3 281.2h0.8M320.0 290.0h0.8M341.0 264.6h0.8M329.2 262.1h0.8M324.8 285.3h0.8M310.9 263.8h0.8M333.9 261.8h0.8M292.7 291.7h0.8M323.4 281.7h0.8M299.8 271.2h0.8M438.4 286.3h0.8M428.3 278.7h0.8M439.2 287.8h0.8M448.7 290.5h0.8M457.3 312.9h0.8M462.1 298.9h0.8M416.6 284.7h0.8M465.6 302.3h0.8M436.8 286.6h0.8M405.2 281.9h0.8M420.0 286.4h0.8M427.0 301.0h0.8M437.2 280.4h0.8M395.4 288.4h0.8M433.5 276.9h0.8M450.7 297.8h0.8M445.3 278.2h0.8M411.4 314.2h0.8M449.4 273.5h0.8M438.1 265.1h0.8M443.7 275.9h0.8M463.9 295.3h0.8M421.5 285.9h0.8M408.4 278.4h0.8M439.3 295.8h0.8M438.0 280.2h0.8M399.6 271.8h0.8M454.7 295.6h0.8M413.4 286.8h0.8M417.2 276.6h0.8M439.5 299.4h0.8M419.5 297.6h0.8M434.7 277.1h0.8M463.7 278.9h0.8M440.4 281.1h0.8M450.5 283.6h0.8M423.6 295.8h0.8M442.9 280.2h0.8M446.2 303.3h0.8M418.8 258.8h0.8M412.3 277.0h0.8M465.9 273.2h0.8M413.3 288.2h0.8M406.7 279.3h0.8M455.2 282.1h0.8M424.5 292.8h0.8M428.0 267.4h0.8M452.4 266.4h0.8M415.0 267.2h0.8M418.7 285.2h0.8M464.1 282.2h0.8M470.7 284.8h0.8M405.4 295.0h0.8M456.5 268.3h0.8M425.9 272.3h0.8M453.6 278.5h0.8M408.7 281.4h0.8M454.0 296.7h0.8M435.7 272.9h0.8M446.8 297.9h0.8M419.1 281.0h0.8M443.0 296.7h0.8M443.3 298.6h0.8M455.6 293.5h0.8M441.9 266.8h0.8M431.9 272.5h0.8M431.2 294.4h0.8M433.9 274.4h0.8M459.5 303.3h0.8M436.2 297.5h0.8M403.5 282.1h0.8M464.7 306.2h0.8M451.7 261.4h0.8M442.3 269.2h0.8M433.2 300.8h0.8M435.4 293.2h0.8M432.0 265.2h0.8M415.3 281.0h0.8M413.1 296.7h0.8M436.1 277.4h0.8M458.9 310.5h0.8M457.1 293.9h0.8M461.9 291.8h0.8M416.3 292.4h0.8M427.3 287.9h0.8M471.5 285.9h0.8M421.6 279.9h0.8M433.4 316.9h0.8M438.6 304.3h0.8M423.5 293.6h0.8M410.7 308.1h0.8M427.9 282.4h0.8M435.4 314.3h0.8M411.8 295.1h0.8M414.3 290.1h0.8M411.2 303.4h0.8M467.5 280.3h0.8M393.2 266.8h0.8M408.0 295.1h0.8M429.2 279.4h0.8M423.8 292.5h0.8M451.0 293.4h0.8M436.4 291.2h0.8M414.3 274.0h0.8M424.1 283.8h0.8M435.5 276.7h0.8M433.1 288.0h0.8M446.0 293.8h0.8M440.0 289.2h0.8M400.3 278.2h0.8M433.5 287.4h0.8M410.7 305.9h0.8M454.8 280.9h0.8M459.4 263.4h0.8M453.7 288.7h0.8M422.5 273.7h0.8M438.6 275.5h0.8M431.9 279.5h0.8M455.0 260.4h0.8M444.5 286.0h0.8M448.7 298.3h0.8M413.0 283.9h0.8M430.8 294.9h0.8M450.1 274.1h0.8M473.2 289.4h0.8M440.1 279.8h0.8M423.5 308.1h0.8M410.6 297.2h0.8M453.4 297.7h0.8M437.7 286.9h0.8M398.9 273.4h0.8M434.8 292.2h0.8M449.8 297.2h0.8M442.9 286.2h0.8M463.5 290.6h0.8M442.8 310.5h0.8M427.2 276.2h0.8M446.8 286.2h0.8M453.2 274.2h0.8M419.7 294.8h0.8M437.4 278.4h0.8M449.4 284.4h0.8M432.5 293.8h0.8M461.6 299.3h0.8M410.8 271.5h0.8M431.2 265.0h0.8M430.1 286.1h0.8M442.8 282.2h0.8M416.0 282.3h0.8M427.9 316.3h0.8M447.4 290.0h0.8M438.4 289.3h0.8M413.1 287.4h0.8M427.8 285.4h0.8M419.2 297.4h0.8M429.0 270.4h0.8M445.8 288.9h0.8M420.1 279.8h0.8M430.7 304.5h0.8M451.9 270.3h0.8M415.1 264.8h0.8M438.7 283.6h0.8M420.7 291.9h0.8M427.3 315.9h0.8M449.6 289.5h0.8M472.0 284.6h0.8M404.8 256.7h0.8M454.3 288.8h0.8M422.5 284.6h0.8M432.1 258.7h0.8M399.6 276.7h0.8M435.1 295.3h0.8M446.5 307.6h0.8M423.6 261.7h0.8M437.4 287.0h0.8M461.9 289.9h0.8M439.1 279.6h0.8M423.1 307.3h0.8M424.0 259.3h0.8M431.5 285.7h0.8M410.8 267.7h0.8M424.1 260.9h0.8M429.3 283.3h0.8M417.5 275.2h0.8M416.9 285.7h0.8M436.7 277.7h0.8M408.2 306.6h0.8M413.5 283.7h0.8M401.3 297.8h0.8M432.9 288.1h0.8M460.3 290.1h0.8M463.1 292.0h0.8M473.7 294.1h0.8M406.7 303.5h0.8M436.6 275.5h0.8M434.6 292.0h0.8M429.7 297.6h0.8M422.4 274.6h0.8M404.3 282.3h0.8M429.5 283.1h0.8M440.8 291.3h0.8M420.0 282.3h0.8M440.7 279.0h0.8M417.0 298.2h0.8M420.8 270.6h0.8M442.4 292.7h0.8M458.3 275.9h0.8M430.6 277.5h0.8M427.7 300.1h0.8M442.0 249.9h0.8M437.4 296.2h0.8M462.3 292.0h0.8M427.5 287.6h0.8M439.9 265.1h0.8M402.2 276.7h0.8M471.7 304.7h0.8M452.9 274.6h0.8M458.5 302.5h0.8M413.7 286.3h0.8M423.3 277.5h0.8M435.1 282.9h0.8M430.7 296.1h0.8M429.8 261.1h0.8M435.0 294.1h0.8M406.9 293.8h0.8M458.2 289.2h0.8M421.7 297.2h0.8M446.8 297.2h0.8M449.2 277.4h0.8M415.1 310.4h0.8M457.1 277.0h0.8M427.0 291.4h0.8M430.9 298.9h0.8M432.9 283.6h0.8M407.7 271.1h0.8M411.7 264.2h0.8M395.1 290.1h0.8M459.6 292.2h0.8M463.2 289.5h0.8M400.3 280.6h0.8M421.2 273.3h0.8M392.8 288.7h0.8M448.6 300.4h0.8M459.8 280.0h0.8M461.7 278.5h0.8M468.0 294.4h0.8M438.5 313.9h0.8M395.1 291.9h0.8M435.5 293.1h0.8M462.6 302.5h0.8M425.1 299.9h0.8M417.4 265.3h0.8M434.6 267.2h0.8M439.8 277.3h0.8M406.4 282.3h0.8M452.7 308.1h0.8M423.1 282.5h0.8M407.3 278.9h0.8M426.8 314.0h0.8M407.0 249.3h0.8M431.2 308.8h0.8M437.4 296.9h0.8M433.7 285.3h0.8M420.5 279.0h0.8M405.8 310.3h0.8M406.4 293.3h0.8M463.4 301.2h0.8M417.0 286.5h0.8M414.9 281.4h0.8M431.8 299.9h0.8M446.4 281.6h0.8M439.3 308.5h0.8M441.7 295.2h0.8M437.3 289.8h0.8M401.1 293.1h0.8M417.9 272.6h0.8M442.8 303.3h0.8M437.7 286.0h0.8M427.2 279.4h0.8M429.3 295.0h0.8M435.9 312.2h0.8M395.3 278.6h0.8M442.5 277.5h0.8M409.1 292.6h0.8M457.5 296.5h0.8M427.4 289.0h0.8M423.4 300.3h0.8M433.3 296.5h0.8M427.3 312.6h0.8M442.3 281.6h0.8M437.6 265.8h0.8M394.0 293.8h0.8M439.7 300.2h0.8M419.5 296.5h0.8M414.0 288.2h0.8M408.3 297.7h0.8M462.6 279.1h0.8M438.1 292.1h0.8M399.6 278.3h0.8M407.5 284.9h0.8M426.4 278.5h0.8M442.8 274.5h0.8M451.1 297.0h0.8M411.3 263.0h0.8M418.5 298.4h0.8M432.2 279.7h0.8M429.8 261.1h0.8M398.5 271.6h0.8M438.3 284.2h0.8M428.5 275.8h0.8M445.9 275.3h0.8M425.0 285.7h0.8M428.3 265.1h0.8M415.9 292.4h0.8M437.0 282.2h0.8M435.3 268.9h0.8M436.6 286.0h0.8M414.3 303.4h0.8M447.8 291.7h0.8M437.9 295.6h0.8M425.6 284.1h0.8M451.0 294.5h0.8M414.7 285.4h0.8M421.7 269.5h0.8M403.7 270.2h0.8M403.8 279.7h0.8M453.6 270.5h0.8M412.8 284.1h0.8M441.2 290.6h0.8M397.9 306.8h0.8M428.1 300.1h0.8M418.3 279.7h0.8M453.6 286.0h0.8M440.5 298.1h0.8M404.8 317.7h0.8M440.3 283.8h0.8M424.1 291.4h0.8M447.0 293.0h0.8M437.1 272.4h0.8M422.5 297.4h0.8M442.4 267.9h0.8M450.5 293.2h0.8M406.3 289.6h0.8M417.2 282.1h0.8M427.2 287.3h0.8M429.5 295.6h0.8M430.1 286.6h0.8M439.1 293.7h0.8M449.3 312.9h0.8M440.8 284.6h0.8M422.7 299.3h0.8M434.0 273.0h0.8M433.7 283.4h0.8M437.0 284.4h0.8M413.5 274.9h0.8M410.7 289.9h0.8M458.6 277.7h0.8M404.6 285.5h0.8M457.6 287.2h0.8M428.1 281.5h0.8M432.1 271.5h0.8M428.9 292.9h0.8M418.3 282.2h0.8M458.3 301.8h0.8M407.3 265.2h0.8M438.2 296.8h0.8M448.1 286.2h0.8M406.7 253.3h0.8M404.8 254.7h0.8M401.3 251.5h0.8M406.3 250.1h0.8M396.6 247.6h0.8M403.7 251.7h0.8" stroke="#6078f0" stroke-width="0.8" stroke-opacity="0.4" fill="none"/>
<path d="M340.2 250.4h0.9M333.7 252.3h0.9M334.3 254.1h0.9M329.6 252.0h0.9M340.0 252.5h0.9" stroke="#6060f0" stroke-width="0.9" stroke-opacity="0.6" fill="none"/>
<path d="M292.7 253.2h0.9M298.8 252.2h0.9M292.1 253.0h0.9M294.1 252.3h0.9M293.3 250.6h0.9M297.1 251.5h0.9M299.5 254.8h0.9M297.4 251.5h0.9M293.7 250.4h0.9M300.1 252.8h0.9M442.3 288.9h0.9M421.0 292.5h0.9M424.8 294.7h0.9M424.7 287.3h0.9M426.3 294.5h0.9M440.8 294.2h0.9M440.9 286.1h0.9M441.0 286.3h0.9M439.6 286.0h0.9M428.0 296.5h0.9M430.9 284.0h0.9M429.8 295.9h0.9M439.3 294.5h0.9M434.4 296.6h0.9M439.9 285.9h0.9M427.2 285.4h0.9M441.8 292.1h0.9M437.8 284.3h0.9M434.1 295.3h0.9M439.9 294.1h0.9M430.1 284.1h0.9M443.3 287.1h0.9M442.3 289.0h0.9M432.8 296.9h0.9M423.1 294.4h0.9M442.1 292.5h0.9M426.6 294.5h0.9M438.3 285.4h0.9M425.5 294.5h0.9M442.7 292.7h0.9M442.2 287.0h0.9M439.1 283.7h0.9M423.0 293.4h0.9M441.9 286.7h0.9M439.9 294.3h0.9M443.5 288.7h0.9M430.7 296.2h0.9M421.6 288.2h0.9" stroke="#30c090" stroke-width="0.9" stroke-opacity="0.6" fill="none"/>
<path d="M297.0 253.8h0.9M297.2 252.2h0.9M295.4 253.2h0.9M442.0 291.7h0.9M443.1 288.8h0.9M428.5 285.0h0.9M441.7 286.7h0.9M440.4 286.1h0.9M435.6 284.0h0.9M440.1 293.7h0.9M434.2 284.0h0.9M428.5 295.4h0.9M429.4 284.9h0.9M438.8 284.2h0.9M440.9 291.7h0.9M441.6 292.4h0.9M441.0 293.4h0.9M423.3 293.2h0.9M434.0 296.2h0.9M426.6 294.8h0.9M426.4 295.0h0.9M437.1 294.9h0.9M441.8 286.4h0.9M423.5 289.0h0.9M434.8 284.6h0.9M436.8 284.4h0.9M430.5 284.2h0.9M441.9 286.9h0.9" stroke="#30c078" stroke-width="0.9" stroke-opacity="0.6" fill="none"/>
<path d="M337.2 246.8h0.8M312.1 249.0h0.8M343.6 246.9h0.8M323.5 247.7h0.8M338.7 248.2h0.8M318.7 245.6h0.8M322.1 245.4h0.8M309.7 244.5h0.8M334.3 245.6h0.8M315.8 244.8h0.8M333.5 246.2h0.8M334.2 248.6h0.8M289.1 247.6h0.8M290.9 245.2h0.8M294.7 242.3h0.8M337.2 248.9h0.8M299.6 245.8h0.8M303.3 244.5h0.8M333.9 244.0h0.8M329.7 244.2h0.8M317.5 244.9h0.8M341.0 245.7h0.8M317.2 246.6h0.8M285.2 249.0h0.8M315.9 248.4h0.8M328.2 245.3h0.8M330.0 249.2h0.8M330.7 249.5h0.8M297.0 242.3h0.8M331.6 249.8h0.8M335.2 249.7h0.8M337.3 242.5h0.8M336.3 245.1h0.8M333.9 243.7h0.8M308.7 246.5h0.8M304.7 244.8h0.8M338.3 248.0h0.8M340.8 242.3h0.8M304.5 249.9h0.8M343.4 249.3h0.8M296.3 245.6h0.8M344.3 244.7h0.8M306.8 248.1h0.8M340.0 244.1h0.8M307.9 243.0h0.8M325.4 247.5h0.8M318.5 248.5h0.8M312.8 249.9h0.8M323.2 242.6h0.8M306.3 242.6h0.8M311.0 242.6h0.8M293.8 247.4h0.8M332.0 245.2h0.8M338.0 245.2h0.8M302.0 246.2h0.8M335.3 242.9h0.8M344.2 242.5h0.8M302.2 243.6h0.8M341.0 245.9h0.8M314.5 247.8h0.8M343.9 243.8h0.8M314.0 247.4h0.8M314.6 249.6h0.8M327.1 247.5h0.8M290.9 244.8h0.8M288.0 242.6h0.8M311.7 249.4h0.8M342.2 249.6h0.8M288.5 249.3h0.8M343.9 244.0h0.8M288.0 304.7h0.8M284.4 282.7h0.8M285.0 286.8h0.8M283.1 273.0h0.8M286.2 281.5h0.8M293.3 284.8h0.8M294.4 273.8h0.8M290.7 282.5h0.8M282.1 295.5h0.8M285.3 289.4h0.8M292.7 279.5h0.8M290.3 315.4h0.8M295.7 265.1h0.8M291.8 300.3h0.8M294.9 307.3h0.8M280.8 316.2h0.8M289.3 313.4h0.8M296.1 274.0h0.8M281.1 266.5h0.8M294.9 281.9h0.8M284.1 269.4h0.8M283.2 298.6h0.8M283.6 298.3h0.8M292.6 272.3h0.8M284.4 281.8h0.8M287.7 294.8h0.8M289.6 301.4h0.8M288.4 288.3h0.8M288.2 290.5h0.8M280.7 304.9h0.8M285.3 318.2h0.8M290.0 270.9h0.8M297.4 316.7h0.8M290.1 262.0h0.8M297.6 312.9h0.8M287.5 291.9h0.8M295.4 263.6h0.8M281.9 266.9h0.8M293.1 273.0h0.8M296.5 279.1h0.8M284.2 318.0h0.8M287.7 273.3h0.8M291.4 288.8h0.8M291.5 272.8h0.8M288.1 271.6h0.8M282.7 272.8h0.8M294.6 276.7h0.8M281.2 279.6h0.8M286.7 302.3h0.8M292.6 294.4h0.8M289.2 294.1h0.8M287.7 274.0h0.8M280.1 280.7h0.8M291.7 264.7h0.8M285.7 319.5h0.8M287.2 274.6h0.8M289.6 264.3h0.8M282.5 292.9h0.8M291.5 283.3h0.8M286.9 271.9h0.8M281.0 288.1h0.8M293.0 273.2h0.8M292.7 310.0h0.8M296.5 269.9h0.8M297.3 265.0h0.8M289.2 303.0h0.8M287.7 276.8h0.8M291.0 265.9h0.8M283.0 308.2h0.8M285.8 288.8h0.8M294.9 290.5h0.8M288.2 316.2h0.8M289.2 289.9h0.8M287.1 293.5h0.8M282.0 319.7h0.8M280.7 272.4h0.8M294.8 301.1h0.8M297.5 302.9h0.8M294.6 283.1h0.8M293.6 290.1h0.8" stroke="#7878ff" stroke-width="0.8" stroke-opacity="0.4" fill="none"/>
<path d="M289.1 253.9h1.0M293.4 251.9h1.0M292.7 254.8h1.0M291.5 251.5h1.0M289.2 252.4h1.0M288.9 252.9h1.0M292.1 251.6h1.0" stroke="#90d830" stroke-width="1.0" stroke-opacity="0.8" fill="none"/>
<path d="M291.7 254.2h1.0M290.0 253.0h1.0M292.2 252.2h1.0M292.3 254.2h1.0M293.0 253.8h1.0M291.3 252.2h1.0M290.2 252.7h1.0M290.3 253.9h1.0M289.9 253.0h1.0M290.1 253.4h1.0M290.2 253.7h1.0" stroke="#d87818" stroke-width="1.0" stroke-opacity="0.8" fill="none"/>
<path d="M294.1 255.4h1.0M287.2 253.6h1.0M296.0 253.6h1.0M289.0 251.0h1.0M288.5 251.4h1.0M291.5 250.4h1.0M290.6 250.4h1.0M294.6 251.0h1.0M292.3 255.9h1.0M292.4 250.6h1.0M292.8 250.5h1.0M287.3 254.2h1.0M288.0 251.7h1.0M287.1 254.0h1.0M289.1 255.3h1.0M288.5 255.2h1.0M290.9 255.7h1.0" stroke="#30a8c0" stroke-width="1.0" stroke-opacity="0.8" fill="none"/>
<path d="M295.1 252.7h1.0M292.3 251.1h1.0M295.0 253.7h1.0M294.1 251.8h1.0M294.2 251.7h1.0M290.0 255.0h1.0M294.9 252.4h1.0M293.3 251.4h1.0M292.8 255.2h1.0M292.4 251.1h1.0M290.0 251.4h1.0M288.4 253.4h1.0M291.1 255.3h1.0M295.1 253.3h1.0M294.2 251.8h1.0M290.3 251.3h1.0" stroke="#30c060" stroke-width="1.0" stroke-opacity="0.8" fill="none"/>
<path d="M289.6 252.9h1.0M293.7 253.6h1.0M291.0 254.4h1.0M293.8 253.3h1.0M289.6 253.6h1.0M292.1 254.4h1.0M292.9 254.3h1.0M292.0 254.4h1.0M293.8 253.3h1.0" stroke="#d8a830" stroke-width="1.0" stroke-opacity="0.8" fill="none"/>
<path d="M292.6 253.3h1.0M292.5 253.4h1.0M291.2 253.1h1.0M292.4 252.7h1.0M291.4 253.0h1.0M292.0 253.3h1.0M292.6 253.3h1.0M292.5 252.9h1.0M290.4 253.3h1.0M290.5 253.6h1.0M291.3 252.7h1.0M292.7 253.1h1.0M291.7 253.4h1.0M290.2 253.1h1.0M292.8 252.7h1.0M292.5 253.0h1.0M290.8 252.6h1.0M292.5 253.9h1.0M292.4 253.4h1.0M291.7 254.0h1.0M291.4 254.1h1.0M291.9 253.2h1.0M291.8 253.7h1.0M290.2 253.0h1.0M291.0 253.2h1.0M291.1 252.6h1.0M290.8 253.5h1.0M290.3 253.1h1.0M292.9 253.1h1.0M292.4 252.5h1.0M290.6 253.4h1.0M290.3 253.3h1.0M292.7 253.6h1.0M292.2 253.1h1.0M292.7 253.0h1.0M290.3 253.3h1.0M291.9 253.9h1.0M292.6 252.7h1.0M292.9 252.6h1.0M292.0 253.9h1.0M292.3 253.7h1.0M291.4 252.8h1.0M291.7 252.6h1.0M292.7 253.1h1.0M291.7 253.4h1.0M291.3 254.0h1.0" stroke="#f06018" stroke-width="1.0" stroke-opacity="0.8" fill="none"/>
<path d="M293.6 253.2h1.0M293.2 253.9h1.0M292.9 252.3h1.0M290.1 252.5h1.0M292.5 252.2h1.0M293.4 252.5h1.0M293.2 252.5h1.0M293.5 252.8h1.0M293.5 253.0h1.0M290.1 252.6h1.0M291.5 252.1h1.0M293.4 253.8h1.0M292.7 254.2h1.0M292.5 254.3h1.0M293.3 253.8h1.0M291.1 252.1h1.0M292.0 252.1h1.0M290.9 254.3h1.0M293.5 253.6h1.0" stroke="#d89018" stroke-width="1.0" stroke-opacity="0.8" fill="none"/>
<path d="M291.8 250.7h1.0M289.9 250.9h1.0M288.6 251.6h1.0M291.7 250.7h1.0M295.6 252.5h1.0M295.8 253.0h1.0M295.9 252.9h1.0M294.2 251.2h1.0M293.8 255.4h1.0M287.6 252.6h1.0M288.7 254.8h1.0M291.3 255.7h1.0M292.9 250.8h1.0" stroke="#30c0a8" stroke-width="1.0" stroke-opacity="0.8" fill="none"/>
<path d="M299.0 250.6h1.0M284.7 249.5h1.0" stroke="#3078f0" stroke-width="1.0" stroke-opacity="0.8" fill="none"/>
<path d="M294.3 253.0h1.0M291.2 254.8h1.0M290.5 251.8h1.0M291.9 251.6h1.0M294.4 253.1h1.0M294.2 252.6h1.0M289.1 253.0h1.0M293.1 254.5h1.0" stroke="#a8d830" stroke-width="1.0" stroke-opacity="0.8" fill="none"/>
<path d="M289.6 252.6h1.0M293.3 254.3h1.0M292.5 251.9h1.0M292.5 254.5h1.0M294.0 252.9h1.0M293.7 252.5h1.0M291.0 254.6h1.0M293.7 252.4h1.0" stroke="#c0c030" stroke-width="1.0" stroke-opacity="0.8" fill="none"/>
<path d="M291.3 251.8h1.0M291.1 251.7h1.0M291.6 251.7h1.0M290.0 252.1h1.0M294.1 253.5h1.0M290.7 251.8h1.0M292.8 254.5h1.0M289.6 254.0h1.0M290.6 251.8h1.0" stroke="#c0d830" stroke-width="1.0" stroke-opacity="0.8" fill="none"/>
<path d="M288.2 253.9h1.0M290.1 251.2h1.0M288.4 252.3h1.0M295.0 252.3h1.0M294.1 251.6h1.0M290.1 251.2h1.0M291.2 251.0h1.0M295.3 253.3h1.0M289.8 251.3h1.0" stroke="#30c078" stroke-width="1.0" stroke-opacity="0.8" fill="none"/>
<path d="M289.4 255.9h1.0M294.8 250.7h1.0M286.9 253.9h1.0M289.6 255.9h1.0M286.9 253.8h1.0M288.0 251.4h1.0M294.9 251.0h1.0M295.1 251.1h1.0M290.5 250.2h1.0M286.8 253.0h1.0M296.8 253.4h1.0M293.6 250.5h1.0M287.2 254.6h1.0" stroke="#3090c0" stroke-width="1.0" stroke-opacity="0.8" fill="none"/>
<path d="M289.1 252.4h1.0M292.6 254.8h1.0" stroke="#78c030" stroke-width="1.0" stroke-opacity="0.8" fill="none"/>
<path d="M290.2 253.4h1.0M291.0 252.4h1.0M291.9 252.2h1.0M290.6 252.6h1.0M290.2 253.4h1.0M292.5 254.0h1.0M292.8 253.8h1.0M290.6 253.9h1.0M292.9 253.8h1.0M293.3 253.2h1.0M293.2 253.0h1.0M293.2 253.0h1.0" stroke="#d86018" stroke-width="1.0" stroke-opacity="0.8" fill="none"/>
<path d="M289.1 254.1h1.0M289.1 252.2h1.0M288.9 252.5h1.0M292.7 255.0h1.0M289.7 251.8h1.0M294.6 253.7h1.0M288.8 252.7h1.0M294.6 252.6h1.0M290.9 255.0h1.0" stroke="#60c048" stroke-width="1.0" stroke-opacity="0.8" fill="none"/>
<path d="M289.9 254.0h1.0M293.2 252.2h1.0M289.4 253.4h1.0" stroke="#d8c030" stroke-width="1.0" stroke-opacity="0.8" fill="none"/>
<path d="M296.2 254.8h1.0M287.6 251.0h1.0M289.8 256.2h1.0M288.3 255.9h1.0M288.7 255.9h1.0M287.7 250.8h1.0M291.7 256.5h1.0M293.3 256.3h1.0M295.5 255.4h1.0M292.9 249.9h1.0" stroke="#3090d8" stroke-width="1.0" stroke-opacity="0.8" fill="none"/>
<path d="M293.4 251.1h1.0M293.7 255.3h1.0M290.5 250.9h1.0M294.5 251.5h1.0M294.2 251.4h1.0" stroke="#30c090" stroke-width="1.0" stroke-opacity="0.8" fill="none"/>
<path d="M286.0 251.2h1.0M295.3 249.6h1.0M296.2 250.7h1.0M293.9 249.5h1.0M296.3 256.1h1.0M290.8 257.2h1.0M287.5 250.2h1.0M286.3 250.6h1.0M297.8 252.0h1.0M288.7 256.2h1.0M286.8 255.2h1.0M292.1 257.5h1.0M289.7 256.9h1.0" stroke="#3078d8" stroke-width="1.0" stroke-opacity="0.8" fill="none"/>
<path d="M292.0 255.0h1.0M294.1 254.2h1.0M289.0 252.5h1.0M292.7 251.5h1.0M289.4 254.3h1.0M293.6 254.5h1.0" stroke="#78c048" stroke-width="1.0" stroke-opacity="0.8" fill="none"/>
<path d="M289.7 253.0h1.0M289.9 253.8h1.0M293.6 253.7h1.0" stroke="#d8a818" stroke-width="1.0" stroke-opacity="0.8" fill="none"/>
<path d="M293.6 254.7h1.0M289.7 251.6h1.0M292.8 255.0h1.0M289.8 254.7h1.0M289.5 251.7h1.0M291.9 251.3h1.0M293.5 254.8h1.0" stroke="#48c048" stroke-width="1.0" stroke-opacity="0.8" fill="none"/>
<path d="M292.1 254.9h1.0M289.8 251.9h1.0" stroke="#78d830" stroke-width="1.0" stroke-opacity="0.8" fill="none"/>
<path d="M288.4 253.5h1.0" stroke="#30c048" stroke-width="1.0" stroke-opacity="0.8" fill="none"/>
<path d="M467.4 274.8h0.9M402.7 281.3h0.9M422.2 315.4h0.9M470.2 299.8h0.9M423.9 270.1h0.9M453.1 303.5h0.9M465.7 274.3h0.9M425.6 265.0h0.9" stroke="#7890ff" stroke-width="0.9" stroke-opacity="0.4" fill="none"/>
<path d="M438.8 290.6h0.9M439.5 290.3h0.9M426.4 289.6h0.9M434.0 292.0h0.9M429.2 291.0h0.9M434.7 292.0h0.9" stroke="#78c030" stroke-width="0.9" stroke-opacity="0.8" fill="none"/>
<path d="M429.2 291.5h0.9M433.4 287.4h0.9M436.6 290.3h0.9M436.4 292.4h0.9M428.0 291.6h0.9M436.2 287.1h0.9M431.5 287.1h0.9M435.5 290.3h0.9M431.4 291.9h0.9M426.1 289.9h0.9M435.8 290.2h0.9M433.3 289.7h0.9M436.5 292.4h0.9M437.0 288.8h0.9M432.5 292.0h0.9M431.5 292.3h0.9M426.0 290.7h0.9M433.0 291.8h0.9M434.4 286.2h0.9M430.2 288.5h0.9M428.7 288.0h0.9M430.5 290.6h0.9M435.9 288.7h0.9M435.5 286.2h0.9M437.6 287.2h0.9M426.6 291.8h0.9M436.4 292.1h0.9M434.7 288.3h0.9M430.5 286.9h0.9M436.0 292.8h0.9M438.7 290.5h0.9M430.4 289.9h0.9M436.0 288.8h0.9M427.4 289.5h0.9M426.8 292.5h0.9M436.5 293.1h0.9M429.0 291.8h0.9M435.0 292.2h0.9" stroke="#90d830" stroke-width="0.9" stroke-opacity="0.8" fill="none"/>
<path d="M435.4 284.1h0.9M439.8 285.9h0.9M441.7 286.7h0.9M425.5 294.2h0.9M437.2 294.9h0.9M432.7 295.7h0.9M440.5 285.8h0.9M424.5 287.7h0.9M441.3 287.7h0.9M441.5 287.8h0.9M424.9 294.0h0.9M440.8 286.7h0.9M431.6 284.2h0.9" stroke="#30c060" stroke-width="0.9" stroke-opacity="0.6" fill="none"/>
<path d="M427.4 293.7h0.9M425.7 292.8h0.9M433.7 286.3h0.9M438.8 291.9h0.9M435.6 286.0h0.9M426.6 289.2h0.9M429.6 291.0h0.9M426.4 288.7h0.9M430.3 292.3h0.9M433.2 294.1h0.9M434.4 290.5h0.9M432.0 286.6h0.9M433.4 294.0h0.9M432.3 287.1h0.9M426.8 289.9h0.9M431.5 288.6h0.9M430.1 291.2h0.9M426.8 291.7h0.9M433.2 288.5h0.9M430.2 289.1h0.9M425.3 291.8h0.9M427.6 292.2h0.9M439.1 291.7h0.9M436.3 290.9h0.9M437.7 292.9h0.9M438.9 291.4h0.9M428.0 286.9h0.9M431.4 289.9h0.9M433.6 292.6h0.9M432.2 293.8h0.9M433.9 287.1h0.9" stroke="#78c048" stroke-width="0.9" stroke-opacity="0.8" fill="none"/>
<path d="M432.4 286.7h0.9M429.0 289.4h0.9M431.8 286.6h0.9M427.2 290.1h0.9M434.1 287.9h0.9M428.6 289.5h0.9M432.5 293.3h0.9M430.5 289.6h0.9M433.4 287.8h0.9M430.6 287.2h0.9M434.8 287.5h0.9M433.0 290.3h0.9M428.6 292.6h0.9M433.8 289.4h0.9M427.9 292.3h0.9M428.6 290.7h0.9M433.4 288.9h0.9M434.9 289.0h0.9M430.5 291.2h0.9M432.7 291.3h0.9M435.7 291.9h0.9M435.3 288.3h0.9M435.9 289.8h0.9M436.9 287.1h0.9M433.2 290.2h0.9M429.6 291.5h0.9M432.7 292.4h0.9M435.2 292.5h0.9" stroke="#a8d830" stroke-width="0.9" stroke-opacity="0.8" fill="none"/>
<path d="M430.9 289.3h0.9M431.1 290.0h0.9M435.5 289.1h0.9M431.9 292.0h0.9M431.5 291.7h0.9M432.6 291.5h0.9M429.3 290.2h0.9M431.5 291.2h0.9M433.9 289.9h0.9M431.6 292.2h0.9M431.4 290.0h0.9" stroke="#c0c030" stroke-width="0.9" stroke-opacity="0.8" fill="none"/>
<path d="M431.8 290.3h0.9M435.6 292.4h0.9M429.6 290.0h0.9M431.1 289.4h0.9M429.5 290.0h0.9M434.0 287.7h0.9M431.0 288.9h0.9M428.7 289.1h0.9M433.8 288.4h0.9M433.4 291.3h0.9M431.0 291.1h0.9M429.9 288.1h0.9M434.0 291.2h0.9M434.8 288.4h0.9" stroke="#c0d830" stroke-width="0.9" stroke-opacity="0.8" fill="none"/>
<path d="M439.1 290.6h0.9M430.2 291.0h0.9" stroke="#78d830" stroke-width="0.9" stroke-opacity="0.8" fill="none"/>
<path d="M434.2 290.8h0.9M432.5 290.0h0.9M434.4 288.4h0.9" stroke="#d8c030" stroke-width="0.9" stroke-opacity="0.8" fill="none"/>
<path d="M415.3 251.0h0.8M439.2 252.6h0.8M428.0 254.4h0.8M416.5 249.4h0.8M429.6 252.4h0.8M408.2 250.5h0.8M426.5 249.0h0.8M426.3 255.2h0.8M460.9 252.3h0.8M417.5 252.9h0.8M457.9 254.8h0.8M457.1 249.1h0.8M441.7 251.8h0.8M435.7 253.2h0.8M455.4 251.1h0.8M423.3 251.0h0.8M405.2 251.7h0.8M429.0 256.8h0.8M443.4 248.2h0.8M432.7 248.5h0.8M443.4 251.0h0.8M436.1 251.9h0.8M415.0 249.9h0.8M407.6 250.9h0.8M427.2 252.0h0.8M445.1 253.8h0.8M409.1 255.7h0.8M443.2 254.7h0.8M404.6 251.4h0.8M421.5 250.7h0.8M432.5 252.2h0.8M456.2 252.8h0.8M433.5 248.7h0.8M431.9 255.8h0.8M427.3 250.7h0.8M427.7 250.5h0.8M449.4 253.7h0.8M442.2 252.0h0.8M412.5 247.9h0.8M409.4 251.2h0.8M460.2 251.0h0.8M405.2 252.6h0.8M443.8 251.0h0.8M427.9 251.2h0.8M421.2 253.3h0.8M446.5 249.4h0.8M442.8 252.5h0.8M453.6 251.7h0.8M453.5 246.4h0.8M415.9 255.5h0.8M446.6 249.4h0.8M412.7 253.3h0.8M454.7 251.8h0.8M422.7 250.5h0.8M459.4 252.6h0.8" stroke="#6078f0" stroke-width="0.8" stroke-opacity="0.6" fill="none"/>
<text x="88.15" y="234.50" font-size="10" text-anchor="middle" fill="#000" stroke="#000" stroke-width="0.15" textLength="36.4" lengthAdjust="spacingAndGlyphs">Pre-filter</text>
<rect x="46.70" y="239.6" width="82.9" height="82.80" fill="none" stroke="#000" stroke-width="1.1"/>
<line x1="67.50" y1="239.60" x2="67.50" y2="322.40" stroke="#222" stroke-width="1.0"/>
<line x1="46.70" y1="259.60" x2="129.60" y2="259.60" stroke="#222" stroke-width="1.0"/>
<text x="48.10" y="247.10" font-size="5.3" text-anchor="start" fill="#333">Q1</text>
<text x="48.10" y="252.80" font-size="5.3" text-anchor="start" fill="#333">45,3</text>
<text x="128.00" y="247.10" font-size="5.3" text-anchor="end" fill="#333">Q2</text>
<text x="128.00" y="252.80" font-size="5.3" text-anchor="end" fill="#333">17,8</text>
<text x="48.10" y="312.60" font-size="5.3" text-anchor="start" fill="#333">Q4</text>
<text x="48.10" y="318.60" font-size="5.3" text-anchor="start" fill="#333">1,66</text>
<text x="128.00" y="312.60" font-size="5.3" text-anchor="end" fill="#333">Q3</text>
<text x="128.00" y="318.60" font-size="5.3" text-anchor="end" fill="#333">35,3</text>
<line x1="43.90" y1="247.50" x2="46.70" y2="247.50" stroke="#000" stroke-width="0.9"/>
<text x="40.70" y="250.30" font-size="8" text-anchor="end" fill="#000" stroke="#000" stroke-width="0.12">10<tspan font-size="4.3" dy="-2.3">5</tspan></text>
<line x1="43.90" y1="267.00" x2="46.70" y2="267.00" stroke="#000" stroke-width="0.9"/>
<text x="40.70" y="269.80" font-size="8" text-anchor="end" fill="#000" stroke="#000" stroke-width="0.12">10<tspan font-size="4.3" dy="-2.3">4</tspan></text>
<line x1="43.90" y1="289.00" x2="46.70" y2="289.00" stroke="#000" stroke-width="0.9"/>
<text x="40.70" y="291.80" font-size="8" text-anchor="end" fill="#000" stroke="#000" stroke-width="0.12">10<tspan font-size="4.3" dy="-2.3">3</tspan></text>
<line x1="43.90" y1="303.00" x2="46.70" y2="303.00" stroke="#000" stroke-width="0.9"/>
<text x="40.70" y="305.80" font-size="8" text-anchor="end" fill="#000" stroke="#000" stroke-width="0.12">0</text>
<line x1="43.90" y1="318.00" x2="46.70" y2="318.00" stroke="#000" stroke-width="0.9"/>
<text x="40.70" y="320.80" font-size="8" text-anchor="end" fill="#000" stroke="#000" stroke-width="0.12">-10<tspan font-size="4.3" dy="-2.3">3</tspan></text>
<line x1="45.10" y1="261.13" x2="46.70" y2="261.13" stroke="#000" stroke-width="0.6"/>
<line x1="45.10" y1="257.70" x2="46.70" y2="257.70" stroke="#000" stroke-width="0.6"/>
<line x1="45.10" y1="255.26" x2="46.70" y2="255.26" stroke="#000" stroke-width="0.6"/>
<line x1="45.10" y1="253.37" x2="46.70" y2="253.37" stroke="#000" stroke-width="0.6"/>
<line x1="45.10" y1="251.83" x2="46.70" y2="251.83" stroke="#000" stroke-width="0.6"/>
<line x1="45.10" y1="250.52" x2="46.70" y2="250.52" stroke="#000" stroke-width="0.6"/>
<line x1="45.10" y1="249.39" x2="46.70" y2="249.39" stroke="#000" stroke-width="0.6"/>
<line x1="45.10" y1="248.39" x2="46.70" y2="248.39" stroke="#000" stroke-width="0.6"/>
<line x1="45.10" y1="282.38" x2="46.70" y2="282.38" stroke="#000" stroke-width="0.6"/>
<line x1="45.10" y1="278.50" x2="46.70" y2="278.50" stroke="#000" stroke-width="0.6"/>
<line x1="45.10" y1="275.75" x2="46.70" y2="275.75" stroke="#000" stroke-width="0.6"/>
<line x1="45.10" y1="273.62" x2="46.70" y2="273.62" stroke="#000" stroke-width="0.6"/>
<line x1="45.10" y1="271.88" x2="46.70" y2="271.88" stroke="#000" stroke-width="0.6"/>
<line x1="45.10" y1="270.41" x2="46.70" y2="270.41" stroke="#000" stroke-width="0.6"/>
<line x1="45.10" y1="269.13" x2="46.70" y2="269.13" stroke="#000" stroke-width="0.6"/>
<line x1="45.10" y1="268.01" x2="46.70" y2="268.01" stroke="#000" stroke-width="0.6"/>
<rect x="44.50" y="302" width="2.2" height="4.2" fill="#000"/>
<line x1="46.70" y1="322.40" x2="46.70" y2="325.40" stroke="#000" stroke-width="0.8"/>
<line x1="49.88" y1="322.40" x2="49.88" y2="324.20" stroke="#000" stroke-width="0.6"/>
<line x1="53.06" y1="322.40" x2="53.06" y2="324.20" stroke="#000" stroke-width="0.6"/>
<line x1="56.24" y1="322.40" x2="56.24" y2="324.20" stroke="#000" stroke-width="0.6"/>
<line x1="59.42" y1="322.40" x2="59.42" y2="324.20" stroke="#000" stroke-width="0.6"/>
<line x1="62.60" y1="322.40" x2="62.60" y2="325.40" stroke="#000" stroke-width="0.8"/>
<line x1="65.78" y1="322.40" x2="65.78" y2="324.20" stroke="#000" stroke-width="0.6"/>
<line x1="68.96" y1="322.40" x2="68.96" y2="324.20" stroke="#000" stroke-width="0.6"/>
<line x1="72.14" y1="322.40" x2="72.14" y2="324.20" stroke="#000" stroke-width="0.6"/>
<line x1="75.32" y1="322.40" x2="75.32" y2="324.20" stroke="#000" stroke-width="0.6"/>
<line x1="78.50" y1="322.40" x2="78.50" y2="325.40" stroke="#000" stroke-width="0.8"/>
<line x1="81.68" y1="322.40" x2="81.68" y2="324.20" stroke="#000" stroke-width="0.6"/>
<line x1="84.86" y1="322.40" x2="84.86" y2="324.20" stroke="#000" stroke-width="0.6"/>
<line x1="88.04" y1="322.40" x2="88.04" y2="324.20" stroke="#000" stroke-width="0.6"/>
<line x1="91.22" y1="322.40" x2="91.22" y2="324.20" stroke="#000" stroke-width="0.6"/>
<line x1="94.40" y1="322.40" x2="94.40" y2="325.40" stroke="#000" stroke-width="0.8"/>
<line x1="97.58" y1="322.40" x2="97.58" y2="324.20" stroke="#000" stroke-width="0.6"/>
<line x1="100.76" y1="322.40" x2="100.76" y2="324.20" stroke="#000" stroke-width="0.6"/>
<line x1="103.94" y1="322.40" x2="103.94" y2="324.20" stroke="#000" stroke-width="0.6"/>
<line x1="107.12" y1="322.40" x2="107.12" y2="324.20" stroke="#000" stroke-width="0.6"/>
<line x1="110.30" y1="322.40" x2="110.30" y2="325.40" stroke="#000" stroke-width="0.8"/>
<line x1="113.48" y1="322.40" x2="113.48" y2="324.20" stroke="#000" stroke-width="0.6"/>
<line x1="116.66" y1="322.40" x2="116.66" y2="324.20" stroke="#000" stroke-width="0.6"/>
<line x1="119.84" y1="322.40" x2="119.84" y2="324.20" stroke="#000" stroke-width="0.6"/>
<line x1="123.02" y1="322.40" x2="123.02" y2="324.20" stroke="#000" stroke-width="0.6"/>
<line x1="126.20" y1="322.40" x2="126.20" y2="325.40" stroke="#000" stroke-width="0.8"/>
<text x="50.20" y="333.20" font-size="7.7" text-anchor="end" stroke="#000" stroke-width="0.15" transform="rotate(-45 50.20 333.20)">0</text>
<text x="66.10" y="333.20" font-size="7.7" text-anchor="end" stroke="#000" stroke-width="0.15" transform="rotate(-45 66.10 333.20)">50K</text>
<text x="82.00" y="333.20" font-size="7.7" text-anchor="end" stroke="#000" stroke-width="0.15" transform="rotate(-45 82.00 333.20)">100K</text>
<text x="97.90" y="333.20" font-size="7.7" text-anchor="end" stroke="#000" stroke-width="0.15" transform="rotate(-45 97.90 333.20)">150K</text>
<text x="113.80" y="333.20" font-size="7.7" text-anchor="end" stroke="#000" stroke-width="0.15" transform="rotate(-45 113.80 333.20)">200K</text>
<text x="129.70" y="333.20" font-size="7.7" text-anchor="end" stroke="#000" stroke-width="0.15" transform="rotate(-45 129.70 333.20)">250K</text>
<text x="203.25" y="234.50" font-size="10" text-anchor="middle" fill="#000" stroke="#000" stroke-width="0.15" textLength="40.5" lengthAdjust="spacingAndGlyphs">Post-filter</text>
<rect x="161.80" y="239.6" width="82.9" height="82.80" fill="none" stroke="#000" stroke-width="1.1"/>
<line x1="182.50" y1="239.60" x2="182.50" y2="322.40" stroke="#222" stroke-width="1.0"/>
<line x1="161.80" y1="259.60" x2="244.70" y2="259.60" stroke="#222" stroke-width="1.0"/>
<text x="163.20" y="247.10" font-size="5.3" text-anchor="start" fill="#333">Q1</text>
<text x="163.20" y="252.80" font-size="5.3" text-anchor="start" fill="#333">0,14</text>
<text x="243.10" y="247.10" font-size="5.3" text-anchor="end" fill="#333">Q2</text>
<text x="243.10" y="252.80" font-size="5.3" text-anchor="end" fill="#333">0,71</text>
<text x="163.20" y="312.60" font-size="5.3" text-anchor="start" fill="#333">Q4</text>
<text x="163.20" y="318.60" font-size="5.3" text-anchor="start" fill="#333">2,05</text>
<text x="243.10" y="312.60" font-size="5.3" text-anchor="end" fill="#333">Q3</text>
<text x="243.10" y="318.60" font-size="5.3" text-anchor="end" fill="#333">97,1</text>
<line x1="159.00" y1="247.50" x2="161.80" y2="247.50" stroke="#000" stroke-width="0.9"/>
<text x="155.80" y="250.30" font-size="8" text-anchor="end" fill="#000" stroke="#000" stroke-width="0.12">10<tspan font-size="4.3" dy="-2.3">5</tspan></text>
<line x1="159.00" y1="267.00" x2="161.80" y2="267.00" stroke="#000" stroke-width="0.9"/>
<text x="155.80" y="269.80" font-size="8" text-anchor="end" fill="#000" stroke="#000" stroke-width="0.12">10<tspan font-size="4.3" dy="-2.3">4</tspan></text>
<line x1="159.00" y1="289.00" x2="161.80" y2="289.00" stroke="#000" stroke-width="0.9"/>
<text x="155.80" y="291.80" font-size="8" text-anchor="end" fill="#000" stroke="#000" stroke-width="0.12">10<tspan font-size="4.3" dy="-2.3">3</tspan></text>
<line x1="159.00" y1="303.00" x2="161.80" y2="303.00" stroke="#000" stroke-width="0.9"/>
<text x="155.80" y="305.80" font-size="8" text-anchor="end" fill="#000" stroke="#000" stroke-width="0.12">0</text>
<line x1="159.00" y1="318.00" x2="161.80" y2="318.00" stroke="#000" stroke-width="0.9"/>
<text x="155.80" y="320.80" font-size="8" text-anchor="end" fill="#000" stroke="#000" stroke-width="0.12">-10<tspan font-size="4.3" dy="-2.3">3</tspan></text>
<line x1="160.20" y1="261.13" x2="161.80" y2="261.13" stroke="#000" stroke-width="0.6"/>
<line x1="160.20" y1="257.70" x2="161.80" y2="257.70" stroke="#000" stroke-width="0.6"/>
<line x1="160.20" y1="255.26" x2="161.80" y2="255.26" stroke="#000" stroke-width="0.6"/>
<line x1="160.20" y1="253.37" x2="161.80" y2="253.37" stroke="#000" stroke-width="0.6"/>
<line x1="160.20" y1="251.83" x2="161.80" y2="251.83" stroke="#000" stroke-width="0.6"/>
<line x1="160.20" y1="250.52" x2="161.80" y2="250.52" stroke="#000" stroke-width="0.6"/>
<line x1="160.20" y1="249.39" x2="161.80" y2="249.39" stroke="#000" stroke-width="0.6"/>
<line x1="160.20" y1="248.39" x2="161.80" y2="248.39" stroke="#000" stroke-width="0.6"/>
<line x1="160.20" y1="282.38" x2="161.80" y2="282.38" stroke="#000" stroke-width="0.6"/>
<line x1="160.20" y1="278.50" x2="161.80" y2="278.50" stroke="#000" stroke-width="0.6"/>
<line x1="160.20" y1="275.75" x2="161.80" y2="275.75" stroke="#000" stroke-width="0.6"/>
<line x1="160.20" y1="273.62" x2="161.80" y2="273.62" stroke="#000" stroke-width="0.6"/>
<line x1="160.20" y1="271.88" x2="161.80" y2="271.88" stroke="#000" stroke-width="0.6"/>
<line x1="160.20" y1="270.41" x2="161.80" y2="270.41" stroke="#000" stroke-width="0.6"/>
<line x1="160.20" y1="269.13" x2="161.80" y2="269.13" stroke="#000" stroke-width="0.6"/>
<line x1="160.20" y1="268.01" x2="161.80" y2="268.01" stroke="#000" stroke-width="0.6"/>
<rect x="159.60" y="302" width="2.2" height="4.2" fill="#000"/>
<line x1="161.80" y1="322.40" x2="161.80" y2="325.40" stroke="#000" stroke-width="0.8"/>
<line x1="164.98" y1="322.40" x2="164.98" y2="324.20" stroke="#000" stroke-width="0.6"/>
<line x1="168.16" y1="322.40" x2="168.16" y2="324.20" stroke="#000" stroke-width="0.6"/>
<line x1="171.34" y1="322.40" x2="171.34" y2="324.20" stroke="#000" stroke-width="0.6"/>
<line x1="174.52" y1="322.40" x2="174.52" y2="324.20" stroke="#000" stroke-width="0.6"/>
<line x1="177.70" y1="322.40" x2="177.70" y2="325.40" stroke="#000" stroke-width="0.8"/>
<line x1="180.88" y1="322.40" x2="180.88" y2="324.20" stroke="#000" stroke-width="0.6"/>
<line x1="184.06" y1="322.40" x2="184.06" y2="324.20" stroke="#000" stroke-width="0.6"/>
<line x1="187.24" y1="322.40" x2="187.24" y2="324.20" stroke="#000" stroke-width="0.6"/>
<line x1="190.42" y1="322.40" x2="190.42" y2="324.20" stroke="#000" stroke-width="0.6"/>
<line x1="193.60" y1="322.40" x2="193.60" y2="325.40" stroke="#000" stroke-width="0.8"/>
<line x1="196.78" y1="322.40" x2="196.78" y2="324.20" stroke="#000" stroke-width="0.6"/>
<line x1="199.96" y1="322.40" x2="199.96" y2="324.20" stroke="#000" stroke-width="0.6"/>
<line x1="203.14" y1="322.40" x2="203.14" y2="324.20" stroke="#000" stroke-width="0.6"/>
<line x1="206.32" y1="322.40" x2="206.32" y2="324.20" stroke="#000" stroke-width="0.6"/>
<line x1="209.50" y1="322.40" x2="209.50" y2="325.40" stroke="#000" stroke-width="0.8"/>
<line x1="212.68" y1="322.40" x2="212.68" y2="324.20" stroke="#000" stroke-width="0.6"/>
<line x1="215.86" y1="322.40" x2="215.86" y2="324.20" stroke="#000" stroke-width="0.6"/>
<line x1="219.04" y1="322.40" x2="219.04" y2="324.20" stroke="#000" stroke-width="0.6"/>
<line x1="222.22" y1="322.40" x2="222.22" y2="324.20" stroke="#000" stroke-width="0.6"/>
<line x1="225.40" y1="322.40" x2="225.40" y2="325.40" stroke="#000" stroke-width="0.8"/>
<line x1="228.58" y1="322.40" x2="228.58" y2="324.20" stroke="#000" stroke-width="0.6"/>
<line x1="231.76" y1="322.40" x2="231.76" y2="324.20" stroke="#000" stroke-width="0.6"/>
<line x1="234.94" y1="322.40" x2="234.94" y2="324.20" stroke="#000" stroke-width="0.6"/>
<line x1="238.12" y1="322.40" x2="238.12" y2="324.20" stroke="#000" stroke-width="0.6"/>
<line x1="241.30" y1="322.40" x2="241.30" y2="325.40" stroke="#000" stroke-width="0.8"/>
<text x="165.30" y="333.20" font-size="7.7" text-anchor="end" stroke="#000" stroke-width="0.15" transform="rotate(-45 165.30 333.20)">0</text>
<text x="181.20" y="333.20" font-size="7.7" text-anchor="end" stroke="#000" stroke-width="0.15" transform="rotate(-45 181.20 333.20)">50K</text>
<text x="197.10" y="333.20" font-size="7.7" text-anchor="end" stroke="#000" stroke-width="0.15" transform="rotate(-45 197.10 333.20)">100K</text>
<text x="213.00" y="333.20" font-size="7.7" text-anchor="end" stroke="#000" stroke-width="0.15" transform="rotate(-45 213.00 333.20)">150K</text>
<text x="228.90" y="333.20" font-size="7.7" text-anchor="end" stroke="#000" stroke-width="0.15" transform="rotate(-45 228.90 333.20)">200K</text>
<text x="244.80" y="333.20" font-size="7.7" text-anchor="end" stroke="#000" stroke-width="0.15" transform="rotate(-45 244.80 333.20)">250K</text>
<text x="318.45" y="234.50" font-size="10" text-anchor="middle" fill="#000" stroke="#000" stroke-width="0.15" textLength="36.4" lengthAdjust="spacingAndGlyphs">Pre-filter</text>
<rect x="277.00" y="239.9" width="82.9" height="82.50" fill="none" stroke="#333" stroke-width="1.3"/>
<line x1="298.60" y1="239.90" x2="298.60" y2="322.40" stroke="#666" stroke-width="1.3"/>
<line x1="277.00" y1="257.90" x2="359.90" y2="257.90" stroke="#666" stroke-width="1.3"/>
<text x="278.40" y="247.40" font-size="5.3" text-anchor="start" fill="#333">Q5</text>
<text x="278.40" y="253.10" font-size="5.3" text-anchor="start" fill="#333">45,1</text>
<text x="358.30" y="247.40" font-size="5.3" text-anchor="end" fill="#333">Q6</text>
<text x="358.30" y="253.10" font-size="5.3" text-anchor="end" fill="#333">18,0</text>
<text x="278.40" y="312.60" font-size="5.3" text-anchor="start" fill="#333">Q8</text>
<text x="278.40" y="318.60" font-size="5.3" text-anchor="start" fill="#333">1,70</text>
<text x="358.30" y="312.60" font-size="5.3" text-anchor="end" fill="#333">Q7</text>
<text x="358.30" y="318.60" font-size="5.3" text-anchor="end" fill="#333">35,2</text>
<line x1="274.20" y1="247.50" x2="277.00" y2="247.50" stroke="#000" stroke-width="0.9"/>
<text x="271.00" y="250.30" font-size="8" text-anchor="end" fill="#000" stroke="#000" stroke-width="0.12">10<tspan font-size="4.3" dy="-2.3">5</tspan></text>
<line x1="274.20" y1="267.00" x2="277.00" y2="267.00" stroke="#000" stroke-width="0.9"/>
<text x="271.00" y="269.80" font-size="8" text-anchor="end" fill="#000" stroke="#000" stroke-width="0.12">10<tspan font-size="4.3" dy="-2.3">4</tspan></text>
<line x1="274.20" y1="289.00" x2="277.00" y2="289.00" stroke="#000" stroke-width="0.9"/>
<text x="271.00" y="291.80" font-size="8" text-anchor="end" fill="#000" stroke="#000" stroke-width="0.12">10<tspan font-size="4.3" dy="-2.3">3</tspan></text>
<line x1="274.20" y1="303.00" x2="277.00" y2="303.00" stroke="#000" stroke-width="0.9"/>
<text x="271.00" y="305.80" font-size="8" text-anchor="end" fill="#000" stroke="#000" stroke-width="0.12">0</text>
<line x1="274.20" y1="318.00" x2="277.00" y2="318.00" stroke="#000" stroke-width="0.9"/>
<text x="271.00" y="320.80" font-size="8" text-anchor="end" fill="#000" stroke="#000" stroke-width="0.12">-10<tspan font-size="4.3" dy="-2.3">3</tspan></text>
<line x1="275.40" y1="261.13" x2="277.00" y2="261.13" stroke="#000" stroke-width="0.6"/>
<line x1="275.40" y1="257.70" x2="277.00" y2="257.70" stroke="#000" stroke-width="0.6"/>
<line x1="275.40" y1="255.26" x2="277.00" y2="255.26" stroke="#000" stroke-width="0.6"/>
<line x1="275.40" y1="253.37" x2="277.00" y2="253.37" stroke="#000" stroke-width="0.6"/>
<line x1="275.40" y1="251.83" x2="277.00" y2="251.83" stroke="#000" stroke-width="0.6"/>
<line x1="275.40" y1="250.52" x2="277.00" y2="250.52" stroke="#000" stroke-width="0.6"/>
<line x1="275.40" y1="249.39" x2="277.00" y2="249.39" stroke="#000" stroke-width="0.6"/>
<line x1="275.40" y1="248.39" x2="277.00" y2="248.39" stroke="#000" stroke-width="0.6"/>
<line x1="275.40" y1="282.38" x2="277.00" y2="282.38" stroke="#000" stroke-width="0.6"/>
<line x1="275.40" y1="278.50" x2="277.00" y2="278.50" stroke="#000" stroke-width="0.6"/>
<line x1="275.40" y1="275.75" x2="277.00" y2="275.75" stroke="#000" stroke-width="0.6"/>
<line x1="275.40" y1="273.62" x2="277.00" y2="273.62" stroke="#000" stroke-width="0.6"/>
<line x1="275.40" y1="271.88" x2="277.00" y2="271.88" stroke="#000" stroke-width="0.6"/>
<line x1="275.40" y1="270.41" x2="277.00" y2="270.41" stroke="#000" stroke-width="0.6"/>
<line x1="275.40" y1="269.13" x2="277.00" y2="269.13" stroke="#000" stroke-width="0.6"/>
<line x1="275.40" y1="268.01" x2="277.00" y2="268.01" stroke="#000" stroke-width="0.6"/>
<rect x="274.80" y="302" width="2.2" height="4.2" fill="#000"/>
<line x1="277.00" y1="322.40" x2="277.00" y2="325.40" stroke="#000" stroke-width="0.8"/>
<line x1="280.18" y1="322.40" x2="280.18" y2="324.20" stroke="#000" stroke-width="0.6"/>
<line x1="283.36" y1="322.40" x2="283.36" y2="324.20" stroke="#000" stroke-width="0.6"/>
<line x1="286.54" y1="322.40" x2="286.54" y2="324.20" stroke="#000" stroke-width="0.6"/>
<line x1="289.72" y1="322.40" x2="289.72" y2="324.20" stroke="#000" stroke-width="0.6"/>
<line x1="292.90" y1="322.40" x2="292.90" y2="325.40" stroke="#000" stroke-width="0.8"/>
<line x1="296.08" y1="322.40" x2="296.08" y2="324.20" stroke="#000" stroke-width="0.6"/>
<line x1="299.26" y1="322.40" x2="299.26" y2="324.20" stroke="#000" stroke-width="0.6"/>
<line x1="302.44" y1="322.40" x2="302.44" y2="324.20" stroke="#000" stroke-width="0.6"/>
<line x1="305.62" y1="322.40" x2="305.62" y2="324.20" stroke="#000" stroke-width="0.6"/>
<line x1="308.80" y1="322.40" x2="308.80" y2="325.40" stroke="#000" stroke-width="0.8"/>
<line x1="311.98" y1="322.40" x2="311.98" y2="324.20" stroke="#000" stroke-width="0.6"/>
<line x1="315.16" y1="322.40" x2="315.16" y2="324.20" stroke="#000" stroke-width="0.6"/>
<line x1="318.34" y1="322.40" x2="318.34" y2="324.20" stroke="#000" stroke-width="0.6"/>
<line x1="321.52" y1="322.40" x2="321.52" y2="324.20" stroke="#000" stroke-width="0.6"/>
<line x1="324.70" y1="322.40" x2="324.70" y2="325.40" stroke="#000" stroke-width="0.8"/>
<line x1="327.88" y1="322.40" x2="327.88" y2="324.20" stroke="#000" stroke-width="0.6"/>
<line x1="331.06" y1="322.40" x2="331.06" y2="324.20" stroke="#000" stroke-width="0.6"/>
<line x1="334.24" y1="322.40" x2="334.24" y2="324.20" stroke="#000" stroke-width="0.6"/>
<line x1="337.42" y1="322.40" x2="337.42" y2="324.20" stroke="#000" stroke-width="0.6"/>
<line x1="340.60" y1="322.40" x2="340.60" y2="325.40" stroke="#000" stroke-width="0.8"/>
<line x1="343.78" y1="322.40" x2="343.78" y2="324.20" stroke="#000" stroke-width="0.6"/>
<line x1="346.96" y1="322.40" x2="346.96" y2="324.20" stroke="#000" stroke-width="0.6"/>
<line x1="350.14" y1="322.40" x2="350.14" y2="324.20" stroke="#000" stroke-width="0.6"/>
<line x1="353.32" y1="322.40" x2="353.32" y2="324.20" stroke="#000" stroke-width="0.6"/>
<line x1="356.50" y1="322.40" x2="356.50" y2="325.40" stroke="#000" stroke-width="0.8"/>
<text x="280.50" y="333.20" font-size="7.7" text-anchor="end" stroke="#000" stroke-width="0.15" transform="rotate(-45 280.50 333.20)">0</text>
<text x="296.40" y="333.20" font-size="7.7" text-anchor="end" stroke="#000" stroke-width="0.15" transform="rotate(-45 296.40 333.20)">50K</text>
<text x="312.30" y="333.20" font-size="7.7" text-anchor="end" stroke="#000" stroke-width="0.15" transform="rotate(-45 312.30 333.20)">100K</text>
<text x="328.20" y="333.20" font-size="7.7" text-anchor="end" stroke="#000" stroke-width="0.15" transform="rotate(-45 328.20 333.20)">150K</text>
<text x="344.10" y="333.20" font-size="7.7" text-anchor="end" stroke="#000" stroke-width="0.15" transform="rotate(-45 344.10 333.20)">200K</text>
<text x="360.00" y="333.20" font-size="7.7" text-anchor="end" stroke="#000" stroke-width="0.15" transform="rotate(-45 360.00 333.20)">250K</text>
<text x="433.75" y="234.50" font-size="10" text-anchor="middle" fill="#000" stroke="#000" stroke-width="0.15" textLength="40.5" lengthAdjust="spacingAndGlyphs">Post-filter</text>
<rect x="392.30" y="240.5" width="82.9" height="81.90" fill="none" stroke="#333" stroke-width="1.3"/>
<line x1="413.60" y1="240.50" x2="413.60" y2="322.40" stroke="#666" stroke-width="1.3"/>
<line x1="392.30" y1="257.90" x2="475.20" y2="257.90" stroke="#666" stroke-width="1.3"/>
<text x="393.70" y="248.00" font-size="5.3" text-anchor="start" fill="#333">Q5</text>
<text x="393.70" y="253.70" font-size="5.3" text-anchor="start" fill="#333">0,13</text>
<text x="473.60" y="248.00" font-size="5.3" text-anchor="end" fill="#333">Q6</text>
<text x="473.60" y="253.70" font-size="5.3" text-anchor="end" fill="#333">0,77</text>
<text x="393.70" y="312.60" font-size="5.3" text-anchor="start" fill="#333">Q8</text>
<text x="393.70" y="318.60" font-size="5.3" text-anchor="start" fill="#333">2,35</text>
<text x="473.60" y="312.60" font-size="5.3" text-anchor="end" fill="#333">Q7</text>
<text x="473.60" y="318.60" font-size="5.3" text-anchor="end" fill="#333">96,7</text>
<line x1="389.50" y1="247.50" x2="392.30" y2="247.50" stroke="#000" stroke-width="0.9"/>
<text x="386.30" y="250.30" font-size="8" text-anchor="end" fill="#000" stroke="#000" stroke-width="0.12">10<tspan font-size="4.3" dy="-2.3">5</tspan></text>
<line x1="389.50" y1="267.00" x2="392.30" y2="267.00" stroke="#000" stroke-width="0.9"/>
<text x="386.30" y="269.80" font-size="8" text-anchor="end" fill="#000" stroke="#000" stroke-width="0.12">10<tspan font-size="4.3" dy="-2.3">4</tspan></text>
<line x1="389.50" y1="289.00" x2="392.30" y2="289.00" stroke="#000" stroke-width="0.9"/>
<text x="386.30" y="291.80" font-size="8" text-anchor="end" fill="#000" stroke="#000" stroke-width="0.12">10<tspan font-size="4.3" dy="-2.3">3</tspan></text>
<line x1="389.50" y1="303.00" x2="392.30" y2="303.00" stroke="#000" stroke-width="0.9"/>
<text x="386.30" y="305.80" font-size="8" text-anchor="end" fill="#000" stroke="#000" stroke-width="0.12">0</text>
<line x1="389.50" y1="318.00" x2="392.30" y2="318.00" stroke="#000" stroke-width="0.9"/>
<text x="386.30" y="320.80" font-size="8" text-anchor="end" fill="#000" stroke="#000" stroke-width="0.12">-10<tspan font-size="4.3" dy="-2.3">3</tspan></text>
<line x1="390.70" y1="261.13" x2="392.30" y2="261.13" stroke="#000" stroke-width="0.6"/>
<line x1="390.70" y1="257.70" x2="392.30" y2="257.70" stroke="#000" stroke-width="0.6"/>
<line x1="390.70" y1="255.26" x2="392.30" y2="255.26" stroke="#000" stroke-width="0.6"/>
<line x1="390.70" y1="253.37" x2="392.30" y2="253.37" stroke="#000" stroke-width="0.6"/>
<line x1="390.70" y1="251.83" x2="392.30" y2="251.83" stroke="#000" stroke-width="0.6"/>
<line x1="390.70" y1="250.52" x2="392.30" y2="250.52" stroke="#000" stroke-width="0.6"/>
<line x1="390.70" y1="249.39" x2="392.30" y2="249.39" stroke="#000" stroke-width="0.6"/>
<line x1="390.70" y1="248.39" x2="392.30" y2="248.39" stroke="#000" stroke-width="0.6"/>
<line x1="390.70" y1="282.38" x2="392.30" y2="282.38" stroke="#000" stroke-width="0.6"/>
<line x1="390.70" y1="278.50" x2="392.30" y2="278.50" stroke="#000" stroke-width="0.6"/>
<line x1="390.70" y1="275.75" x2="392.30" y2="275.75" stroke="#000" stroke-width="0.6"/>
<line x1="390.70" y1="273.62" x2="392.30" y2="273.62" stroke="#000" stroke-width="0.6"/>
<line x1="390.70" y1="271.88" x2="392.30" y2="271.88" stroke="#000" stroke-width="0.6"/>
<line x1="390.70" y1="270.41" x2="392.30" y2="270.41" stroke="#000" stroke-width="0.6"/>
<line x1="390.70" y1="269.13" x2="392.30" y2="269.13" stroke="#000" stroke-width="0.6"/>
<line x1="390.70" y1="268.01" x2="392.30" y2="268.01" stroke="#000" stroke-width="0.6"/>
<rect x="390.10" y="302" width="2.2" height="4.2" fill="#000"/>
<line x1="392.30" y1="322.40" x2="392.30" y2="325.40" stroke="#000" stroke-width="0.8"/>
<line x1="395.48" y1="322.40" x2="395.48" y2="324.20" stroke="#000" stroke-width="0.6"/>
<line x1="398.66" y1="322.40" x2="398.66" y2="324.20" stroke="#000" stroke-width="0.6"/>
<line x1="401.84" y1="322.40" x2="401.84" y2="324.20" stroke="#000" stroke-width="0.6"/>
<line x1="405.02" y1="322.40" x2="405.02" y2="324.20" stroke="#000" stroke-width="0.6"/>
<line x1="408.20" y1="322.40" x2="408.20" y2="325.40" stroke="#000" stroke-width="0.8"/>
<line x1="411.38" y1="322.40" x2="411.38" y2="324.20" stroke="#000" stroke-width="0.6"/>
<line x1="414.56" y1="322.40" x2="414.56" y2="324.20" stroke="#000" stroke-width="0.6"/>
<line x1="417.74" y1="322.40" x2="417.74" y2="324.20" stroke="#000" stroke-width="0.6"/>
<line x1="420.92" y1="322.40" x2="420.92" y2="324.20" stroke="#000" stroke-width="0.6"/>
<line x1="424.10" y1="322.40" x2="424.10" y2="325.40" stroke="#000" stroke-width="0.8"/>
<line x1="427.28" y1="322.40" x2="427.28" y2="324.20" stroke="#000" stroke-width="0.6"/>
<line x1="430.46" y1="322.40" x2="430.46" y2="324.20" stroke="#000" stroke-width="0.6"/>
<line x1="433.64" y1="322.40" x2="433.64" y2="324.20" stroke="#000" stroke-width="0.6"/>
<line x1="436.82" y1="322.40" x2="436.82" y2="324.20" stroke="#000" stroke-width="0.6"/>
<line x1="440.00" y1="322.40" x2="440.00" y2="325.40" stroke="#000" stroke-width="0.8"/>
<line x1="443.18" y1="322.40" x2="443.18" y2="324.20" stroke="#000" stroke-width="0.6"/>
<line x1="446.36" y1="322.40" x2="446.36" y2="324.20" stroke="#000" stroke-width="0.6"/>
<line x1="449.54" y1="322.40" x2="449.54" y2="324.20" stroke="#000" stroke-width="0.6"/>
<line x1="452.72" y1="322.40" x2="452.72" y2="324.20" stroke="#000" stroke-width="0.6"/>
<line x1="455.90" y1="322.40" x2="455.90" y2="325.40" stroke="#000" stroke-width="0.8"/>
<line x1="459.08" y1="322.40" x2="459.08" y2="324.20" stroke="#000" stroke-width="0.6"/>
<line x1="462.26" y1="322.40" x2="462.26" y2="324.20" stroke="#000" stroke-width="0.6"/>
<line x1="465.44" y1="322.40" x2="465.44" y2="324.20" stroke="#000" stroke-width="0.6"/>
<line x1="468.62" y1="322.40" x2="468.62" y2="324.20" stroke="#000" stroke-width="0.6"/>
<line x1="471.80" y1="322.40" x2="471.80" y2="325.40" stroke="#000" stroke-width="0.8"/>
<text x="395.80" y="333.20" font-size="7.7" text-anchor="end" stroke="#000" stroke-width="0.15" transform="rotate(-45 395.80 333.20)">0</text>
<text x="411.70" y="333.20" font-size="7.7" text-anchor="end" stroke="#000" stroke-width="0.15" transform="rotate(-45 411.70 333.20)">50K</text>
<text x="427.60" y="333.20" font-size="7.7" text-anchor="end" stroke="#000" stroke-width="0.15" transform="rotate(-45 427.60 333.20)">100K</text>
<text x="443.50" y="333.20" font-size="7.7" text-anchor="end" stroke="#000" stroke-width="0.15" transform="rotate(-45 443.50 333.20)">150K</text>
<text x="459.40" y="333.20" font-size="7.7" text-anchor="end" stroke="#000" stroke-width="0.15" transform="rotate(-45 459.40 333.20)">200K</text>
<text x="475.30" y="333.20" font-size="7.7" text-anchor="end" stroke="#000" stroke-width="0.15" transform="rotate(-45 475.30 333.20)">250K</text>
<line x1="23.00" y1="244.00" x2="23.00" y2="351.00" stroke="#000" stroke-width="1.2"/>
<line x1="22.40" y1="351.00" x2="470.00" y2="351.00" stroke="#000" stroke-width="1.2"/>
<path d="M23,239.5 L20.3,246 L25.7,246 Z" fill="#000"/>
<path d="M476,351 L469.5,348.3 L469.5,353.7 Z" fill="#000"/>
<text x="16.50" y="298.60" font-size="10" text-anchor="middle" fill="#000" stroke="#000" stroke-width="0.3" textLength="49" lengthAdjust="spacingAndGlyphs" transform="rotate(-90 16.50 298.60)">DNA (DRAQ5)</text>
<text x="46.80" y="363.90" font-size="10" text-anchor="start" fill="#000" stroke="#000" stroke-width="0.25" textLength="68.3" lengthAdjust="spacingAndGlyphs">Forward scatter (FSC)</text>
<text x="8.40" y="395.40" font-size="14" text-anchor="start" fill="#000" stroke="#000" stroke-width="0.35" font-weight="bold">D</text>
<text x="130.30" y="394.30" font-size="11" text-anchor="middle" fill="#000" textLength="30.8" lengthAdjust="spacingAndGlyphs">GREX</text>
<text x="322.60" y="394.30" font-size="11" text-anchor="middle" fill="#000" textLength="68.7" lengthAdjust="spacingAndGlyphs">Culture dishes</text>
<text x="466.20" y="394.30" font-size="11" text-anchor="middle" fill="#000" textLength="91" lengthAdjust="spacingAndGlyphs">Native erythrocytes</text>
<text x="32.30" y="447.20" font-size="11" text-anchor="end" fill="#000" textLength="18" lengthAdjust="spacingAndGlyphs">50x</text>
<text x="32.30" y="509.00" font-size="11" text-anchor="end" fill="#000" textLength="24" lengthAdjust="spacingAndGlyphs">100x</text>
<defs>
<clipPath id="mc0"><rect x="37" y="400" width="91.20" height="69.80"/></clipPath>
<clipPath id="mc1"><rect x="131" y="400" width="92.30" height="70.50"/></clipPath>
<clipPath id="mc2"><rect x="37" y="470.9" width="92.40" height="68.40"/></clipPath>
<clipPath id="mc3"><rect x="131" y="471.3" width="92.30" height="68.00"/></clipPath>
<clipPath id="mc4"><rect x="231" y="402" width="93.30" height="69.50"/></clipPath>
<clipPath id="mc5"><rect x="231" y="472" width="93.30" height="65.50"/></clipPath>
<clipPath id="mc6"><rect x="334" y="474" width="80.50" height="64.00"/></clipPath>
<clipPath id="mcN"><rect x="422.6" y="401.4" width="87" height="137.6"/></clipPath>
<clipPath id="mcC"><rect x="334" y="403.5" width="80.5" height="67.5"/></clipPath>
<filter id="bl" x="-5%" y="-5%" width="110%" height="110%"><feGaussianBlur stdDeviation="0.35"/></filter>
</defs>
<rect x="229.5" y="400.3" width="186.4" height="138.8" fill="#fff"/>
<g clip-path="url(#mc0)"><rect x="37" y="400" width="91.20" height="69.80" fill="#f6f6f8"/><g filter="url(#bl)">
<circle cx="57.9" cy="426.4" r="3.20" fill="#c9d2f2" fill-opacity="0.4"/>
<circle cx="65.3" cy="426.4" r="3.20" fill="#c9d2f2" fill-opacity="0.4"/>
<circle cx="59.8" cy="432.8" r="3.20" fill="#c9d2f2" fill-opacity="0.4"/>
<circle cx="76.2" cy="424.6" r="3.20" fill="#c9d2f2" fill-opacity="0.4"/>
<circle cx="89.0" cy="424.6" r="3.20" fill="#c9d2f2" fill-opacity="0.4"/>
<circle cx="96.3" cy="433.7" r="3.20" fill="#c9d2f2" fill-opacity="0.4"/>
<circle cx="100.0" cy="442.9" r="3.20" fill="#c9d2f2" fill-opacity="0.4"/>
<circle cx="118.3" cy="442.9" r="3.20" fill="#c9d2f2" fill-opacity="0.4"/>
<circle cx="121.9" cy="453.8" r="3.20" fill="#c9d2f2" fill-opacity="0.4"/>
<circle cx="83.5" cy="453.8" r="3.20" fill="#c9d2f2" fill-opacity="0.4"/>
<circle cx="52.5" cy="463.0" r="3.20" fill="#c9d2f2" fill-opacity="0.4"/>
<circle cx="72.6" cy="459.3" r="3.20" fill="#c9d2f2" fill-opacity="0.4"/>
<circle cx="81.7" cy="426.4" r="3.20" fill="#c9d2f2" fill-opacity="0.4"/>
<circle cx="47.0" cy="457.5" r="3.20" fill="#c9d2f2" fill-opacity="0.4"/>
<circle cx="79.9" cy="422.8" r="3.20" fill="#c9d2f2" fill-opacity="0.4"/>
<circle cx="120.1" cy="410.0" r="3.20" fill="#c9d2f2" fill-opacity="0.4"/>
<circle cx="59.8" cy="411.8" r="3.20" fill="#c9d2f2" fill-opacity="0.4"/>
<circle cx="50.6" cy="435.6" r="3.20" fill="#c9d2f2" fill-opacity="0.4"/>
<circle cx="38.7" cy="402.7" r="1.75" fill="#974812" fill-opacity="0.95"/>
<circle cx="43.3" cy="401.7" r="1.75" fill="#974812" fill-opacity="0.95"/>
<circle cx="48.8" cy="401.7" r="1.75" fill="#974812" fill-opacity="0.95"/>
<circle cx="54.3" cy="401.2" r="1.75" fill="#974812" fill-opacity="0.95"/>
<circle cx="59.8" cy="401.7" r="1.75" fill="#974812" fill-opacity="0.95"/>
<circle cx="65.3" cy="401.2" r="1.75" fill="#974812" fill-opacity="0.95"/>
<circle cx="75.3" cy="401.7" r="1.75" fill="#974812" fill-opacity="0.95"/>
<circle cx="79.9" cy="401.7" r="1.75" fill="#974812" fill-opacity="0.95"/>
<circle cx="38.7" cy="407.2" r="1.75" fill="#974812" fill-opacity="0.95"/>
<circle cx="44.2" cy="408.1" r="1.75" fill="#974812" fill-opacity="0.95"/>
<circle cx="49.7" cy="407.2" r="1.75" fill="#974812" fill-opacity="0.95"/>
<circle cx="55.2" cy="406.3" r="1.75" fill="#974812" fill-opacity="0.95"/>
<circle cx="56.1" cy="402.7" r="1.75" fill="#974812" fill-opacity="0.95"/>
<circle cx="39.7" cy="411.8" r="1.75" fill="#974812" fill-opacity="0.95"/>
<circle cx="45.1" cy="412.7" r="1.75" fill="#974812" fill-opacity="0.95"/>
<circle cx="50.6" cy="412.7" r="1.75" fill="#974812" fill-opacity="0.95"/>
<circle cx="54.3" cy="410.9" r="1.75" fill="#974812" fill-opacity="0.95"/>
<circle cx="40.6" cy="416.4" r="1.75" fill="#974812" fill-opacity="0.95"/>
<circle cx="46.1" cy="418.2" r="1.75" fill="#974812" fill-opacity="0.95"/>
<circle cx="51.5" cy="417.3" r="1.75" fill="#974812" fill-opacity="0.95"/>
<circle cx="57.9" cy="417.3" r="1.75" fill="#974812" fill-opacity="0.95"/>
<circle cx="62.5" cy="411.8" r="1.75" fill="#974812" fill-opacity="0.95"/>
<circle cx="65.3" cy="415.5" r="1.75" fill="#974812" fill-opacity="0.95"/>
<circle cx="68.0" cy="419.1" r="1.75" fill="#974812" fill-opacity="0.95"/>
<circle cx="65.3" cy="421.9" r="1.75" fill="#974812" fill-opacity="0.95"/>
<circle cx="68.9" cy="422.8" r="1.75" fill="#974812" fill-opacity="0.95"/>
<circle cx="71.6" cy="412.7" r="1.75" fill="#974812" fill-opacity="0.95"/>
<circle cx="75.3" cy="413.6" r="1.75" fill="#974812" fill-opacity="0.95"/>
<circle cx="78.0" cy="416.4" r="1.75" fill="#974812" fill-opacity="0.95"/>
<circle cx="80.8" cy="419.1" r="1.75" fill="#974812" fill-opacity="0.95"/>
<circle cx="84.4" cy="418.2" r="1.75" fill="#974812" fill-opacity="0.95"/>
<circle cx="89.0" cy="413.6" r="1.75" fill="#974812" fill-opacity="0.95"/>
<circle cx="73.5" cy="408.1" r="1.75" fill="#974812" fill-opacity="0.95"/>
<circle cx="50.6" cy="422.8" r="1.75" fill="#974812" fill-opacity="0.95"/>
<circle cx="47.0" cy="424.6" r="1.75" fill="#974812" fill-opacity="0.95"/>
<circle cx="54.3" cy="421.9" r="1.75" fill="#974812" fill-opacity="0.95"/>
<circle cx="61.6" cy="422.8" r="1.75" fill="#974812" fill-opacity="0.95"/>
<circle cx="38.7" cy="426.4" r="1.75" fill="#974812" fill-opacity="0.95"/>
<circle cx="74.4" cy="432.8" r="1.75" fill="#974812" fill-opacity="0.95"/>
<circle cx="80.8" cy="431.9" r="1.75" fill="#974812" fill-opacity="0.95"/>
<circle cx="85.4" cy="437.4" r="1.75" fill="#974812" fill-opacity="0.95"/>
<circle cx="89.0" cy="438.3" r="1.75" fill="#974812" fill-opacity="0.95"/>
<circle cx="92.7" cy="438.3" r="1.75" fill="#974812" fill-opacity="0.95"/>
<circle cx="97.2" cy="438.3" r="1.75" fill="#974812" fill-opacity="0.95"/>
<circle cx="90.8" cy="431.0" r="1.75" fill="#974812" fill-opacity="0.95"/>
<circle cx="72.6" cy="438.3" r="1.75" fill="#974812" fill-opacity="0.95"/>
<circle cx="55.2" cy="437.4" r="1.75" fill="#974812" fill-opacity="0.95"/>
<circle cx="57.0" cy="436.5" r="1.75" fill="#974812" fill-opacity="0.95"/>
<circle cx="47.9" cy="446.5" r="1.75" fill="#974812" fill-opacity="0.95"/>
<circle cx="47.0" cy="452.0" r="1.75" fill="#974812" fill-opacity="0.95"/>
<circle cx="59.8" cy="447.4" r="1.75" fill="#974812" fill-opacity="0.95"/>
<circle cx="61.6" cy="452.9" r="1.75" fill="#974812" fill-opacity="0.95"/>
<circle cx="68.9" cy="446.5" r="1.75" fill="#974812" fill-opacity="0.95"/>
<circle cx="59.8" cy="459.3" r="1.75" fill="#974812" fill-opacity="0.95"/>
<circle cx="57.0" cy="464.8" r="1.75" fill="#974812" fill-opacity="0.95"/>
<circle cx="72.6" cy="465.7" r="1.75" fill="#974812" fill-opacity="0.95"/>
<circle cx="75.3" cy="467.6" r="1.75" fill="#974812" fill-opacity="0.95"/>
<circle cx="102.7" cy="412.7" r="1.75" fill="#974812" fill-opacity="0.95"/>
<circle cx="106.4" cy="413.6" r="1.75" fill="#974812" fill-opacity="0.95"/>
<circle cx="109.1" cy="408.1" r="1.75" fill="#974812" fill-opacity="0.95"/>
<circle cx="108.2" cy="412.7" r="1.75" fill="#974812" fill-opacity="0.95"/>
<circle cx="112.8" cy="411.8" r="1.75" fill="#974812" fill-opacity="0.95"/>
<circle cx="116.4" cy="417.3" r="1.75" fill="#974812" fill-opacity="0.95"/>
<circle cx="120.1" cy="422.8" r="1.75" fill="#974812" fill-opacity="0.95"/>
<circle cx="99.1" cy="417.3" r="1.75" fill="#974812" fill-opacity="0.95"/>
<circle cx="100.9" cy="427.3" r="1.75" fill="#974812" fill-opacity="0.95"/>
<circle cx="110.0" cy="426.4" r="1.75" fill="#974812" fill-opacity="0.95"/>
<circle cx="107.3" cy="434.6" r="1.75" fill="#974812" fill-opacity="0.95"/>
<circle cx="111.0" cy="437.4" r="1.75" fill="#974812" fill-opacity="0.95"/>
<circle cx="116.4" cy="435.6" r="1.75" fill="#974812" fill-opacity="0.95"/>
<circle cx="119.2" cy="433.7" r="1.75" fill="#974812" fill-opacity="0.95"/>
<circle cx="121.9" cy="431.9" r="1.75" fill="#974812" fill-opacity="0.95"/>
<circle cx="109.1" cy="442.9" r="1.75" fill="#974812" fill-opacity="0.95"/>
<circle cx="108.2" cy="447.4" r="1.75" fill="#974812" fill-opacity="0.95"/>
<circle cx="112.8" cy="448.4" r="1.75" fill="#974812" fill-opacity="0.95"/>
<circle cx="115.5" cy="452.0" r="1.75" fill="#974812" fill-opacity="0.95"/>
<circle cx="112.8" cy="453.8" r="1.75" fill="#974812" fill-opacity="0.95"/>
<circle cx="127.4" cy="445.6" r="1.75" fill="#974812" fill-opacity="0.95"/>
<circle cx="126.5" cy="458.4" r="1.75" fill="#974812" fill-opacity="0.95"/>
<circle cx="90.8" cy="462.1" r="1.75" fill="#974812" fill-opacity="0.95"/>
<circle cx="94.5" cy="463.0" r="1.75" fill="#974812" fill-opacity="0.95"/>
<circle cx="97.2" cy="465.7" r="1.75" fill="#974812" fill-opacity="0.95"/>
<circle cx="100.0" cy="463.9" r="1.75" fill="#974812" fill-opacity="0.95"/>
<circle cx="102.7" cy="461.2" r="1.75" fill="#974812" fill-opacity="0.95"/>
<circle cx="105.5" cy="463.0" r="1.75" fill="#974812" fill-opacity="0.95"/>
<circle cx="110.0" cy="465.7" r="1.75" fill="#974812" fill-opacity="0.95"/>
<circle cx="113.7" cy="462.1" r="1.75" fill="#974812" fill-opacity="0.95"/>
<circle cx="92.7" cy="467.6" r="1.75" fill="#974812" fill-opacity="0.95"/>
<circle cx="57.9" cy="406.7" r="1.75" fill="#974812" fill-opacity="0.95"/>
<circle cx="52.5" cy="404.5" r="1.75" fill="#974812" fill-opacity="0.95"/>
<circle cx="41.5" cy="420.9" r="1.75" fill="#974812" fill-opacity="0.95"/>
<circle cx="68.0" cy="416.4" r="1.75" fill="#974812" fill-opacity="0.95"/>
<circle cx="70.7" cy="420.9" r="1.75" fill="#974812" fill-opacity="0.95"/>
<circle cx="43.3" cy="426.4" r="1.60" fill="#3a2038" fill-opacity="0.92"/>
<circle cx="47.0" cy="432.8" r="1.60" fill="#3a2038" fill-opacity="0.92"/>
<circle cx="49.7" cy="428.3" r="1.60" fill="#3a2038" fill-opacity="0.92"/>
<circle cx="42.4" cy="428.3" r="1.60" fill="#3a2038" fill-opacity="0.92"/>
<circle cx="38.7" cy="421.9" r="1.60" fill="#3a2038" fill-opacity="0.92"/>
<circle cx="101.8" cy="432.8" r="1.60" fill="#3a2038" fill-opacity="0.92"/>
<circle cx="121.9" cy="444.7" r="1.60" fill="#3a2038" fill-opacity="0.92"/>
<circle cx="125.6" cy="446.5" r="1.60" fill="#3a2038" fill-opacity="0.92"/>
<circle cx="59.8" cy="457.5" r="1.60" fill="#3a2038" fill-opacity="0.92"/>
<circle cx="52.5" cy="463.0" r="1.60" fill="#3a2038" fill-opacity="0.92"/>
<circle cx="111.9" cy="464.8" r="1.60" fill="#3a2038" fill-opacity="0.92"/>
<circle cx="99.1" cy="466.6" r="1.60" fill="#3a2038" fill-opacity="0.92"/>
<circle cx="65.3" cy="468.5" r="1.60" fill="#3a2038" fill-opacity="0.92"/>
<circle cx="106.4" cy="417.3" r="1.60" fill="#3a2038" fill-opacity="0.92"/>
<circle cx="100.0" cy="415.5" r="1.60" fill="#3a2038" fill-opacity="0.92"/>
<circle cx="94.5" cy="462.1" r="1.60" fill="#3a2038" fill-opacity="0.92"/>
<circle cx="114.6" cy="418.2" r="1.60" fill="#3a2038" fill-opacity="0.92"/>
<circle cx="38.7" cy="449.3" r="1.60" fill="#283070" fill-opacity="0.9"/>
<circle cx="57.0" cy="448.4" r="1.60" fill="#283070" fill-opacity="0.9"/>
<circle cx="58.9" cy="453.8" r="1.60" fill="#283070" fill-opacity="0.9"/>
<circle cx="68.9" cy="444.7" r="1.60" fill="#283070" fill-opacity="0.9"/>
<circle cx="107.3" cy="441.0" r="1.60" fill="#283070" fill-opacity="0.9"/>
<circle cx="108.2" cy="447.4" r="1.60" fill="#283070" fill-opacity="0.9"/>
<circle cx="114.6" cy="447.4" r="1.60" fill="#283070" fill-opacity="0.9"/>
<circle cx="116.4" cy="452.0" r="1.60" fill="#283070" fill-opacity="0.9"/>
<circle cx="92.7" cy="459.3" r="1.60" fill="#283070" fill-opacity="0.9"/>
<circle cx="95.4" cy="462.1" r="1.60" fill="#283070" fill-opacity="0.9"/>
<circle cx="98.2" cy="463.9" r="1.60" fill="#283070" fill-opacity="0.9"/>
<circle cx="100.9" cy="460.2" r="1.60" fill="#283070" fill-opacity="0.9"/>
<circle cx="94.5" cy="464.8" r="1.60" fill="#283070" fill-opacity="0.9"/>
<circle cx="74.4" cy="466.6" r="1.60" fill="#283070" fill-opacity="0.9"/>
<circle cx="76.2" cy="465.7" r="1.60" fill="#283070" fill-opacity="0.9"/>
<circle cx="98.2" cy="436.5" r="1.60" fill="#283070" fill-opacity="0.9"/>
<circle cx="85.4" cy="437.4" r="1.60" fill="#283070" fill-opacity="0.9"/>
<circle cx="63.4" cy="433.7" r="1.60" fill="#283070" fill-opacity="0.9"/>
<circle cx="57.9" cy="468.5" r="1.60" fill="#283070" fill-opacity="0.9"/>
<circle cx="44.2" cy="468.5" r="1.60" fill="#283070" fill-opacity="0.9"/>
<circle cx="47.0" cy="453.8" r="1.60" fill="#283070" fill-opacity="0.9"/>
<circle cx="109.1" cy="414.5" r="1.60" fill="#283070" fill-opacity="0.9"/>
<circle cx="116.4" cy="416.4" r="1.60" fill="#283070" fill-opacity="0.9"/>
<circle cx="101.8" cy="415.5" r="1.60" fill="#283070" fill-opacity="0.9"/>
<circle cx="93.6" cy="419.1" r="1.60" fill="#283070" fill-opacity="0.9"/>
<circle cx="68.0" cy="420.9" r="1.60" fill="#283070" fill-opacity="0.9"/>
<circle cx="45.1" cy="427.3" r="1.60" fill="#283070" fill-opacity="0.9"/>
<circle cx="40.6" cy="426.4" r="1.60" fill="#283070" fill-opacity="0.9"/>
<circle cx="51.5" cy="428.3" r="1.60" fill="#283070" fill-opacity="0.9"/>
<circle cx="111.9" cy="441.0" r="1.60" fill="#283070" fill-opacity="0.9"/>
<circle cx="102.7" cy="432.8" r="1.60" fill="#283070" fill-opacity="0.9"/>
<circle cx="120.1" cy="421.9" r="1.60" fill="#283070" fill-opacity="0.9"/>
<circle cx="79.9" cy="418.2" r="1.60" fill="#283070" fill-opacity="0.9"/>
<circle cx="85.4" cy="419.1" r="1.60" fill="#283070" fill-opacity="0.9"/>
<circle cx="89.9" cy="421.9" r="1.60" fill="#283070" fill-opacity="0.9"/>
<circle cx="101.8" cy="410.0" r="1.50" fill="#2a48b8" fill-opacity="0.92"/>
<circle cx="100.9" cy="417.3" r="1.50" fill="#2a48b8" fill-opacity="0.92"/>
<circle cx="116.4" cy="410.9" r="1.50" fill="#2a48b8" fill-opacity="0.92"/>
<circle cx="121.9" cy="417.3" r="1.50" fill="#2a48b8" fill-opacity="0.92"/>
<circle cx="125.6" cy="402.7" r="1.50" fill="#2a48b8" fill-opacity="0.92"/>
<circle cx="109.1" cy="417.3" r="1.50" fill="#2a48b8" fill-opacity="0.92"/>
<circle cx="90.8" cy="419.1" r="1.50" fill="#2a48b8" fill-opacity="0.92"/>
<circle cx="92.7" cy="422.8" r="1.50" fill="#2a48b8" fill-opacity="0.92"/>
<circle cx="85.4" cy="420.9" r="1.50" fill="#2a48b8" fill-opacity="0.92"/>
<circle cx="81.7" cy="434.6" r="1.50" fill="#2a48b8" fill-opacity="0.92"/>
<circle cx="85.4" cy="435.6" r="1.50" fill="#2a48b8" fill-opacity="0.92"/>
<circle cx="105.5" cy="441.0" r="1.50" fill="#2a48b8" fill-opacity="0.92"/>
<circle cx="107.3" cy="443.8" r="1.50" fill="#2a48b8" fill-opacity="0.92"/>
<circle cx="114.6" cy="447.4" r="1.50" fill="#2a48b8" fill-opacity="0.92"/>
<circle cx="116.4" cy="445.6" r="1.50" fill="#2a48b8" fill-opacity="0.92"/>
<circle cx="39.7" cy="448.4" r="1.50" fill="#2a48b8" fill-opacity="0.92"/>
<circle cx="41.5" cy="450.2" r="1.50" fill="#2a48b8" fill-opacity="0.92"/>
<circle cx="56.1" cy="449.3" r="1.50" fill="#2a48b8" fill-opacity="0.92"/>
<circle cx="58.9" cy="450.2" r="1.50" fill="#2a48b8" fill-opacity="0.92"/>
<circle cx="59.8" cy="453.8" r="1.50" fill="#2a48b8" fill-opacity="0.92"/>
<circle cx="68.9" cy="444.7" r="1.50" fill="#2a48b8" fill-opacity="0.92"/>
<circle cx="64.3" cy="434.6" r="1.50" fill="#2a48b8" fill-opacity="0.92"/>
<circle cx="94.5" cy="459.3" r="1.50" fill="#2a48b8" fill-opacity="0.92"/>
<circle cx="96.3" cy="462.1" r="1.50" fill="#2a48b8" fill-opacity="0.92"/>
<circle cx="100.0" cy="465.7" r="1.50" fill="#2a48b8" fill-opacity="0.92"/>
<circle cx="43.3" cy="468.5" r="1.50" fill="#2a48b8" fill-opacity="0.92"/>
<circle cx="94.5" cy="426.4" r="1.50" fill="#2a48b8" fill-opacity="0.92"/>
<circle cx="121.9" cy="425.5" r="1.50" fill="#2a48b8" fill-opacity="0.92"/>
<circle cx="72.6" cy="464.8" r="1.50" fill="#2a48b8" fill-opacity="0.92"/>
<circle cx="76.2" cy="466.6" r="1.50" fill="#2a48b8" fill-opacity="0.92"/>
<circle cx="56.1" cy="468.5" r="1.50" fill="#2a48b8" fill-opacity="0.92"/>
<circle cx="47.0" cy="455.7" r="1.50" fill="#2a48b8" fill-opacity="0.92"/>
<circle cx="44.2" cy="424.6" r="1.50" fill="#2a48b8" fill-opacity="0.92"/>
<circle cx="67.1" cy="420.9" r="1.50" fill="#2a48b8" fill-opacity="0.92"/>
<circle cx="90.8" cy="469.4" r="1.50" fill="#2a48b8" fill-opacity="0.92"/>
<circle cx="117.4" cy="438.3" r="1.50" fill="#2a48b8" fill-opacity="0.92"/>
<circle cx="104.6" cy="442.9" r="1.50" fill="#2a48b8" fill-opacity="0.92"/>
</g></g>
<g clip-path="url(#mc1)"><rect x="131" y="400" width="92.30" height="70.50" fill="#ffffff"/><g filter="url(#bl)">
<circle cx="145.5" cy="408.1" r="1.45" fill="#b07898" fill-opacity="0.85"/>
<circle cx="148.3" cy="411.8" r="1.45" fill="#b07898" fill-opacity="0.85"/>
<circle cx="152.9" cy="410.9" r="1.45" fill="#b07898" fill-opacity="0.85"/>
<circle cx="151.9" cy="415.5" r="1.45" fill="#b07898" fill-opacity="0.85"/>
<circle cx="157.4" cy="414.5" r="1.45" fill="#b07898" fill-opacity="0.85"/>
<circle cx="154.7" cy="417.3" r="1.45" fill="#b07898" fill-opacity="0.85"/>
<circle cx="204.0" cy="442.0" r="1.45" fill="#b07898" fill-opacity="0.85"/>
<circle cx="206.8" cy="444.7" r="1.45" fill="#b07898" fill-opacity="0.85"/>
<circle cx="207.7" cy="447.4" r="1.45" fill="#b07898" fill-opacity="0.85"/>
<circle cx="193.1" cy="452.0" r="1.45" fill="#b07898" fill-opacity="0.85"/>
<circle cx="199.5" cy="452.9" r="1.45" fill="#b07898" fill-opacity="0.85"/>
<circle cx="201.3" cy="455.7" r="1.45" fill="#b07898" fill-opacity="0.85"/>
<circle cx="198.6" cy="456.6" r="1.45" fill="#b07898" fill-opacity="0.85"/>
<circle cx="204.0" cy="452.0" r="1.45" fill="#b07898" fill-opacity="0.85"/>
<circle cx="150.1" cy="449.8" r="1.45" fill="#b07898" fill-opacity="0.85"/>
<circle cx="160.2" cy="454.8" r="1.45" fill="#b07898" fill-opacity="0.85"/>
<circle cx="177.5" cy="464.8" r="1.45" fill="#b07898" fill-opacity="0.85"/>
<circle cx="180.3" cy="464.8" r="1.45" fill="#b07898" fill-opacity="0.85"/>
<circle cx="187.6" cy="463.9" r="1.45" fill="#b07898" fill-opacity="0.85"/>
<circle cx="191.2" cy="463.9" r="1.45" fill="#b07898" fill-opacity="0.85"/>
<circle cx="194.0" cy="463.9" r="1.45" fill="#b07898" fill-opacity="0.85"/>
<circle cx="189.4" cy="468.5" r="1.45" fill="#b07898" fill-opacity="0.85"/>
<circle cx="185.8" cy="469.4" r="1.45" fill="#b07898" fill-opacity="0.85"/>
<circle cx="196.7" cy="468.5" r="1.45" fill="#b07898" fill-opacity="0.85"/>
<circle cx="172.0" cy="399.9" r="1.45" fill="#b07898" fill-opacity="0.85"/>
<circle cx="182.1" cy="401.2" r="1.45" fill="#b07898" fill-opacity="0.85"/>
<circle cx="162.9" cy="418.2" r="1.75" fill="#bd7a4c" fill-opacity="0.92"/>
<circle cx="166.6" cy="419.1" r="1.75" fill="#bd7a4c" fill-opacity="0.92"/>
<circle cx="159.3" cy="421.9" r="1.75" fill="#bd7a4c" fill-opacity="0.92"/>
<circle cx="162.0" cy="422.8" r="1.75" fill="#bd7a4c" fill-opacity="0.92"/>
<circle cx="157.4" cy="423.7" r="1.75" fill="#bd7a4c" fill-opacity="0.92"/>
<circle cx="170.2" cy="421.9" r="1.75" fill="#bd7a4c" fill-opacity="0.92"/>
<circle cx="173.9" cy="421.9" r="1.75" fill="#bd7a4c" fill-opacity="0.92"/>
<circle cx="177.5" cy="422.8" r="1.75" fill="#bd7a4c" fill-opacity="0.92"/>
<circle cx="165.6" cy="427.3" r="1.75" fill="#bd7a4c" fill-opacity="0.92"/>
<circle cx="168.4" cy="428.3" r="1.75" fill="#bd7a4c" fill-opacity="0.92"/>
<circle cx="172.0" cy="426.4" r="1.75" fill="#bd7a4c" fill-opacity="0.92"/>
<circle cx="175.7" cy="425.5" r="1.75" fill="#bd7a4c" fill-opacity="0.92"/>
<circle cx="181.2" cy="426.4" r="1.75" fill="#bd7a4c" fill-opacity="0.92"/>
<circle cx="161.1" cy="428.3" r="1.75" fill="#bd7a4c" fill-opacity="0.92"/>
<circle cx="167.5" cy="431.9" r="1.75" fill="#bd7a4c" fill-opacity="0.92"/>
<circle cx="171.1" cy="431.0" r="1.75" fill="#bd7a4c" fill-opacity="0.92"/>
<circle cx="174.8" cy="429.2" r="1.75" fill="#bd7a4c" fill-opacity="0.92"/>
<circle cx="178.4" cy="429.2" r="1.75" fill="#bd7a4c" fill-opacity="0.92"/>
<circle cx="183.0" cy="430.1" r="1.75" fill="#bd7a4c" fill-opacity="0.92"/>
<circle cx="174.8" cy="432.8" r="1.75" fill="#bd7a4c" fill-opacity="0.92"/>
<circle cx="178.4" cy="432.8" r="1.75" fill="#bd7a4c" fill-opacity="0.92"/>
<circle cx="181.2" cy="434.6" r="1.75" fill="#bd7a4c" fill-opacity="0.92"/>
<circle cx="186.7" cy="431.9" r="1.75" fill="#bd7a4c" fill-opacity="0.92"/>
<circle cx="188.5" cy="434.6" r="1.75" fill="#bd7a4c" fill-opacity="0.92"/>
<circle cx="184.8" cy="436.5" r="1.75" fill="#bd7a4c" fill-opacity="0.92"/>
<circle cx="172.0" cy="435.6" r="1.75" fill="#bd7a4c" fill-opacity="0.92"/>
<circle cx="168.4" cy="434.6" r="1.75" fill="#bd7a4c" fill-opacity="0.92"/>
<circle cx="159.3" cy="432.8" r="1.75" fill="#bd7a4c" fill-opacity="0.92"/>
<circle cx="179.4" cy="437.4" r="1.75" fill="#bd7a4c" fill-opacity="0.92"/>
<circle cx="179.4" cy="441.0" r="1.75" fill="#bd7a4c" fill-opacity="0.92"/>
<circle cx="190.3" cy="437.4" r="1.75" fill="#bd7a4c" fill-opacity="0.92"/>
<circle cx="193.1" cy="436.5" r="1.75" fill="#bd7a4c" fill-opacity="0.92"/>
<circle cx="195.8" cy="435.6" r="1.75" fill="#bd7a4c" fill-opacity="0.92"/>
<circle cx="192.2" cy="439.2" r="1.75" fill="#bd7a4c" fill-opacity="0.92"/>
<circle cx="194.9" cy="440.1" r="1.75" fill="#bd7a4c" fill-opacity="0.92"/>
<circle cx="198.6" cy="440.1" r="1.75" fill="#bd7a4c" fill-opacity="0.92"/>
<circle cx="200.4" cy="442.9" r="1.75" fill="#bd7a4c" fill-opacity="0.92"/>
<circle cx="196.7" cy="442.9" r="1.75" fill="#bd7a4c" fill-opacity="0.92"/>
<circle cx="189.4" cy="443.8" r="1.75" fill="#bd7a4c" fill-opacity="0.92"/>
<circle cx="185.8" cy="446.5" r="1.75" fill="#bd7a4c" fill-opacity="0.92"/>
<circle cx="186.7" cy="448.4" r="1.75" fill="#bd7a4c" fill-opacity="0.92"/>
<circle cx="190.3" cy="444.7" r="1.75" fill="#bd7a4c" fill-opacity="0.92"/>
<circle cx="166.6" cy="442.9" r="1.75" fill="#bd7a4c" fill-opacity="0.92"/>
<circle cx="164.7" cy="423.7" r="1.75" fill="#bd7a4c" fill-opacity="0.92"/>
<circle cx="173.0" cy="424.6" r="1.75" fill="#bd7a4c" fill-opacity="0.92"/>
<circle cx="176.6" cy="427.3" r="1.75" fill="#bd7a4c" fill-opacity="0.92"/>
<circle cx="169.3" cy="424.6" r="1.75" fill="#bd7a4c" fill-opacity="0.92"/>
</g></g>
<g clip-path="url(#mc2)"><rect x="37" y="470.9" width="92.40" height="68.40" fill="#f3f3f6"/><g filter="url(#bl)">
<circle cx="85.4" cy="498.3" r="3.00" fill="#c6c4ec" fill-opacity="0.4"/>
<circle cx="71.6" cy="501.0" r="3.00" fill="#c6c4ec" fill-opacity="0.4"/>
<circle cx="68.9" cy="484.5" r="3.00" fill="#c6c4ec" fill-opacity="0.4"/>
<circle cx="72.6" cy="487.3" r="3.00" fill="#c6c4ec" fill-opacity="0.4"/>
<circle cx="78.0" cy="488.2" r="3.00" fill="#c6c4ec" fill-opacity="0.4"/>
<circle cx="47.0" cy="534.8" r="3.00" fill="#c6c4ec" fill-opacity="0.4"/>
<circle cx="51.5" cy="535.2" r="3.00" fill="#c6c4ec" fill-opacity="0.4"/>
<circle cx="56.1" cy="537.0" r="3.00" fill="#c6c4ec" fill-opacity="0.4"/>
<circle cx="38.7" cy="523.8" r="3.00" fill="#c6c4ec" fill-opacity="0.4"/>
<circle cx="121.9" cy="492.8" r="3.00" fill="#c6c4ec" fill-opacity="0.4"/>
<circle cx="81.7" cy="503.7" r="3.00" fill="#c6c4ec" fill-opacity="0.4"/>
<circle cx="89.0" cy="505.6" r="3.00" fill="#c6c4ec" fill-opacity="0.4"/>
<circle cx="87.2" cy="509.2" r="3.00" fill="#c6c4ec" fill-opacity="0.4"/>
<circle cx="79.9" cy="483.6" r="3.00" fill="#c6c4ec" fill-opacity="0.4"/>
<circle cx="55.2" cy="485.5" r="3.50" fill="#9e541c" fill-opacity="0.95"/>
<circle cx="77.1" cy="479.1" r="3.50" fill="#9e541c" fill-opacity="0.95"/>
<circle cx="89.0" cy="482.7" r="3.50" fill="#9e541c" fill-opacity="0.95"/>
<circle cx="89.0" cy="488.2" r="3.50" fill="#9e541c" fill-opacity="0.95"/>
<circle cx="87.2" cy="492.8" r="3.50" fill="#9e541c" fill-opacity="0.95"/>
<circle cx="92.7" cy="495.5" r="3.50" fill="#9e541c" fill-opacity="0.95"/>
<circle cx="93.6" cy="500.4" r="3.50" fill="#9e541c" fill-opacity="0.95"/>
<circle cx="57.9" cy="496.4" r="3.50" fill="#9e541c" fill-opacity="0.95"/>
<circle cx="75.3" cy="508.3" r="3.50" fill="#9e541c" fill-opacity="0.95"/>
<circle cx="59.8" cy="511.0" r="3.50" fill="#9e541c" fill-opacity="0.95"/>
<circle cx="97.2" cy="514.7" r="3.50" fill="#9e541c" fill-opacity="0.95"/>
<circle cx="99.1" cy="523.8" r="3.50" fill="#9e541c" fill-opacity="0.95"/>
<circle cx="94.5" cy="530.2" r="3.50" fill="#9e541c" fill-opacity="0.95"/>
<circle cx="101.8" cy="530.2" r="3.50" fill="#9e541c" fill-opacity="0.95"/>
<circle cx="115.5" cy="536.6" r="3.50" fill="#9e541c" fill-opacity="0.95"/>
<circle cx="101.8" cy="473.6" r="3.50" fill="#9e541c" fill-opacity="0.95"/>
<circle cx="109.1" cy="477.2" r="3.50" fill="#9e541c" fill-opacity="0.95"/>
<circle cx="98.2" cy="540.3" r="3.50" fill="#9e541c" fill-opacity="0.95"/>
<circle cx="65.3" cy="477.2" r="3.20" fill="#b48468" fill-opacity="0.9"/>
<circle cx="95.4" cy="485.5" r="3.20" fill="#b48468" fill-opacity="0.9"/>
<circle cx="102.7" cy="521.1" r="3.20" fill="#b48468" fill-opacity="0.9"/>
<circle cx="58.9" cy="525.7" r="3.20" fill="#b48468" fill-opacity="0.9"/>
<circle cx="64.3" cy="486.4" r="2.10" fill="#3040b8" fill-opacity="0.92"/>
<circle cx="73.5" cy="480.9" r="2.10" fill="#3040b8" fill-opacity="0.92"/>
<circle cx="62.5" cy="505.6" r="2.10" fill="#3040b8" fill-opacity="0.92"/>
<circle cx="89.9" cy="522.4" r="2.10" fill="#3040b8" fill-opacity="0.92"/>
<circle cx="92.7" cy="525.3" r="2.10" fill="#3040b8" fill-opacity="0.92"/>
<circle cx="107.3" cy="475.4" r="2.10" fill="#3040b8" fill-opacity="0.92"/>
<circle cx="54.3" cy="496.4" r="2.10" fill="#3040b8" fill-opacity="0.92"/>
<circle cx="128.3" cy="483.6" r="2.10" fill="#3040b8" fill-opacity="0.92"/>
<circle cx="78.0" cy="480.0" r="2.10" fill="#3040b8" fill-opacity="0.92"/>
<circle cx="84.4" cy="498.3" r="2.20" fill="#7040a0" fill-opacity="0.6"/>
<circle cx="56.1" cy="538.5" r="2.20" fill="#7040a0" fill-opacity="0.6"/>
</g></g>
<g clip-path="url(#mc3)"><rect x="131" y="471.3" width="92.30" height="68.00" fill="#ffffff"/><g filter="url(#bl)">
<circle cx="142.8" cy="472.7" r="3.15" fill="#9e6e7a" fill-opacity="0.95"/>
<circle cx="141.9" cy="476.3" r="3.15" fill="#9e6e7a" fill-opacity="0.95"/>
<circle cx="147.9" cy="476.3" r="3.15" fill="#9e6e7a" fill-opacity="0.95"/>
<circle cx="173.9" cy="475.4" r="3.15" fill="#9e6e7a" fill-opacity="0.95"/>
<circle cx="187.6" cy="476.7" r="3.15" fill="#9e6e7a" fill-opacity="0.95"/>
<circle cx="168.4" cy="482.7" r="3.15" fill="#9e6e7a" fill-opacity="0.95"/>
<circle cx="173.9" cy="485.1" r="3.15" fill="#9e6e7a" fill-opacity="0.95"/>
<circle cx="178.4" cy="481.4" r="3.15" fill="#9e6e7a" fill-opacity="0.95"/>
<circle cx="184.8" cy="482.2" r="3.15" fill="#9e6e7a" fill-opacity="0.95"/>
<circle cx="177.5" cy="487.3" r="3.15" fill="#9e6e7a" fill-opacity="0.95"/>
<circle cx="170.2" cy="490.0" r="3.15" fill="#9e6e7a" fill-opacity="0.95"/>
<circle cx="175.7" cy="491.9" r="3.15" fill="#9e6e7a" fill-opacity="0.95"/>
<circle cx="182.1" cy="490.9" r="3.15" fill="#9e6e7a" fill-opacity="0.95"/>
<circle cx="191.2" cy="484.5" r="3.15" fill="#9e6e7a" fill-opacity="0.95"/>
<circle cx="190.3" cy="489.1" r="3.15" fill="#9e6e7a" fill-opacity="0.95"/>
<circle cx="196.7" cy="488.2" r="3.15" fill="#9e6e7a" fill-opacity="0.95"/>
<circle cx="163.8" cy="494.2" r="3.15" fill="#9e6e7a" fill-opacity="0.95"/>
<circle cx="170.2" cy="497.3" r="3.15" fill="#9e6e7a" fill-opacity="0.95"/>
<circle cx="175.7" cy="500.1" r="3.15" fill="#9e6e7a" fill-opacity="0.95"/>
<circle cx="179.4" cy="497.3" r="3.15" fill="#9e6e7a" fill-opacity="0.95"/>
<circle cx="183.9" cy="496.4" r="3.15" fill="#9e6e7a" fill-opacity="0.95"/>
<circle cx="193.1" cy="493.7" r="3.15" fill="#9e6e7a" fill-opacity="0.95"/>
<circle cx="199.5" cy="493.7" r="3.15" fill="#9e6e7a" fill-opacity="0.95"/>
<circle cx="205.9" cy="496.1" r="3.15" fill="#9e6e7a" fill-opacity="0.95"/>
<circle cx="155.6" cy="499.2" r="3.15" fill="#9e6e7a" fill-opacity="0.95"/>
<circle cx="162.0" cy="502.8" r="3.15" fill="#9e6e7a" fill-opacity="0.95"/>
<circle cx="166.6" cy="505.6" r="3.15" fill="#9e6e7a" fill-opacity="0.95"/>
<circle cx="174.8" cy="501.0" r="3.15" fill="#9e6e7a" fill-opacity="0.95"/>
<circle cx="182.1" cy="501.9" r="3.15" fill="#9e6e7a" fill-opacity="0.95"/>
<circle cx="187.6" cy="502.8" r="3.15" fill="#9e6e7a" fill-opacity="0.95"/>
<circle cx="196.7" cy="500.1" r="3.15" fill="#9e6e7a" fill-opacity="0.95"/>
<circle cx="203.1" cy="501.0" r="3.15" fill="#9e6e7a" fill-opacity="0.95"/>
<circle cx="208.6" cy="504.6" r="3.15" fill="#9e6e7a" fill-opacity="0.95"/>
<circle cx="214.1" cy="503.7" r="3.15" fill="#9e6e7a" fill-opacity="0.95"/>
<circle cx="177.5" cy="505.6" r="3.15" fill="#9e6e7a" fill-opacity="0.95"/>
<circle cx="183.0" cy="507.4" r="3.15" fill="#9e6e7a" fill-opacity="0.95"/>
<circle cx="191.2" cy="506.5" r="3.15" fill="#9e6e7a" fill-opacity="0.95"/>
<circle cx="173.9" cy="510.1" r="3.15" fill="#9e6e7a" fill-opacity="0.95"/>
<circle cx="180.3" cy="512.0" r="3.15" fill="#9e6e7a" fill-opacity="0.95"/>
<circle cx="187.6" cy="510.1" r="3.15" fill="#9e6e7a" fill-opacity="0.95"/>
<circle cx="192.2" cy="513.8" r="3.15" fill="#9e6e7a" fill-opacity="0.95"/>
<circle cx="197.6" cy="510.1" r="3.15" fill="#9e6e7a" fill-opacity="0.95"/>
<circle cx="205.0" cy="515.6" r="3.15" fill="#9e6e7a" fill-opacity="0.95"/>
<circle cx="210.4" cy="512.9" r="3.15" fill="#9e6e7a" fill-opacity="0.95"/>
<circle cx="215.0" cy="510.1" r="3.15" fill="#9e6e7a" fill-opacity="0.95"/>
<circle cx="216.8" cy="516.5" r="3.15" fill="#9e6e7a" fill-opacity="0.95"/>
<circle cx="210.4" cy="518.4" r="3.15" fill="#9e6e7a" fill-opacity="0.95"/>
<circle cx="174.8" cy="517.4" r="3.15" fill="#9e6e7a" fill-opacity="0.95"/>
<circle cx="183.0" cy="521.1" r="3.15" fill="#9e6e7a" fill-opacity="0.95"/>
<circle cx="190.3" cy="522.9" r="3.15" fill="#9e6e7a" fill-opacity="0.95"/>
<circle cx="166.6" cy="521.7" r="3.15" fill="#9e6e7a" fill-opacity="0.95"/>
<circle cx="180.3" cy="526.6" r="3.15" fill="#9e6e7a" fill-opacity="0.95"/>
<circle cx="193.1" cy="531.2" r="3.15" fill="#9e6e7a" fill-opacity="0.95"/>
<circle cx="204.0" cy="531.2" r="3.15" fill="#9e6e7a" fill-opacity="0.95"/>
<circle cx="209.5" cy="527.5" r="3.15" fill="#9e6e7a" fill-opacity="0.95"/>
<circle cx="214.1" cy="522.9" r="3.15" fill="#9e6e7a" fill-opacity="0.95"/>
<circle cx="215.9" cy="527.5" r="3.15" fill="#9e6e7a" fill-opacity="0.95"/>
<circle cx="221.4" cy="529.3" r="3.15" fill="#9e6e7a" fill-opacity="0.95"/>
<circle cx="212.3" cy="533.0" r="3.15" fill="#9e6e7a" fill-opacity="0.95"/>
<circle cx="217.8" cy="533.9" r="3.15" fill="#9e6e7a" fill-opacity="0.95"/>
<circle cx="221.4" cy="535.7" r="3.15" fill="#9e6e7a" fill-opacity="0.95"/>
<circle cx="171.1" cy="537.6" r="3.15" fill="#9e6e7a" fill-opacity="0.95"/>
<circle cx="210.4" cy="537.6" r="3.15" fill="#9e6e7a" fill-opacity="0.95"/>
<circle cx="142.8" cy="472.7" r="1.90" fill="#b5703a" fill-opacity="0.72"/>
<circle cx="141.9" cy="476.3" r="1.90" fill="#b5703a" fill-opacity="0.72"/>
<circle cx="147.9" cy="476.3" r="1.90" fill="#b5703a" fill-opacity="0.72"/>
<circle cx="173.9" cy="475.4" r="1.90" fill="#b5703a" fill-opacity="0.72"/>
<circle cx="187.6" cy="476.7" r="1.90" fill="#b5703a" fill-opacity="0.72"/>
<circle cx="168.4" cy="482.7" r="1.90" fill="#b5703a" fill-opacity="0.72"/>
<circle cx="173.9" cy="485.1" r="1.90" fill="#b5703a" fill-opacity="0.72"/>
<circle cx="178.4" cy="481.4" r="1.90" fill="#b5703a" fill-opacity="0.72"/>
<circle cx="184.8" cy="482.2" r="1.90" fill="#b5703a" fill-opacity="0.72"/>
<circle cx="177.5" cy="487.3" r="1.90" fill="#b5703a" fill-opacity="0.72"/>
<circle cx="170.2" cy="490.0" r="1.90" fill="#b5703a" fill-opacity="0.72"/>
<circle cx="175.7" cy="491.9" r="1.90" fill="#b5703a" fill-opacity="0.72"/>
<circle cx="182.1" cy="490.9" r="1.90" fill="#b5703a" fill-opacity="0.72"/>
<circle cx="191.2" cy="484.5" r="1.90" fill="#b5703a" fill-opacity="0.72"/>
<circle cx="190.3" cy="489.1" r="1.90" fill="#b5703a" fill-opacity="0.72"/>
<circle cx="196.7" cy="488.2" r="1.90" fill="#b5703a" fill-opacity="0.72"/>
<circle cx="163.8" cy="494.2" r="1.90" fill="#b5703a" fill-opacity="0.72"/>
<circle cx="170.2" cy="497.3" r="1.90" fill="#b5703a" fill-opacity="0.72"/>
<circle cx="175.7" cy="500.1" r="1.90" fill="#b5703a" fill-opacity="0.72"/>
<circle cx="179.4" cy="497.3" r="1.90" fill="#b5703a" fill-opacity="0.72"/>
<circle cx="183.9" cy="496.4" r="1.90" fill="#b5703a" fill-opacity="0.72"/>
<circle cx="193.1" cy="493.7" r="1.90" fill="#b5703a" fill-opacity="0.72"/>
<circle cx="199.5" cy="493.7" r="1.90" fill="#b5703a" fill-opacity="0.72"/>
<circle cx="205.9" cy="496.1" r="1.90" fill="#b5703a" fill-opacity="0.72"/>
<circle cx="155.6" cy="499.2" r="1.90" fill="#b5703a" fill-opacity="0.72"/>
<circle cx="162.0" cy="502.8" r="1.90" fill="#b5703a" fill-opacity="0.72"/>
<circle cx="166.6" cy="505.6" r="1.90" fill="#b5703a" fill-opacity="0.72"/>
<circle cx="174.8" cy="501.0" r="1.90" fill="#b5703a" fill-opacity="0.72"/>
<circle cx="182.1" cy="501.9" r="1.90" fill="#b5703a" fill-opacity="0.72"/>
<circle cx="187.6" cy="502.8" r="1.90" fill="#b5703a" fill-opacity="0.72"/>
<circle cx="196.7" cy="500.1" r="1.90" fill="#b5703a" fill-opacity="0.72"/>
<circle cx="203.1" cy="501.0" r="1.90" fill="#b5703a" fill-opacity="0.72"/>
<circle cx="208.6" cy="504.6" r="1.90" fill="#b5703a" fill-opacity="0.72"/>
<circle cx="214.1" cy="503.7" r="1.90" fill="#b5703a" fill-opacity="0.72"/>
<circle cx="177.5" cy="505.6" r="1.90" fill="#b5703a" fill-opacity="0.72"/>
<circle cx="183.0" cy="507.4" r="1.90" fill="#b5703a" fill-opacity="0.72"/>
<circle cx="191.2" cy="506.5" r="1.90" fill="#b5703a" fill-opacity="0.72"/>
<circle cx="173.9" cy="510.1" r="1.90" fill="#b5703a" fill-opacity="0.72"/>
<circle cx="180.3" cy="512.0" r="1.90" fill="#b5703a" fill-opacity="0.72"/>
<circle cx="187.6" cy="510.1" r="1.90" fill="#b5703a" fill-opacity="0.72"/>
<circle cx="192.2" cy="513.8" r="1.90" fill="#b5703a" fill-opacity="0.72"/>
<circle cx="197.6" cy="510.1" r="1.90" fill="#b5703a" fill-opacity="0.72"/>
<circle cx="205.0" cy="515.6" r="1.90" fill="#b5703a" fill-opacity="0.72"/>
<circle cx="210.4" cy="512.9" r="1.90" fill="#b5703a" fill-opacity="0.72"/>
<circle cx="215.0" cy="510.1" r="1.90" fill="#b5703a" fill-opacity="0.72"/>
<circle cx="216.8" cy="516.5" r="1.90" fill="#b5703a" fill-opacity="0.72"/>
<circle cx="210.4" cy="518.4" r="1.90" fill="#b5703a" fill-opacity="0.72"/>
<circle cx="174.8" cy="517.4" r="1.90" fill="#b5703a" fill-opacity="0.72"/>
<circle cx="183.0" cy="521.1" r="1.90" fill="#b5703a" fill-opacity="0.72"/>
<circle cx="190.3" cy="522.9" r="1.90" fill="#b5703a" fill-opacity="0.72"/>
<circle cx="166.6" cy="521.7" r="1.90" fill="#b5703a" fill-opacity="0.72"/>
<circle cx="180.3" cy="526.6" r="1.90" fill="#b5703a" fill-opacity="0.72"/>
<circle cx="193.1" cy="531.2" r="1.90" fill="#b5703a" fill-opacity="0.72"/>
<circle cx="204.0" cy="531.2" r="1.90" fill="#b5703a" fill-opacity="0.72"/>
<circle cx="209.5" cy="527.5" r="1.90" fill="#b5703a" fill-opacity="0.72"/>
<circle cx="214.1" cy="522.9" r="1.90" fill="#b5703a" fill-opacity="0.72"/>
<circle cx="215.9" cy="527.5" r="1.90" fill="#b5703a" fill-opacity="0.72"/>
<circle cx="221.4" cy="529.3" r="1.90" fill="#b5703a" fill-opacity="0.72"/>
<circle cx="212.3" cy="533.0" r="1.90" fill="#b5703a" fill-opacity="0.72"/>
<circle cx="217.8" cy="533.9" r="1.90" fill="#b5703a" fill-opacity="0.72"/>
<circle cx="221.4" cy="535.7" r="1.90" fill="#b5703a" fill-opacity="0.72"/>
<circle cx="171.1" cy="537.6" r="1.90" fill="#b5703a" fill-opacity="0.72"/>
<circle cx="210.4" cy="537.6" r="1.90" fill="#b5703a" fill-opacity="0.72"/>
</g></g>
<g clip-path="url(#mc4)"><rect x="231" y="402" width="93.30" height="69.50" fill="#f0f6f9"/><g filter="url(#bl)">
<circle cx="284.8" cy="405.4" r="3.00" fill="#c5c6ee" fill-opacity="0.45"/>
<circle cx="254.6" cy="410.0" r="3.00" fill="#c5c6ee" fill-opacity="0.45"/>
<circle cx="248.2" cy="423.7" r="3.00" fill="#c5c6ee" fill-opacity="0.45"/>
<circle cx="274.7" cy="420.9" r="3.00" fill="#c5c6ee" fill-opacity="0.45"/>
<circle cx="283.8" cy="443.8" r="3.00" fill="#c5c6ee" fill-opacity="0.45"/>
<circle cx="305.8" cy="410.0" r="3.00" fill="#c5c6ee" fill-opacity="0.45"/>
<circle cx="307.6" cy="436.5" r="3.00" fill="#c5c6ee" fill-opacity="0.45"/>
<circle cx="254.6" cy="440.1" r="3.00" fill="#c5c6ee" fill-opacity="0.45"/>
<circle cx="269.2" cy="435.6" r="3.00" fill="#c5c6ee" fill-opacity="0.45"/>
<circle cx="305.8" cy="460.2" r="3.00" fill="#c5c6ee" fill-opacity="0.45"/>
<circle cx="240.0" cy="464.8" r="3.00" fill="#c5c6ee" fill-opacity="0.45"/>
<circle cx="234.5" cy="431.9" r="3.00" fill="#c5c6ee" fill-opacity="0.45"/>
<circle cx="264.6" cy="412.7" r="1.90" fill="#c86420" fill-opacity="0.92"/>
<circle cx="265.6" cy="416.4" r="1.90" fill="#c86420" fill-opacity="0.92"/>
<circle cx="284.8" cy="412.7" r="1.90" fill="#c86420" fill-opacity="0.92"/>
<circle cx="282.0" cy="417.3" r="1.90" fill="#c86420" fill-opacity="0.92"/>
<circle cx="299.4" cy="407.2" r="1.90" fill="#c86420" fill-opacity="0.92"/>
<circle cx="305.8" cy="407.2" r="1.90" fill="#c86420" fill-opacity="0.92"/>
<circle cx="310.4" cy="408.1" r="1.90" fill="#c86420" fill-opacity="0.92"/>
<circle cx="300.3" cy="402.3" r="1.90" fill="#c86420" fill-opacity="0.92"/>
<circle cx="285.7" cy="402.7" r="1.90" fill="#c86420" fill-opacity="0.92"/>
<circle cx="272.9" cy="401.7" r="1.90" fill="#c86420" fill-opacity="0.92"/>
<circle cx="275.6" cy="420.9" r="1.90" fill="#c86420" fill-opacity="0.92"/>
<circle cx="281.1" cy="423.7" r="1.90" fill="#c86420" fill-opacity="0.92"/>
<circle cx="274.7" cy="421.9" r="1.90" fill="#c86420" fill-opacity="0.92"/>
<circle cx="265.6" cy="428.3" r="1.90" fill="#c86420" fill-opacity="0.92"/>
<circle cx="276.5" cy="431.0" r="1.90" fill="#c86420" fill-opacity="0.92"/>
<circle cx="292.1" cy="425.5" r="1.90" fill="#c86420" fill-opacity="0.92"/>
<circle cx="293.9" cy="427.3" r="1.90" fill="#c86420" fill-opacity="0.92"/>
<circle cx="301.2" cy="424.6" r="1.90" fill="#c86420" fill-opacity="0.92"/>
<circle cx="304.0" cy="424.6" r="1.90" fill="#c86420" fill-opacity="0.92"/>
<circle cx="303.0" cy="428.3" r="1.90" fill="#c86420" fill-opacity="0.92"/>
<circle cx="300.3" cy="431.9" r="1.90" fill="#c86420" fill-opacity="0.92"/>
<circle cx="302.1" cy="434.6" r="1.90" fill="#c86420" fill-opacity="0.92"/>
<circle cx="304.9" cy="431.0" r="1.90" fill="#c86420" fill-opacity="0.92"/>
<circle cx="296.6" cy="435.6" r="1.90" fill="#c86420" fill-opacity="0.92"/>
<circle cx="263.7" cy="437.4" r="1.90" fill="#c86420" fill-opacity="0.92"/>
<circle cx="264.6" cy="440.1" r="1.90" fill="#c86420" fill-opacity="0.92"/>
<circle cx="262.8" cy="442.0" r="1.90" fill="#c86420" fill-opacity="0.92"/>
<circle cx="247.3" cy="441.0" r="1.90" fill="#c86420" fill-opacity="0.92"/>
<circle cx="249.1" cy="442.9" r="1.90" fill="#c86420" fill-opacity="0.92"/>
<circle cx="251.9" cy="443.8" r="1.90" fill="#c86420" fill-opacity="0.92"/>
<circle cx="254.6" cy="450.2" r="1.90" fill="#c86420" fill-opacity="0.92"/>
<circle cx="263.7" cy="448.4" r="1.90" fill="#c86420" fill-opacity="0.92"/>
<circle cx="274.7" cy="448.0" r="1.90" fill="#c86420" fill-opacity="0.92"/>
<circle cx="272.0" cy="453.8" r="1.90" fill="#c86420" fill-opacity="0.92"/>
<circle cx="292.1" cy="452.9" r="1.90" fill="#c86420" fill-opacity="0.92"/>
<circle cx="294.8" cy="453.8" r="1.90" fill="#c86420" fill-opacity="0.92"/>
<circle cx="299.4" cy="453.8" r="1.90" fill="#c86420" fill-opacity="0.92"/>
<circle cx="298.5" cy="444.7" r="1.90" fill="#c86420" fill-opacity="0.92"/>
<circle cx="301.2" cy="445.6" r="1.90" fill="#c86420" fill-opacity="0.92"/>
<circle cx="303.0" cy="448.4" r="1.90" fill="#c86420" fill-opacity="0.92"/>
<circle cx="305.8" cy="448.4" r="1.90" fill="#c86420" fill-opacity="0.92"/>
<circle cx="251.9" cy="427.3" r="1.90" fill="#c86420" fill-opacity="0.92"/>
<circle cx="250.0" cy="426.4" r="1.90" fill="#c86420" fill-opacity="0.92"/>
<circle cx="232.7" cy="431.9" r="1.90" fill="#c86420" fill-opacity="0.92"/>
<circle cx="233.6" cy="438.3" r="1.90" fill="#c86420" fill-opacity="0.92"/>
<circle cx="237.2" cy="441.0" r="1.90" fill="#c86420" fill-opacity="0.92"/>
<circle cx="321.3" cy="443.8" r="1.90" fill="#c86420" fill-opacity="0.92"/>
<circle cx="322.2" cy="445.6" r="1.90" fill="#c86420" fill-opacity="0.92"/>
<circle cx="246.4" cy="463.0" r="1.90" fill="#c86420" fill-opacity="0.92"/>
<circle cx="255.5" cy="465.7" r="1.90" fill="#c86420" fill-opacity="0.92"/>
<circle cx="256.4" cy="468.5" r="1.90" fill="#c86420" fill-opacity="0.92"/>
<circle cx="262.8" cy="469.4" r="1.90" fill="#c86420" fill-opacity="0.92"/>
<circle cx="272.0" cy="468.5" r="1.90" fill="#c86420" fill-opacity="0.92"/>
<circle cx="281.1" cy="463.0" r="1.90" fill="#c86420" fill-opacity="0.92"/>
<circle cx="292.1" cy="466.6" r="1.90" fill="#c86420" fill-opacity="0.92"/>
<circle cx="301.2" cy="462.1" r="1.90" fill="#c86420" fill-opacity="0.92"/>
<circle cx="304.0" cy="463.0" r="1.90" fill="#c86420" fill-opacity="0.92"/>
<circle cx="267.4" cy="407.2" r="1.60" fill="#4a56cc" fill-opacity="0.88"/>
<circle cx="271.0" cy="404.5" r="1.60" fill="#4a56cc" fill-opacity="0.88"/>
<circle cx="266.5" cy="412.7" r="1.60" fill="#4a56cc" fill-opacity="0.88"/>
<circle cx="280.2" cy="416.4" r="1.60" fill="#4a56cc" fill-opacity="0.88"/>
<circle cx="283.8" cy="416.4" r="1.60" fill="#4a56cc" fill-opacity="0.88"/>
<circle cx="286.6" cy="423.7" r="1.60" fill="#4a56cc" fill-opacity="0.88"/>
<circle cx="272.9" cy="431.0" r="1.60" fill="#4a56cc" fill-opacity="0.88"/>
<circle cx="282.0" cy="432.8" r="1.60" fill="#4a56cc" fill-opacity="0.88"/>
<circle cx="282.9" cy="435.6" r="1.60" fill="#4a56cc" fill-opacity="0.88"/>
<circle cx="271.0" cy="436.5" r="1.60" fill="#4a56cc" fill-opacity="0.88"/>
<circle cx="258.3" cy="437.4" r="1.60" fill="#4a56cc" fill-opacity="0.88"/>
<circle cx="250.9" cy="433.7" r="1.60" fill="#4a56cc" fill-opacity="0.88"/>
<circle cx="240.9" cy="438.3" r="1.60" fill="#4a56cc" fill-opacity="0.88"/>
<circle cx="238.1" cy="442.0" r="1.60" fill="#4a56cc" fill-opacity="0.88"/>
<circle cx="251.9" cy="442.9" r="1.60" fill="#4a56cc" fill-opacity="0.88"/>
<circle cx="301.2" cy="438.3" r="1.60" fill="#4a56cc" fill-opacity="0.88"/>
<circle cx="305.8" cy="437.4" r="1.60" fill="#4a56cc" fill-opacity="0.88"/>
<circle cx="307.6" cy="428.3" r="1.60" fill="#4a56cc" fill-opacity="0.88"/>
<circle cx="311.3" cy="428.3" r="1.60" fill="#4a56cc" fill-opacity="0.88"/>
<circle cx="313.1" cy="445.6" r="1.60" fill="#4a56cc" fill-opacity="0.88"/>
<circle cx="295.7" cy="447.4" r="1.60" fill="#4a56cc" fill-opacity="0.88"/>
<circle cx="296.6" cy="450.2" r="1.60" fill="#4a56cc" fill-opacity="0.88"/>
<circle cx="301.2" cy="450.2" r="1.60" fill="#4a56cc" fill-opacity="0.88"/>
<circle cx="303.0" cy="451.1" r="1.60" fill="#4a56cc" fill-opacity="0.88"/>
<circle cx="267.4" cy="456.6" r="1.60" fill="#4a56cc" fill-opacity="0.88"/>
<circle cx="278.4" cy="459.3" r="1.60" fill="#4a56cc" fill-opacity="0.88"/>
<circle cx="285.7" cy="443.8" r="1.60" fill="#4a56cc" fill-opacity="0.88"/>
<circle cx="289.3" cy="445.6" r="1.60" fill="#4a56cc" fill-opacity="0.88"/>
<circle cx="298.5" cy="459.3" r="1.60" fill="#4a56cc" fill-opacity="0.88"/>
<circle cx="309.4" cy="456.6" r="1.60" fill="#4a56cc" fill-opacity="0.88"/>
<circle cx="252.8" cy="461.2" r="1.60" fill="#4a56cc" fill-opacity="0.88"/>
<circle cx="240.9" cy="464.8" r="1.60" fill="#4a56cc" fill-opacity="0.88"/>
<circle cx="247.3" cy="464.8" r="1.60" fill="#4a56cc" fill-opacity="0.88"/>
<circle cx="253.7" cy="463.0" r="1.60" fill="#4a56cc" fill-opacity="0.88"/>
<circle cx="255.5" cy="462.1" r="1.60" fill="#4a56cc" fill-opacity="0.88"/>
<circle cx="271.0" cy="466.6" r="1.60" fill="#4a56cc" fill-opacity="0.88"/>
<circle cx="280.2" cy="468.5" r="1.60" fill="#4a56cc" fill-opacity="0.88"/>
<circle cx="292.1" cy="463.9" r="1.60" fill="#4a56cc" fill-opacity="0.88"/>
<circle cx="302.1" cy="459.3" r="1.60" fill="#4a56cc" fill-opacity="0.88"/>
</g></g>
<g clip-path="url(#mc5)"><rect x="231" y="472" width="93.30" height="65.50" fill="#f2f6fa"/><g filter="url(#bl)">
<circle cx="291.2" cy="506.8" r="3.20" fill="#b9b4ea" fill-opacity="0.6"/>
<circle cx="313.1" cy="519.3" r="3.20" fill="#b9b4ea" fill-opacity="0.6"/>
<circle cx="314.9" cy="522.0" r="3.20" fill="#b9b4ea" fill-opacity="0.6"/>
<circle cx="241.8" cy="485.5" r="2.60" fill="#c94f1c" fill-opacity="0.95"/>
<circle cx="250.9" cy="488.7" r="2.60" fill="#c94f1c" fill-opacity="0.95"/>
<circle cx="268.3" cy="489.1" r="2.60" fill="#c94f1c" fill-opacity="0.95"/>
<circle cx="271.4" cy="490.0" r="2.60" fill="#c94f1c" fill-opacity="0.95"/>
<circle cx="283.5" cy="503.4" r="2.60" fill="#c94f1c" fill-opacity="0.95"/>
<circle cx="310.0" cy="504.1" r="2.60" fill="#c94f1c" fill-opacity="0.95"/>
<circle cx="237.8" cy="511.0" r="2.60" fill="#c94f1c" fill-opacity="0.95"/>
<circle cx="241.4" cy="514.3" r="2.60" fill="#c94f1c" fill-opacity="0.95"/>
<circle cx="275.6" cy="515.1" r="2.60" fill="#c94f1c" fill-opacity="0.95"/>
<circle cx="304.0" cy="522.9" r="2.60" fill="#c94f1c" fill-opacity="0.95"/>
<circle cx="304.0" cy="527.1" r="2.60" fill="#c94f1c" fill-opacity="0.95"/>
<circle cx="250.9" cy="488.7" r="3.20" fill="#c0601c" fill-opacity="0.95"/>
<circle cx="310.0" cy="504.1" r="3.20" fill="#c0601c" fill-opacity="0.95"/>
<circle cx="241.4" cy="514.3" r="3.20" fill="#c0601c" fill-opacity="0.95"/>
<circle cx="275.6" cy="515.1" r="3.20" fill="#c0601c" fill-opacity="0.95"/>
<circle cx="239.6" cy="478.5" r="1.60" fill="#3a3ec0" fill-opacity="0.9"/>
<circle cx="236.7" cy="484.5" r="1.60" fill="#3a3ec0" fill-opacity="0.9"/>
<circle cx="245.1" cy="485.5" r="1.60" fill="#3a3ec0" fill-opacity="0.9"/>
<circle cx="272.9" cy="492.8" r="1.60" fill="#3a3ec0" fill-opacity="0.9"/>
<circle cx="271.4" cy="496.8" r="1.60" fill="#3a3ec0" fill-opacity="0.9"/>
<circle cx="285.3" cy="506.5" r="1.60" fill="#3a3ec0" fill-opacity="0.9"/>
<circle cx="240.0" cy="510.1" r="1.60" fill="#3a3ec0" fill-opacity="0.9"/>
<circle cx="299.9" cy="512.1" r="1.60" fill="#3a3ec0" fill-opacity="0.9"/>
<circle cx="310.7" cy="501.5" r="1.60" fill="#3a3ec0" fill-opacity="0.9"/>
<circle cx="305.8" cy="523.8" r="1.60" fill="#3a3ec0" fill-opacity="0.9"/>
<circle cx="267.8" cy="493.7" r="1.50" fill="#a050b0" fill-opacity="0.7"/>
<circle cx="257.3" cy="483.3" r="1.50" fill="#a050b0" fill-opacity="0.7"/>
</g></g>
<g clip-path="url(#mc6)"><rect x="334" y="474" width="80.50" height="64.00" fill="#ffffff"/><g filter="url(#bl)">
<circle cx="356.9" cy="480.3" r="3.30" fill="#cc6a12" fill-opacity="0.95"/>
<circle cx="361.5" cy="482.2" r="3.30" fill="#cc6a12" fill-opacity="0.95"/>
<circle cx="378.8" cy="484.0" r="3.30" fill="#cc6a12" fill-opacity="0.95"/>
<circle cx="387.1" cy="477.2" r="3.30" fill="#cc6a12" fill-opacity="0.95"/>
<circle cx="393.1" cy="478.1" r="3.30" fill="#cc6a12" fill-opacity="0.95"/>
<circle cx="396.8" cy="481.8" r="3.30" fill="#cc6a12" fill-opacity="0.95"/>
<circle cx="396.2" cy="486.4" r="3.30" fill="#cc6a12" fill-opacity="0.95"/>
<circle cx="389.8" cy="485.1" r="3.30" fill="#cc6a12" fill-opacity="0.95"/>
<circle cx="384.3" cy="490.9" r="3.30" fill="#cc6a12" fill-opacity="0.95"/>
<circle cx="371.9" cy="491.3" r="3.30" fill="#cc6a12" fill-opacity="0.95"/>
<circle cx="365.1" cy="492.4" r="3.30" fill="#cc6a12" fill-opacity="0.95"/>
<circle cx="360.6" cy="496.1" r="3.30" fill="#cc6a12" fill-opacity="0.95"/>
<circle cx="356.5" cy="499.2" r="3.30" fill="#cc6a12" fill-opacity="0.95"/>
<circle cx="347.4" cy="497.9" r="3.30" fill="#cc6a12" fill-opacity="0.95"/>
<circle cx="368.2" cy="499.2" r="3.30" fill="#cc6a12" fill-opacity="0.95"/>
<circle cx="378.8" cy="499.2" r="3.30" fill="#cc6a12" fill-opacity="0.95"/>
<circle cx="385.2" cy="500.1" r="3.30" fill="#cc6a12" fill-opacity="0.95"/>
<circle cx="389.8" cy="496.4" r="3.30" fill="#cc6a12" fill-opacity="0.95"/>
<circle cx="403.0" cy="498.3" r="3.30" fill="#cc6a12" fill-opacity="0.95"/>
<circle cx="407.2" cy="494.6" r="3.30" fill="#cc6a12" fill-opacity="0.95"/>
<circle cx="408.1" cy="489.1" r="3.30" fill="#cc6a12" fill-opacity="0.95"/>
<circle cx="407.7" cy="484.5" r="3.30" fill="#cc6a12" fill-opacity="0.95"/>
<circle cx="412.7" cy="478.1" r="3.30" fill="#cc6a12" fill-opacity="0.95"/>
<circle cx="413.6" cy="483.6" r="3.30" fill="#cc6a12" fill-opacity="0.95"/>
<circle cx="336.4" cy="495.0" r="3.30" fill="#cc6a12" fill-opacity="0.95"/>
<circle cx="355.4" cy="505.6" r="3.30" fill="#cc6a12" fill-opacity="0.95"/>
<circle cx="371.0" cy="504.6" r="3.30" fill="#cc6a12" fill-opacity="0.95"/>
<circle cx="338.6" cy="506.5" r="3.30" fill="#cc6a12" fill-opacity="0.95"/>
<circle cx="343.2" cy="509.2" r="3.30" fill="#cc6a12" fill-opacity="0.95"/>
<circle cx="347.2" cy="512.3" r="3.30" fill="#cc6a12" fill-opacity="0.95"/>
<circle cx="352.9" cy="513.4" r="3.30" fill="#cc6a12" fill-opacity="0.95"/>
<circle cx="359.6" cy="512.9" r="3.30" fill="#cc6a12" fill-opacity="0.95"/>
<circle cx="367.9" cy="510.1" r="3.30" fill="#cc6a12" fill-opacity="0.95"/>
<circle cx="367.0" cy="514.7" r="3.30" fill="#cc6a12" fill-opacity="0.95"/>
<circle cx="373.4" cy="516.9" r="3.30" fill="#cc6a12" fill-opacity="0.95"/>
<circle cx="377.6" cy="510.7" r="3.30" fill="#cc6a12" fill-opacity="0.95"/>
<circle cx="388.0" cy="511.4" r="3.30" fill="#cc6a12" fill-opacity="0.95"/>
<circle cx="362.4" cy="519.3" r="3.30" fill="#cc6a12" fill-opacity="0.95"/>
<circle cx="365.7" cy="518.4" r="3.30" fill="#cc6a12" fill-opacity="0.95"/>
<circle cx="359.6" cy="520.7" r="3.30" fill="#cc6a12" fill-opacity="0.95"/>
<circle cx="345.9" cy="522.0" r="3.30" fill="#cc6a12" fill-opacity="0.95"/>
<circle cx="349.6" cy="518.7" r="3.30" fill="#cc6a12" fill-opacity="0.95"/>
<circle cx="357.8" cy="527.1" r="3.30" fill="#cc6a12" fill-opacity="0.95"/>
<circle cx="363.3" cy="526.0" r="3.30" fill="#cc6a12" fill-opacity="0.95"/>
<circle cx="367.9" cy="531.2" r="3.30" fill="#cc6a12" fill-opacity="0.95"/>
<circle cx="377.0" cy="526.0" r="3.30" fill="#cc6a12" fill-opacity="0.95"/>
<circle cx="384.9" cy="522.0" r="3.30" fill="#cc6a12" fill-opacity="0.95"/>
<circle cx="341.9" cy="529.9" r="3.30" fill="#cc6a12" fill-opacity="0.95"/>
<circle cx="346.3" cy="534.8" r="3.30" fill="#cc6a12" fill-opacity="0.95"/>
<circle cx="341.4" cy="535.7" r="3.30" fill="#cc6a12" fill-opacity="0.95"/>
<circle cx="370.6" cy="534.3" r="3.30" fill="#cc6a12" fill-opacity="0.95"/>
<circle cx="374.3" cy="537.6" r="3.30" fill="#cc6a12" fill-opacity="0.95"/>
<circle cx="388.9" cy="533.4" r="3.30" fill="#cc6a12" fill-opacity="0.95"/>
<circle cx="398.0" cy="531.2" r="3.30" fill="#cc6a12" fill-opacity="0.95"/>
<circle cx="407.2" cy="538.1" r="3.30" fill="#cc6a12" fill-opacity="0.95"/>
<circle cx="413.6" cy="533.0" r="3.30" fill="#cc6a12" fill-opacity="0.95"/>
<circle cx="413.2" cy="518.4" r="3.30" fill="#cc6a12" fill-opacity="0.95"/>
<circle cx="414.5" cy="512.9" r="3.30" fill="#cc6a12" fill-opacity="0.95"/>
<circle cx="335.9" cy="512.0" r="3.30" fill="#cc6a12" fill-opacity="0.95"/>
<circle cx="402.6" cy="506.5" r="3.20" fill="#e8b890" fill-opacity="0.8"/>
</g></g>
<g clip-path="url(#mcC)"><rect x="334" y="403.5" width="80.5" height="69" fill="#fff"/><g filter="url(#bl)">
<circle cx="384.6" cy="454.5" r="1.93" fill="#c9630f" fill-opacity="0.93"/>
<circle cx="371.3" cy="469.0" r="1.78" fill="#c9630f" fill-opacity="0.93"/>
<circle cx="374.6" cy="469.3" r="1.84" fill="#c9630f" fill-opacity="0.93"/>
<circle cx="355.6" cy="467.0" r="1.96" fill="#c9630f" fill-opacity="0.93"/>
<circle cx="342.7" cy="401.6" r="1.65" fill="#c9630f" fill-opacity="0.93"/>
<circle cx="356.4" cy="470.2" r="2.04" fill="#c9630f" fill-opacity="0.93"/>
<circle cx="355.8" cy="473.8" r="2.01" fill="#c9630f" fill-opacity="0.93"/>
<circle cx="346.0" cy="411.9" r="1.70" fill="#c9630f" fill-opacity="0.93"/>
<circle cx="342.9" cy="412.7" r="1.70" fill="#c9630f" fill-opacity="0.93"/>
<circle cx="339.7" cy="413.7" r="1.56" fill="#c9630f" fill-opacity="0.93"/>
<circle cx="337.7" cy="411.6" r="1.93" fill="#c9630f" fill-opacity="0.93"/>
<circle cx="338.0" cy="408.7" r="1.96" fill="#c9630f" fill-opacity="0.93"/>
<circle cx="332.8" cy="404.8" r="1.94" fill="#c9630f" fill-opacity="0.93"/>
<circle cx="330.5" cy="407.6" r="1.72" fill="#c9630f" fill-opacity="0.93"/>
<circle cx="397.5" cy="409.2" r="1.99" fill="#c9630f" fill-opacity="0.93"/>
<circle cx="339.7" cy="425.9" r="2.03" fill="#c9630f" fill-opacity="0.93"/>
<circle cx="337.8" cy="428.3" r="1.70" fill="#c9630f" fill-opacity="0.93"/>
<circle cx="344.6" cy="450.8" r="1.56" fill="#c9630f" fill-opacity="0.93"/>
<circle cx="366.3" cy="418.5" r="1.76" fill="#c9630f" fill-opacity="0.93"/>
<circle cx="365.5" cy="421.9" r="1.55" fill="#c9630f" fill-opacity="0.93"/>
<circle cx="343.0" cy="453.8" r="1.96" fill="#c9630f" fill-opacity="0.93"/>
<circle cx="344.6" cy="461.9" r="2.06" fill="#c9630f" fill-opacity="0.93"/>
<circle cx="346.2" cy="459.1" r="1.92" fill="#c9630f" fill-opacity="0.93"/>
<circle cx="347.7" cy="456.4" r="1.75" fill="#c9630f" fill-opacity="0.93"/>
<circle cx="415.5" cy="470.1" r="1.73" fill="#c9630f" fill-opacity="0.93"/>
<circle cx="418.9" cy="469.6" r="1.91" fill="#c9630f" fill-opacity="0.93"/>
<circle cx="422.2" cy="470.5" r="1.73" fill="#c9630f" fill-opacity="0.93"/>
<circle cx="424.5" cy="472.5" r="1.79" fill="#c9630f" fill-opacity="0.93"/>
<circle cx="425.1" cy="475.9" r="1.69" fill="#c9630f" fill-opacity="0.93"/>
<circle cx="422.6" cy="478.0" r="1.84" fill="#c9630f" fill-opacity="0.93"/>
<circle cx="353.2" cy="449.5" r="1.96" fill="#c9630f" fill-opacity="0.93"/>
<circle cx="350.4" cy="447.7" r="1.93" fill="#c9630f" fill-opacity="0.93"/>
<circle cx="403.2" cy="463.7" r="2.05" fill="#c9630f" fill-opacity="0.93"/>
<circle cx="346.0" cy="461.3" r="1.90" fill="#c9630f" fill-opacity="0.93"/>
<circle cx="346.5" cy="457.3" r="1.92" fill="#c9630f" fill-opacity="0.93"/>
<circle cx="343.6" cy="458.1" r="1.77" fill="#c9630f" fill-opacity="0.93"/>
<circle cx="340.6" cy="457.8" r="1.90" fill="#c9630f" fill-opacity="0.93"/>
<circle cx="337.9" cy="456.7" r="1.78" fill="#c9630f" fill-opacity="0.93"/>
<circle cx="335.1" cy="457.4" r="1.60" fill="#c9630f" fill-opacity="0.93"/>
<circle cx="348.3" cy="404.0" r="1.75" fill="#c9630f" fill-opacity="0.93"/>
<circle cx="351.1" cy="402.5" r="1.59" fill="#c9630f" fill-opacity="0.93"/>
<circle cx="354.1" cy="403.3" r="1.55" fill="#c9630f" fill-opacity="0.93"/>
<circle cx="356.6" cy="404.8" r="1.82" fill="#c9630f" fill-opacity="0.93"/>
<circle cx="359.9" cy="405.3" r="2.05" fill="#c9630f" fill-opacity="0.93"/>
<circle cx="361.8" cy="407.8" r="1.97" fill="#c9630f" fill-opacity="0.93"/>
<circle cx="344.0" cy="444.1" r="1.86" fill="#c9630f" fill-opacity="0.93"/>
<circle cx="347.0" cy="442.2" r="1.53" fill="#c9630f" fill-opacity="0.93"/>
<circle cx="384.0" cy="411.6" r="1.76" fill="#c9630f" fill-opacity="0.93"/>
<circle cx="383.6" cy="414.6" r="2.06" fill="#c9630f" fill-opacity="0.93"/>
<circle cx="409.2" cy="444.1" r="1.75" fill="#c9630f" fill-opacity="0.93"/>
<circle cx="406.0" cy="445.7" r="1.80" fill="#c9630f" fill-opacity="0.93"/>
<circle cx="342.3" cy="446.0" r="1.54" fill="#c9630f" fill-opacity="0.93"/>
<circle cx="343.9" cy="443.3" r="2.04" fill="#c9630f" fill-opacity="0.93"/>
<circle cx="346.8" cy="442.3" r="1.67" fill="#c9630f" fill-opacity="0.93"/>
<circle cx="356.8" cy="445.0" r="1.94" fill="#c9630f" fill-opacity="0.93"/>
<circle cx="359.9" cy="445.8" r="1.71" fill="#c9630f" fill-opacity="0.93"/>
<circle cx="363.1" cy="445.1" r="1.78" fill="#c9630f" fill-opacity="0.93"/>
<circle cx="366.0" cy="443.3" r="1.85" fill="#c9630f" fill-opacity="0.93"/>
<circle cx="370.5" cy="467.0" r="1.54" fill="#c9630f" fill-opacity="0.93"/>
<circle cx="380.6" cy="452.1" r="1.74" fill="#c9630f" fill-opacity="0.93"/>
<circle cx="377.6" cy="451.8" r="1.69" fill="#c9630f" fill-opacity="0.93"/>
<circle cx="375.9" cy="449.4" r="1.98" fill="#c9630f" fill-opacity="0.93"/>
<circle cx="356.2" cy="457.3" r="1.79" fill="#c9630f" fill-opacity="0.93"/>
<circle cx="359.9" cy="412.5" r="1.65" fill="#c9630f" fill-opacity="0.93"/>
<circle cx="361.2" cy="415.7" r="1.89" fill="#c9630f" fill-opacity="0.93"/>
<circle cx="414.7" cy="472.9" r="1.98" fill="#c9630f" fill-opacity="0.93"/>
<circle cx="412.5" cy="452.4" r="1.86" fill="#c9630f" fill-opacity="0.93"/>
<circle cx="414.7" cy="454.4" r="1.87" fill="#c9630f" fill-opacity="0.93"/>
<circle cx="417.5" cy="453.4" r="1.73" fill="#c9630f" fill-opacity="0.93"/>
<circle cx="380.6" cy="454.6" r="1.76" fill="#c9630f" fill-opacity="0.93"/>
<circle cx="373.4" cy="468.6" r="1.87" fill="#c9630f" fill-opacity="0.93"/>
<circle cx="375.4" cy="471.5" r="1.83" fill="#c9630f" fill-opacity="0.93"/>
<circle cx="376.3" cy="474.4" r="1.83" fill="#c9630f" fill-opacity="0.93"/>
<circle cx="375.7" cy="411.1" r="1.92" fill="#c9630f" fill-opacity="0.93"/>
<circle cx="375.9" cy="414.0" r="1.89" fill="#c9630f" fill-opacity="0.93"/>
<circle cx="378.5" cy="415.5" r="1.85" fill="#c9630f" fill-opacity="0.93"/>
<circle cx="372.6" cy="424.6" r="1.92" fill="#c9630f" fill-opacity="0.93"/>
<circle cx="412.4" cy="450.2" r="1.97" fill="#c9630f" fill-opacity="0.93"/>
<circle cx="409.2" cy="449.6" r="1.72" fill="#c9630f" fill-opacity="0.93"/>
<circle cx="406.4" cy="451.0" r="1.86" fill="#c9630f" fill-opacity="0.93"/>
<circle cx="343.5" cy="460.9" r="1.99" fill="#c9630f" fill-opacity="0.93"/>
<circle cx="340.5" cy="462.1" r="1.84" fill="#c9630f" fill-opacity="0.93"/>
<circle cx="340.2" cy="403.9" r="1.94" fill="#c9630f" fill-opacity="0.93"/>
<circle cx="339.4" cy="407.0" r="2.01" fill="#c9630f" fill-opacity="0.93"/>
<circle cx="337.8" cy="409.7" r="1.78" fill="#c9630f" fill-opacity="0.93"/>
<circle cx="345.4" cy="428.3" r="1.67" fill="#c9630f" fill-opacity="0.93"/>
<circle cx="348.2" cy="429.5" r="1.69" fill="#c9630f" fill-opacity="0.93"/>
<circle cx="334.7" cy="467.6" r="1.89" fill="#c9630f" fill-opacity="0.93"/>
<circle cx="333.1" cy="464.4" r="1.59" fill="#c9630f" fill-opacity="0.93"/>
<circle cx="389.0" cy="453.6" r="1.70" fill="#c9630f" fill-opacity="0.93"/>
<circle cx="387.1" cy="456.1" r="1.93" fill="#c9630f" fill-opacity="0.93"/>
<circle cx="384.4" cy="457.3" r="1.66" fill="#c9630f" fill-opacity="0.93"/>
<circle cx="380.8" cy="457.3" r="1.88" fill="#c9630f" fill-opacity="0.93"/>
<circle cx="377.3" cy="457.8" r="1.53" fill="#c9630f" fill-opacity="0.93"/>
<circle cx="376.1" cy="461.1" r="1.75" fill="#c9630f" fill-opacity="0.93"/>
<circle cx="378.3" cy="463.5" r="2.06" fill="#c9630f" fill-opacity="0.93"/>
<circle cx="339.9" cy="406.6" r="2.04" fill="#c9630f" fill-opacity="0.93"/>
<circle cx="336.3" cy="429.9" r="1.80" fill="#c9630f" fill-opacity="0.93"/>
<circle cx="338.3" cy="432.4" r="1.58" fill="#c9630f" fill-opacity="0.93"/>
<circle cx="341.0" cy="433.7" r="1.82" fill="#c9630f" fill-opacity="0.93"/>
<circle cx="341.4" cy="437.0" r="1.99" fill="#c9630f" fill-opacity="0.93"/>
<circle cx="343.4" cy="439.0" r="1.82" fill="#c9630f" fill-opacity="0.93"/>
<circle cx="345.9" cy="441.3" r="1.73" fill="#c9630f" fill-opacity="0.93"/>
<circle cx="347.6" cy="444.2" r="2.02" fill="#c9630f" fill-opacity="0.93"/>
<circle cx="401.8" cy="417.5" r="1.70" fill="#c9630f" fill-opacity="0.93"/>
<circle cx="400.5" cy="414.9" r="1.66" fill="#c9630f" fill-opacity="0.93"/>
<circle cx="397.4" cy="414.5" r="1.84" fill="#c9630f" fill-opacity="0.93"/>
<circle cx="394.8" cy="415.9" r="1.91" fill="#c9630f" fill-opacity="0.93"/>
<circle cx="356.2" cy="428.2" r="2.01" fill="#c9630f" fill-opacity="0.93"/>
<circle cx="353.6" cy="426.0" r="1.84" fill="#c9630f" fill-opacity="0.93"/>
<circle cx="350.7" cy="424.0" r="1.88" fill="#c9630f" fill-opacity="0.93"/>
<circle cx="351.1" cy="420.7" r="1.91" fill="#c9630f" fill-opacity="0.93"/>
<circle cx="364.3" cy="410.8" r="1.56" fill="#c9630f" fill-opacity="0.93"/>
<circle cx="361.8" cy="413.0" r="1.54" fill="#c9630f" fill-opacity="0.93"/>
<circle cx="362.5" cy="415.9" r="1.72" fill="#c9630f" fill-opacity="0.93"/>
<circle cx="360.4" cy="418.7" r="1.86" fill="#c9630f" fill-opacity="0.93"/>
<circle cx="362.6" cy="425.1" r="1.58" fill="#c9630f" fill-opacity="0.93"/>
<circle cx="362.4" cy="422.1" r="1.91" fill="#c9630f" fill-opacity="0.93"/>
<circle cx="361.7" cy="418.6" r="1.96" fill="#c9630f" fill-opacity="0.93"/>
<circle cx="409.3" cy="434.5" r="1.82" fill="#c9630f" fill-opacity="0.93"/>
<circle cx="411.8" cy="436.7" r="1.59" fill="#c9630f" fill-opacity="0.93"/>
<circle cx="412.1" cy="439.8" r="1.56" fill="#c9630f" fill-opacity="0.93"/>
<circle cx="380.8" cy="436.0" r="1.65" fill="#c9630f" fill-opacity="0.93"/>
<circle cx="379.5" cy="427.0" r="1.72" fill="#c9630f" fill-opacity="0.93"/>
<circle cx="403.0" cy="462.3" r="1.55" fill="#c9630f" fill-opacity="0.93"/>
<circle cx="401.1" cy="464.5" r="1.92" fill="#c9630f" fill-opacity="0.93"/>
<circle cx="398.1" cy="464.2" r="1.96" fill="#c9630f" fill-opacity="0.93"/>
<circle cx="394.9" cy="465.2" r="2.00" fill="#c9630f" fill-opacity="0.93"/>
<circle cx="363.8" cy="402.2" r="1.75" fill="#c9630f" fill-opacity="0.93"/>
<circle cx="366.4" cy="400.0" r="2.03" fill="#c9630f" fill-opacity="0.93"/>
<circle cx="369.7" cy="399.2" r="1.82" fill="#c9630f" fill-opacity="0.93"/>
<circle cx="372.5" cy="400.6" r="1.85" fill="#c9630f" fill-opacity="0.93"/>
<circle cx="374.5" cy="403.2" r="1.68" fill="#c9630f" fill-opacity="0.93"/>
<circle cx="377.4" cy="402.8" r="1.72" fill="#c9630f" fill-opacity="0.93"/>
<circle cx="380.9" cy="403.1" r="1.92" fill="#c9630f" fill-opacity="0.93"/>
<circle cx="384.2" cy="401.8" r="1.68" fill="#c9630f" fill-opacity="0.93"/>
<circle cx="387.1" cy="402.2" r="1.94" fill="#c9630f" fill-opacity="0.93"/>
<circle cx="407.8" cy="450.7" r="1.86" fill="#c9630f" fill-opacity="0.93"/>
<circle cx="407.7" cy="418.6" r="1.74" fill="#c9630f" fill-opacity="0.93"/>
<circle cx="347.1" cy="448.2" r="1.86" fill="#c9630f" fill-opacity="0.93"/>
<circle cx="390.2" cy="441.1" r="2.01" fill="#c9630f" fill-opacity="0.93"/>
<circle cx="354.6" cy="446.0" r="1.87" fill="#c9630f" fill-opacity="0.93"/>
<circle cx="337.3" cy="442.0" r="1.92" fill="#c9630f" fill-opacity="0.93"/>
<circle cx="376.7" cy="466.2" r="1.55" fill="#c9630f" fill-opacity="0.93"/>
<circle cx="379.9" cy="467.0" r="1.86" fill="#c9630f" fill-opacity="0.93"/>
<circle cx="382.5" cy="465.6" r="1.85" fill="#c9630f" fill-opacity="0.93"/>
<circle cx="385.8" cy="465.0" r="1.92" fill="#c9630f" fill-opacity="0.93"/>
<circle cx="402.5" cy="469.9" r="2.03" fill="#c9630f" fill-opacity="0.93"/>
<circle cx="399.3" cy="469.1" r="1.98" fill="#c9630f" fill-opacity="0.93"/>
<circle cx="348.4" cy="412.7" r="1.97" fill="#c9630f" fill-opacity="0.93"/>
<circle cx="350.4" cy="410.0" r="2.03" fill="#c9630f" fill-opacity="0.93"/>
<circle cx="353.7" cy="410.5" r="2.05" fill="#c9630f" fill-opacity="0.93"/>
<circle cx="355.8" cy="408.5" r="1.56" fill="#c9630f" fill-opacity="0.93"/>
<circle cx="356.0" cy="405.3" r="1.78" fill="#c9630f" fill-opacity="0.93"/>
<circle cx="339.1" cy="430.3" r="2.05" fill="#c9630f" fill-opacity="0.93"/>
<circle cx="337.6" cy="427.8" r="1.94" fill="#c9630f" fill-opacity="0.93"/>
<circle cx="337.6" cy="424.7" r="1.59" fill="#c9630f" fill-opacity="0.93"/>
<circle cx="337.4" cy="421.6" r="1.93" fill="#c9630f" fill-opacity="0.93"/>
<circle cx="340.0" cy="419.8" r="1.69" fill="#c9630f" fill-opacity="0.93"/>
<circle cx="342.8" cy="417.8" r="1.96" fill="#c9630f" fill-opacity="0.93"/>
<circle cx="360.5" cy="462.1" r="1.82" fill="#c9630f" fill-opacity="0.93"/>
<circle cx="363.8" cy="460.9" r="1.58" fill="#c9630f" fill-opacity="0.93"/>
<circle cx="366.4" cy="458.6" r="1.53" fill="#c9630f" fill-opacity="0.93"/>
<circle cx="369.5" cy="458.3" r="1.54" fill="#c9630f" fill-opacity="0.93"/>
<circle cx="372.0" cy="456.3" r="1.74" fill="#c9630f" fill-opacity="0.93"/>
<circle cx="374.4" cy="454.6" r="1.65" fill="#c9630f" fill-opacity="0.93"/>
<circle cx="377.2" cy="456.1" r="1.78" fill="#c9630f" fill-opacity="0.93"/>
<circle cx="379.9" cy="454.7" r="2.05" fill="#c9630f" fill-opacity="0.93"/>
<circle cx="383.1" cy="454.5" r="1.56" fill="#c9630f" fill-opacity="0.93"/>
<circle cx="368.7" cy="443.9" r="1.87" fill="#c9630f" fill-opacity="0.93"/>
<circle cx="397.0" cy="431.0" r="2.02" fill="#c9630f" fill-opacity="0.93"/>
<circle cx="395.9" cy="465.3" r="2.05" fill="#c9630f" fill-opacity="0.93"/>
<circle cx="393.6" cy="463.3" r="1.76" fill="#c9630f" fill-opacity="0.93"/>
<circle cx="356.2" cy="449.2" r="1.64" fill="#c9630f" fill-opacity="0.93"/>
<circle cx="355.2" cy="445.8" r="2.05" fill="#c9630f" fill-opacity="0.93"/>
<circle cx="355.0" cy="442.9" r="1.66" fill="#c9630f" fill-opacity="0.93"/>
<circle cx="357.8" cy="440.8" r="1.55" fill="#c9630f" fill-opacity="0.93"/>
<circle cx="358.4" cy="437.6" r="1.67" fill="#c9630f" fill-opacity="0.93"/>
<circle cx="360.7" cy="435.4" r="1.95" fill="#c9630f" fill-opacity="0.93"/>
<circle cx="414.4" cy="451.7" r="1.84" fill="#c9630f" fill-opacity="0.93"/>
<circle cx="416.3" cy="454.3" r="1.92" fill="#c9630f" fill-opacity="0.93"/>
<circle cx="419.5" cy="454.6" r="1.91" fill="#c9630f" fill-opacity="0.93"/>
<circle cx="421.0" cy="451.5" r="1.76" fill="#c9630f" fill-opacity="0.93"/>
<circle cx="422.5" cy="448.5" r="1.96" fill="#c9630f" fill-opacity="0.93"/>
<circle cx="420.7" cy="445.8" r="1.55" fill="#c9630f" fill-opacity="0.93"/>
<circle cx="418.3" cy="443.8" r="1.54" fill="#c9630f" fill-opacity="0.93"/>
<circle cx="415.2" cy="443.2" r="1.88" fill="#c9630f" fill-opacity="0.93"/>
<circle cx="376.8" cy="452.5" r="2.06" fill="#c9630f" fill-opacity="0.93"/>
<circle cx="410.7" cy="407.0" r="1.74" fill="#c9630f" fill-opacity="0.93"/>
<circle cx="409.6" cy="404.1" r="1.83" fill="#c9630f" fill-opacity="0.93"/>
<circle cx="361.7" cy="436.8" r="1.68" fill="#c9630f" fill-opacity="0.93"/>
<circle cx="359.3" cy="439.3" r="1.67" fill="#c9630f" fill-opacity="0.93"/>
<circle cx="356.0" cy="439.4" r="1.74" fill="#c9630f" fill-opacity="0.93"/>
<circle cx="353.0" cy="438.5" r="1.67" fill="#c9630f" fill-opacity="0.93"/>
<circle cx="351.9" cy="435.5" r="2.01" fill="#c9630f" fill-opacity="0.93"/>
<circle cx="349.1" cy="434.3" r="1.56" fill="#c9630f" fill-opacity="0.93"/>
<circle cx="347.4" cy="431.5" r="1.54" fill="#c9630f" fill-opacity="0.93"/>
<circle cx="343.9" cy="431.9" r="1.80" fill="#c9630f" fill-opacity="0.93"/>
<circle cx="381.8" cy="409.9" r="1.86" fill="#c9630f" fill-opacity="0.93"/>
<circle cx="341.4" cy="406.1" r="1.57" fill="#c9630f" fill-opacity="0.93"/>
<circle cx="407.4" cy="453.0" r="1.94" fill="#c9630f" fill-opacity="0.93"/>
<circle cx="410.4" cy="453.6" r="1.53" fill="#c9630f" fill-opacity="0.93"/>
<circle cx="412.7" cy="455.9" r="2.02" fill="#c9630f" fill-opacity="0.93"/>
<circle cx="350.3" cy="420.3" r="1.58" fill="#c9630f" fill-opacity="0.93"/>
<circle cx="367.9" cy="445.9" r="1.84" fill="#c9630f" fill-opacity="0.93"/>
<circle cx="365.6" cy="444.1" r="1.67" fill="#c9630f" fill-opacity="0.93"/>
<circle cx="363.0" cy="442.2" r="2.02" fill="#c9630f" fill-opacity="0.93"/>
<circle cx="360.6" cy="439.8" r="1.76" fill="#c9630f" fill-opacity="0.93"/>
<circle cx="360.2" cy="436.4" r="1.69" fill="#c9630f" fill-opacity="0.93"/>
<circle cx="362.2" cy="465.1" r="1.95" fill="#c9630f" fill-opacity="0.93"/>
<circle cx="365.0" cy="466.1" r="1.87" fill="#c9630f" fill-opacity="0.93"/>
<circle cx="366.3" cy="469.1" r="1.56" fill="#c9630f" fill-opacity="0.93"/>
<circle cx="364.2" cy="471.5" r="1.87" fill="#c9630f" fill-opacity="0.93"/>
<circle cx="366.5" cy="425.0" r="2.00" fill="#c9630f" fill-opacity="0.93"/>
<circle cx="366.6" cy="428.1" r="1.63" fill="#c9630f" fill-opacity="0.93"/>
<circle cx="363.7" cy="429.9" r="2.01" fill="#c9630f" fill-opacity="0.93"/>
<circle cx="367.2" cy="417.7" r="1.78" fill="#c9630f" fill-opacity="0.93"/>
<circle cx="368.1" cy="414.4" r="1.59" fill="#c9630f" fill-opacity="0.93"/>
<circle cx="369.2" cy="411.6" r="2.06" fill="#c9630f" fill-opacity="0.93"/>
<circle cx="370.6" cy="408.8" r="1.68" fill="#c9630f" fill-opacity="0.93"/>
<circle cx="372.6" cy="405.8" r="1.76" fill="#c9630f" fill-opacity="0.93"/>
<circle cx="372.3" cy="402.6" r="2.03" fill="#c9630f" fill-opacity="0.93"/>
<circle cx="409.6" cy="424.8" r="1.61" fill="#c9630f" fill-opacity="0.93"/>
<circle cx="371.4" cy="433.2" r="1.80" fill="#c9630f" fill-opacity="0.93"/>
<circle cx="353.7" cy="435.1" r="1.60" fill="#c9630f" fill-opacity="0.93"/>
<circle cx="393.6" cy="408.8" r="1.62" fill="#c9630f" fill-opacity="0.93"/>
<circle cx="384.4" cy="462.8" r="1.84" fill="#c9630f" fill-opacity="0.93"/>
<circle cx="387.5" cy="463.0" r="1.56" fill="#c9630f" fill-opacity="0.93"/>
<circle cx="396.6" cy="425.6" r="1.68" fill="#c9630f" fill-opacity="0.93"/>
<circle cx="398.7" cy="422.8" r="1.60" fill="#c9630f" fill-opacity="0.93"/>
<circle cx="400.2" cy="420.0" r="2.06" fill="#c9630f" fill-opacity="0.93"/>
<circle cx="398.8" cy="416.9" r="1.94" fill="#c9630f" fill-opacity="0.93"/>
<circle cx="411.7" cy="423.8" r="1.76" fill="#c9630f" fill-opacity="0.93"/>
<circle cx="360.7" cy="453.8" r="1.96" fill="#c9630f" fill-opacity="0.93"/>
<circle cx="357.5" cy="454.1" r="1.53" fill="#c9630f" fill-opacity="0.93"/>
<circle cx="402.7" cy="404.6" r="1.66" fill="#c9630f" fill-opacity="0.93"/>
<circle cx="406.1" cy="404.1" r="1.74" fill="#c9630f" fill-opacity="0.93"/>
<circle cx="409.0" cy="404.8" r="1.68" fill="#c9630f" fill-opacity="0.93"/>
<circle cx="410.9" cy="402.0" r="1.84" fill="#c9630f" fill-opacity="0.93"/>
<circle cx="414.0" cy="400.8" r="1.76" fill="#c9630f" fill-opacity="0.93"/>
<circle cx="363.5" cy="444.2" r="1.90" fill="#c9630f" fill-opacity="0.93"/>
<circle cx="403.0" cy="412.0" r="1.78" fill="#c9630f" fill-opacity="0.93"/>
<circle cx="406.0" cy="413.8" r="1.79" fill="#c9630f" fill-opacity="0.93"/>
<circle cx="408.5" cy="415.3" r="1.96" fill="#c9630f" fill-opacity="0.93"/>
<circle cx="402.5" cy="445.4" r="1.86" fill="#c9630f" fill-opacity="0.93"/>
<circle cx="415.6" cy="415.9" r="1.74" fill="#c9630f" fill-opacity="0.93"/>
<circle cx="412.7" cy="413.8" r="2.01" fill="#c9630f" fill-opacity="0.93"/>
<circle cx="411.3" cy="411.1" r="1.75" fill="#c9630f" fill-opacity="0.93"/>
<circle cx="409.6" cy="408.5" r="1.54" fill="#c9630f" fill-opacity="0.93"/>
<circle cx="407.3" cy="405.8" r="1.90" fill="#c9630f" fill-opacity="0.93"/>
<circle cx="407.9" cy="402.5" r="1.94" fill="#c9630f" fill-opacity="0.93"/>
<circle cx="410.9" cy="400.8" r="1.96" fill="#c9630f" fill-opacity="0.93"/>
<circle cx="413.5" cy="398.5" r="1.89" fill="#c9630f" fill-opacity="0.93"/>
<circle cx="416.8" cy="399.2" r="1.77" fill="#c9630f" fill-opacity="0.93"/>
<circle cx="353.2" cy="450.3" r="1.82" fill="#c9630f" fill-opacity="0.93"/>
<circle cx="340.0" cy="444.8" r="1.98" fill="#c9630f" fill-opacity="0.93"/>
<circle cx="342.8" cy="442.6" r="1.57" fill="#c9630f" fill-opacity="0.93"/>
<circle cx="342.9" cy="439.7" r="1.56" fill="#c9630f" fill-opacity="0.93"/>
<circle cx="343.9" cy="436.4" r="1.79" fill="#c9630f" fill-opacity="0.93"/>
<circle cx="346.6" cy="434.7" r="2.03" fill="#c9630f" fill-opacity="0.93"/>
<circle cx="349.7" cy="433.8" r="1.62" fill="#c9630f" fill-opacity="0.93"/>
<circle cx="352.6" cy="432.4" r="1.97" fill="#c9630f" fill-opacity="0.93"/>
<circle cx="354.0" cy="429.6" r="1.97" fill="#c9630f" fill-opacity="0.93"/>
<circle cx="352.2" cy="426.8" r="1.65" fill="#c9630f" fill-opacity="0.93"/>
<circle cx="340.0" cy="453.7" r="1.70" fill="#c9630f" fill-opacity="0.93"/>
<circle cx="341.7" cy="451.3" r="1.81" fill="#c9630f" fill-opacity="0.93"/>
<circle cx="340.4" cy="448.2" r="2.02" fill="#c9630f" fill-opacity="0.93"/>
<circle cx="375.4" cy="435.1" r="1.69" fill="#c9630f" fill-opacity="0.93"/>
<circle cx="378.0" cy="436.7" r="2.03" fill="#c9630f" fill-opacity="0.93"/>
<circle cx="380.9" cy="436.8" r="1.72" fill="#c9630f" fill-opacity="0.93"/>
<circle cx="382.2" cy="439.5" r="1.71" fill="#c9630f" fill-opacity="0.93"/>
<circle cx="385.3" cy="440.8" r="1.78" fill="#c9630f" fill-opacity="0.93"/>
<circle cx="388.3" cy="439.0" r="1.71" fill="#c9630f" fill-opacity="0.93"/>
<circle cx="405.7" cy="405.7" r="1.72" fill="#c9630f" fill-opacity="0.93"/>
<circle cx="402.2" cy="405.5" r="1.84" fill="#c9630f" fill-opacity="0.93"/>
<circle cx="398.8" cy="405.8" r="1.86" fill="#c9630f" fill-opacity="0.93"/>
<circle cx="395.8" cy="406.8" r="1.60" fill="#c9630f" fill-opacity="0.93"/>
<circle cx="357.9" cy="427.6" r="1.59" fill="#c9630f" fill-opacity="0.93"/>
<circle cx="360.1" cy="430.3" r="1.57" fill="#c9630f" fill-opacity="0.93"/>
<circle cx="363.4" cy="429.9" r="1.68" fill="#c9630f" fill-opacity="0.93"/>
<circle cx="366.2" cy="430.6" r="1.78" fill="#c9630f" fill-opacity="0.93"/>
<circle cx="368.9" cy="428.9" r="1.90" fill="#c9630f" fill-opacity="0.93"/>
<circle cx="403.1" cy="445.8" r="1.79" fill="#c9630f" fill-opacity="0.93"/>
<circle cx="341.4" cy="464.8" r="2.04" fill="#c9630f" fill-opacity="0.93"/>
<circle cx="344.2" cy="462.8" r="2.07" fill="#c9630f" fill-opacity="0.93"/>
<circle cx="393.5" cy="434.2" r="1.67" fill="#c9630f" fill-opacity="0.93"/>
<circle cx="390.4" cy="435.3" r="1.86" fill="#c9630f" fill-opacity="0.93"/>
<circle cx="387.6" cy="436.6" r="1.55" fill="#c9630f" fill-opacity="0.93"/>
<circle cx="384.5" cy="435.5" r="1.66" fill="#c9630f" fill-opacity="0.93"/>
</g></g>
<g clip-path="url(#mcN)"><rect x="422.6" y="401.4" width="87" height="137.6" fill="#faf0eb"/><g filter="url(#bl)">
<circle cx="428.9" cy="408.0" r="2.04" fill="#cf7236" fill-opacity="0.95"/>
<circle cx="432.1" cy="406.9" r="1.75" fill="#cf7236" fill-opacity="0.95"/>
<circle cx="434.9" cy="406.1" r="1.73" fill="#cf7236" fill-opacity="0.95"/>
<circle cx="426.4" cy="411.1" r="1.74" fill="#cf7236" fill-opacity="0.95"/>
<circle cx="428.8" cy="413.0" r="2.07" fill="#cf7236" fill-opacity="0.95"/>
<circle cx="429.5" cy="416.6" r="2.00" fill="#cf7236" fill-opacity="0.95"/>
<circle cx="425.3" cy="419.0" r="1.63" fill="#cf7236" fill-opacity="0.95"/>
<circle cx="422.4" cy="421.2" r="2.01" fill="#cf7236" fill-opacity="0.95"/>
<circle cx="426.9" cy="428.6" r="1.64" fill="#cf7236" fill-opacity="0.95"/>
<circle cx="424.2" cy="435.5" r="2.00" fill="#cf7236" fill-opacity="0.95"/>
<circle cx="421.5" cy="433.4" r="1.77" fill="#cf7236" fill-opacity="0.95"/>
<circle cx="428.7" cy="446.4" r="1.63" fill="#cf7236" fill-opacity="0.95"/>
<circle cx="430.7" cy="448.8" r="1.72" fill="#cf7236" fill-opacity="0.95"/>
<circle cx="431.5" cy="452.1" r="1.75" fill="#cf7236" fill-opacity="0.95"/>
<circle cx="430.2" cy="454.9" r="2.04" fill="#cf7236" fill-opacity="0.95"/>
<circle cx="427.9" cy="452.3" r="1.93" fill="#cf7236" fill-opacity="0.95"/>
<circle cx="426.9" cy="457.5" r="1.84" fill="#cf7236" fill-opacity="0.95"/>
<circle cx="426.9" cy="468.3" r="1.75" fill="#cf7236" fill-opacity="0.95"/>
<circle cx="431.7" cy="406.0" r="1.67" fill="#cf7236" fill-opacity="0.95"/>
<circle cx="432.6" cy="411.1" r="1.78" fill="#cf7236" fill-opacity="0.95"/>
<circle cx="434.2" cy="414.1" r="1.64" fill="#cf7236" fill-opacity="0.95"/>
<circle cx="437.3" cy="415.0" r="2.03" fill="#cf7236" fill-opacity="0.95"/>
<circle cx="440.4" cy="415.3" r="1.84" fill="#cf7236" fill-opacity="0.95"/>
<circle cx="435.1" cy="421.5" r="2.05" fill="#cf7236" fill-opacity="0.95"/>
<circle cx="434.7" cy="428.3" r="1.90" fill="#cf7236" fill-opacity="0.95"/>
<circle cx="435.0" cy="438.3" r="1.90" fill="#cf7236" fill-opacity="0.95"/>
<circle cx="432.2" cy="444.6" r="1.97" fill="#cf7236" fill-opacity="0.95"/>
<circle cx="434.2" cy="455.3" r="1.67" fill="#cf7236" fill-opacity="0.95"/>
<circle cx="437.1" cy="457.2" r="1.87" fill="#cf7236" fill-opacity="0.95"/>
<circle cx="433.7" cy="460.7" r="1.98" fill="#cf7236" fill-opacity="0.95"/>
<circle cx="436.2" cy="470.4" r="1.97" fill="#cf7236" fill-opacity="0.95"/>
<circle cx="443.1" cy="407.6" r="1.85" fill="#cf7236" fill-opacity="0.95"/>
<circle cx="440.0" cy="421.7" r="1.76" fill="#cf7236" fill-opacity="0.95"/>
<circle cx="437.2" cy="423.1" r="1.92" fill="#cf7236" fill-opacity="0.95"/>
<circle cx="433.7" cy="424.0" r="1.84" fill="#cf7236" fill-opacity="0.95"/>
<circle cx="438.1" cy="427.0" r="1.79" fill="#cf7236" fill-opacity="0.95"/>
<circle cx="439.5" cy="424.1" r="1.91" fill="#cf7236" fill-opacity="0.95"/>
<circle cx="440.7" cy="421.3" r="1.86" fill="#cf7236" fill-opacity="0.95"/>
<circle cx="438.7" cy="436.6" r="2.02" fill="#cf7236" fill-opacity="0.95"/>
<circle cx="440.6" cy="449.3" r="1.96" fill="#cf7236" fill-opacity="0.95"/>
<circle cx="442.5" cy="447.1" r="1.76" fill="#cf7236" fill-opacity="0.95"/>
<circle cx="439.0" cy="463.0" r="1.66" fill="#cf7236" fill-opacity="0.95"/>
<circle cx="439.9" cy="470.4" r="1.97" fill="#cf7236" fill-opacity="0.95"/>
<circle cx="446.7" cy="409.4" r="1.93" fill="#cf7236" fill-opacity="0.95"/>
<circle cx="446.2" cy="411.1" r="1.73" fill="#cf7236" fill-opacity="0.95"/>
<circle cx="446.2" cy="414.4" r="1.72" fill="#cf7236" fill-opacity="0.95"/>
<circle cx="443.4" cy="416.1" r="1.66" fill="#cf7236" fill-opacity="0.95"/>
<circle cx="444.1" cy="419.6" r="1.88" fill="#cf7236" fill-opacity="0.95"/>
<circle cx="450.7" cy="430.3" r="1.72" fill="#cf7236" fill-opacity="0.95"/>
<circle cx="447.8" cy="431.0" r="1.86" fill="#cf7236" fill-opacity="0.95"/>
<circle cx="446.5" cy="434.0" r="2.03" fill="#cf7236" fill-opacity="0.95"/>
<circle cx="446.1" cy="439.7" r="2.02" fill="#cf7236" fill-opacity="0.95"/>
<circle cx="450.7" cy="446.7" r="1.66" fill="#cf7236" fill-opacity="0.95"/>
<circle cx="449.3" cy="449.5" r="1.75" fill="#cf7236" fill-opacity="0.95"/>
<circle cx="447.5" cy="452.7" r="1.89" fill="#cf7236" fill-opacity="0.95"/>
<circle cx="444.0" cy="453.8" r="1.64" fill="#cf7236" fill-opacity="0.95"/>
<circle cx="442.0" cy="451.6" r="1.72" fill="#cf7236" fill-opacity="0.95"/>
<circle cx="441.9" cy="448.0" r="1.90" fill="#cf7236" fill-opacity="0.95"/>
<circle cx="446.5" cy="458.3" r="1.78" fill="#cf7236" fill-opacity="0.95"/>
<circle cx="449.1" cy="456.6" r="1.97" fill="#cf7236" fill-opacity="0.95"/>
<circle cx="451.7" cy="454.8" r="2.02" fill="#cf7236" fill-opacity="0.95"/>
<circle cx="446.6" cy="468.5" r="1.84" fill="#cf7236" fill-opacity="0.95"/>
<circle cx="443.8" cy="466.8" r="2.05" fill="#cf7236" fill-opacity="0.95"/>
<circle cx="440.5" cy="465.4" r="2.04" fill="#cf7236" fill-opacity="0.95"/>
<circle cx="438.0" cy="463.2" r="1.98" fill="#cf7236" fill-opacity="0.95"/>
<circle cx="453.5" cy="403.4" r="1.74" fill="#cf7236" fill-opacity="0.95"/>
<circle cx="454.6" cy="413.6" r="1.94" fill="#cf7236" fill-opacity="0.95"/>
<circle cx="455.9" cy="422.5" r="1.94" fill="#cf7236" fill-opacity="0.95"/>
<circle cx="452.6" cy="423.9" r="1.76" fill="#cf7236" fill-opacity="0.95"/>
<circle cx="454.1" cy="428.3" r="1.84" fill="#cf7236" fill-opacity="0.95"/>
<circle cx="453.0" cy="434.6" r="2.06" fill="#cf7236" fill-opacity="0.95"/>
<circle cx="455.4" cy="444.2" r="1.68" fill="#cf7236" fill-opacity="0.95"/>
<circle cx="456.3" cy="441.0" r="1.96" fill="#cf7236" fill-opacity="0.95"/>
<circle cx="457.7" cy="437.8" r="1.88" fill="#cf7236" fill-opacity="0.95"/>
<circle cx="454.6" cy="450.1" r="1.97" fill="#cf7236" fill-opacity="0.95"/>
<circle cx="453.8" cy="461.0" r="1.63" fill="#cf7236" fill-opacity="0.95"/>
<circle cx="458.2" cy="466.0" r="1.89" fill="#cf7236" fill-opacity="0.95"/>
<circle cx="463.3" cy="408.8" r="1.92" fill="#cf7236" fill-opacity="0.95"/>
<circle cx="463.7" cy="413.3" r="1.85" fill="#cf7236" fill-opacity="0.95"/>
<circle cx="464.8" cy="410.3" r="1.78" fill="#cf7236" fill-opacity="0.95"/>
<circle cx="467.9" cy="408.8" r="1.82" fill="#cf7236" fill-opacity="0.95"/>
<circle cx="470.2" cy="410.7" r="1.87" fill="#cf7236" fill-opacity="0.95"/>
<circle cx="464.4" cy="421.9" r="1.92" fill="#cf7236" fill-opacity="0.95"/>
<circle cx="462.0" cy="427.0" r="2.01" fill="#cf7236" fill-opacity="0.95"/>
<circle cx="462.6" cy="438.6" r="2.03" fill="#cf7236" fill-opacity="0.95"/>
<circle cx="460.2" cy="441.0" r="1.75" fill="#cf7236" fill-opacity="0.95"/>
<circle cx="456.6" cy="441.4" r="1.89" fill="#cf7236" fill-opacity="0.95"/>
<circle cx="454.6" cy="444.1" r="2.05" fill="#cf7236" fill-opacity="0.95"/>
<circle cx="463.4" cy="441.9" r="1.88" fill="#cf7236" fill-opacity="0.95"/>
<circle cx="465.2" cy="444.6" r="1.89" fill="#cf7236" fill-opacity="0.95"/>
<circle cx="466.9" cy="447.7" r="1.88" fill="#cf7236" fill-opacity="0.95"/>
<circle cx="467.1" cy="451.0" r="1.99" fill="#cf7236" fill-opacity="0.95"/>
<circle cx="464.6" cy="449.3" r="2.01" fill="#cf7236" fill-opacity="0.95"/>
<circle cx="464.2" cy="461.3" r="1.72" fill="#cf7236" fill-opacity="0.95"/>
<circle cx="462.9" cy="457.8" r="1.71" fill="#cf7236" fill-opacity="0.95"/>
<circle cx="459.6" cy="456.7" r="1.80" fill="#cf7236" fill-opacity="0.95"/>
<circle cx="456.2" cy="455.9" r="1.75" fill="#cf7236" fill-opacity="0.95"/>
<circle cx="462.9" cy="467.2" r="2.03" fill="#cf7236" fill-opacity="0.95"/>
<circle cx="468.8" cy="409.3" r="1.94" fill="#cf7236" fill-opacity="0.95"/>
<circle cx="470.3" cy="406.4" r="1.70" fill="#cf7236" fill-opacity="0.95"/>
<circle cx="470.9" cy="414.1" r="1.74" fill="#cf7236" fill-opacity="0.95"/>
<circle cx="469.1" cy="411.6" r="2.01" fill="#cf7236" fill-opacity="0.95"/>
<circle cx="471.5" cy="408.8" r="1.73" fill="#cf7236" fill-opacity="0.95"/>
<circle cx="474.5" cy="410.2" r="2.02" fill="#cf7236" fill-opacity="0.95"/>
<circle cx="477.7" cy="411.3" r="1.74" fill="#cf7236" fill-opacity="0.95"/>
<circle cx="479.1" cy="414.2" r="2.02" fill="#cf7236" fill-opacity="0.95"/>
<circle cx="469.4" cy="428.5" r="1.84" fill="#cf7236" fill-opacity="0.95"/>
<circle cx="470.9" cy="437.6" r="1.83" fill="#cf7236" fill-opacity="0.95"/>
<circle cx="470.4" cy="443.5" r="2.05" fill="#cf7236" fill-opacity="0.95"/>
<circle cx="467.2" cy="449.7" r="1.74" fill="#cf7236" fill-opacity="0.95"/>
<circle cx="465.1" cy="452.0" r="1.68" fill="#cf7236" fill-opacity="0.95"/>
<circle cx="467.9" cy="460.7" r="2.02" fill="#cf7236" fill-opacity="0.95"/>
<circle cx="468.1" cy="457.2" r="1.75" fill="#cf7236" fill-opacity="0.95"/>
<circle cx="472.2" cy="467.3" r="1.66" fill="#cf7236" fill-opacity="0.95"/>
<circle cx="475.5" cy="404.8" r="1.75" fill="#cf7236" fill-opacity="0.95"/>
<circle cx="472.3" cy="404.1" r="1.70" fill="#cf7236" fill-opacity="0.95"/>
<circle cx="469.3" cy="404.4" r="1.92" fill="#cf7236" fill-opacity="0.95"/>
<circle cx="467.3" cy="401.4" r="1.89" fill="#cf7236" fill-opacity="0.95"/>
<circle cx="475.2" cy="414.2" r="1.82" fill="#cf7236" fill-opacity="0.95"/>
<circle cx="475.6" cy="422.5" r="1.84" fill="#cf7236" fill-opacity="0.95"/>
<circle cx="476.3" cy="429.6" r="1.74" fill="#cf7236" fill-opacity="0.95"/>
<circle cx="478.1" cy="435.5" r="1.73" fill="#cf7236" fill-opacity="0.95"/>
<circle cx="478.4" cy="451.5" r="1.72" fill="#cf7236" fill-opacity="0.95"/>
<circle cx="481.3" cy="453.1" r="2.07" fill="#cf7236" fill-opacity="0.95"/>
<circle cx="474.9" cy="459.6" r="1.67" fill="#cf7236" fill-opacity="0.95"/>
<circle cx="474.5" cy="468.9" r="1.95" fill="#cf7236" fill-opacity="0.95"/>
<circle cx="484.3" cy="403.7" r="2.04" fill="#cf7236" fill-opacity="0.95"/>
<circle cx="481.3" cy="402.9" r="1.93" fill="#cf7236" fill-opacity="0.95"/>
<circle cx="485.8" cy="415.7" r="1.85" fill="#cf7236" fill-opacity="0.95"/>
<circle cx="484.1" cy="424.5" r="1.93" fill="#cf7236" fill-opacity="0.95"/>
<circle cx="486.8" cy="426.7" r="1.84" fill="#cf7236" fill-opacity="0.95"/>
<circle cx="486.5" cy="435.5" r="1.71" fill="#cf7236" fill-opacity="0.95"/>
<circle cx="486.5" cy="444.6" r="1.77" fill="#cf7236" fill-opacity="0.95"/>
<circle cx="484.5" cy="455.2" r="1.93" fill="#cf7236" fill-opacity="0.95"/>
<circle cx="483.6" cy="461.7" r="1.70" fill="#cf7236" fill-opacity="0.95"/>
<circle cx="484.2" cy="464.7" r="2.02" fill="#cf7236" fill-opacity="0.95"/>
<circle cx="486.5" cy="469.8" r="1.72" fill="#cf7236" fill-opacity="0.95"/>
<circle cx="489.1" cy="471.3" r="1.69" fill="#cf7236" fill-opacity="0.95"/>
<circle cx="491.2" cy="473.7" r="2.03" fill="#cf7236" fill-opacity="0.95"/>
<circle cx="493.0" cy="405.3" r="1.94" fill="#cf7236" fill-opacity="0.95"/>
<circle cx="490.6" cy="411.9" r="1.75" fill="#cf7236" fill-opacity="0.95"/>
<circle cx="493.7" cy="410.8" r="2.01" fill="#cf7236" fill-opacity="0.95"/>
<circle cx="492.8" cy="429.0" r="1.79" fill="#cf7236" fill-opacity="0.95"/>
<circle cx="492.8" cy="434.5" r="1.96" fill="#cf7236" fill-opacity="0.95"/>
<circle cx="490.7" cy="432.3" r="1.99" fill="#cf7236" fill-opacity="0.95"/>
<circle cx="493.3" cy="443.5" r="1.83" fill="#cf7236" fill-opacity="0.95"/>
<circle cx="490.3" cy="442.9" r="2.05" fill="#cf7236" fill-opacity="0.95"/>
<circle cx="489.7" cy="452.0" r="2.00" fill="#cf7236" fill-opacity="0.95"/>
<circle cx="486.7" cy="450.6" r="2.05" fill="#cf7236" fill-opacity="0.95"/>
<circle cx="492.0" cy="461.7" r="1.90" fill="#cf7236" fill-opacity="0.95"/>
<circle cx="490.5" cy="470.3" r="1.91" fill="#cf7236" fill-opacity="0.95"/>
<circle cx="498.4" cy="407.1" r="2.03" fill="#cf7236" fill-opacity="0.95"/>
<circle cx="499.9" cy="412.1" r="1.72" fill="#cf7236" fill-opacity="0.95"/>
<circle cx="500.6" cy="421.1" r="1.79" fill="#cf7236" fill-opacity="0.95"/>
<circle cx="500.7" cy="418.0" r="1.92" fill="#cf7236" fill-opacity="0.95"/>
<circle cx="503.5" cy="415.8" r="1.88" fill="#cf7236" fill-opacity="0.95"/>
<circle cx="498.1" cy="426.7" r="1.88" fill="#cf7236" fill-opacity="0.95"/>
<circle cx="498.7" cy="423.1" r="1.91" fill="#cf7236" fill-opacity="0.95"/>
<circle cx="501.3" cy="434.9" r="1.78" fill="#cf7236" fill-opacity="0.95"/>
<circle cx="499.0" cy="445.2" r="1.97" fill="#cf7236" fill-opacity="0.95"/>
<circle cx="501.2" cy="442.5" r="1.68" fill="#cf7236" fill-opacity="0.95"/>
<circle cx="497.5" cy="449.7" r="1.65" fill="#cf7236" fill-opacity="0.95"/>
<circle cx="499.2" cy="452.5" r="1.68" fill="#cf7236" fill-opacity="0.95"/>
<circle cx="501.5" cy="454.9" r="1.65" fill="#cf7236" fill-opacity="0.95"/>
<circle cx="503.3" cy="457.3" r="1.76" fill="#cf7236" fill-opacity="0.95"/>
<circle cx="503.3" cy="460.8" r="1.71" fill="#cf7236" fill-opacity="0.95"/>
<circle cx="504.4" cy="464.3" r="1.77" fill="#cf7236" fill-opacity="0.95"/>
<circle cx="497.8" cy="461.0" r="1.72" fill="#cf7236" fill-opacity="0.95"/>
<circle cx="499.4" cy="470.6" r="1.99" fill="#cf7236" fill-opacity="0.95"/>
<circle cx="504.6" cy="404.6" r="1.79" fill="#cf7236" fill-opacity="0.95"/>
<circle cx="504.5" cy="407.9" r="1.79" fill="#cf7236" fill-opacity="0.95"/>
<circle cx="505.3" cy="414.5" r="1.94" fill="#cf7236" fill-opacity="0.95"/>
<circle cx="503.3" cy="417.3" r="1.72" fill="#cf7236" fill-opacity="0.95"/>
<circle cx="505.7" cy="431.0" r="1.99" fill="#cf7236" fill-opacity="0.95"/>
<circle cx="503.8" cy="438.8" r="1.73" fill="#cf7236" fill-opacity="0.95"/>
<circle cx="503.7" cy="442.3" r="1.65" fill="#cf7236" fill-opacity="0.95"/>
<circle cx="502.8" cy="445.5" r="1.87" fill="#cf7236" fill-opacity="0.95"/>
<circle cx="501.7" cy="448.9" r="1.99" fill="#cf7236" fill-opacity="0.95"/>
<circle cx="503.2" cy="453.2" r="2.00" fill="#cf7236" fill-opacity="0.95"/>
<circle cx="507.2" cy="460.9" r="1.86" fill="#cf7236" fill-opacity="0.95"/>
<circle cx="505.5" cy="464.0" r="1.84" fill="#cf7236" fill-opacity="0.95"/>
<circle cx="506.4" cy="467.4" r="1.64" fill="#cf7236" fill-opacity="0.95"/>
<circle cx="505.3" cy="464.3" r="1.66" fill="#cf7236" fill-opacity="0.95"/>
<rect x="422.6" y="471.6" width="87" height="1.2" fill="#fff"/>
<circle cx="425.3" cy="476.4" r="2.75" fill="#cf7438"/>
<circle cx="440.4" cy="476.4" r="2.75" fill="#cf7438"/>
<circle cx="442.7" cy="481.0" r="2.75" fill="#cf7438"/>
<circle cx="446.5" cy="477.0" r="2.75" fill="#cf7438"/>
<circle cx="452.7" cy="477.8" r="2.75" fill="#cf7438"/>
<circle cx="458.1" cy="477.0" r="2.75" fill="#cf7438"/>
<circle cx="462.5" cy="477.0" r="2.75" fill="#cf7438"/>
<circle cx="462.5" cy="482.3" r="2.75" fill="#cf7438"/>
<circle cx="473.1" cy="480.0" r="2.75" fill="#cf7438"/>
<circle cx="477.5" cy="481.7" r="2.75" fill="#cf7438"/>
<circle cx="478.4" cy="476.4" r="2.75" fill="#cf7438"/>
<circle cx="476.6" cy="488.5" r="2.75" fill="#cf7438"/>
<circle cx="423.5" cy="489.4" r="2.75" fill="#cf7438"/>
<circle cx="428.5" cy="489.9" r="2.75" fill="#cf7438"/>
<circle cx="447.4" cy="489.4" r="2.75" fill="#cf7438"/>
<circle cx="426.2" cy="502.6" r="2.75" fill="#cf7438"/>
<circle cx="451.9" cy="502.6" r="2.75" fill="#cf7438"/>
<circle cx="449.2" cy="506.2" r="2.75" fill="#cf7438"/>
<circle cx="453.6" cy="510.1" r="2.75" fill="#cf7438"/>
<circle cx="423.5" cy="511.5" r="2.75" fill="#cf7438"/>
<circle cx="428.0" cy="514.1" r="2.75" fill="#cf7438"/>
<circle cx="433.3" cy="511.1" r="2.75" fill="#cf7438"/>
<circle cx="438.6" cy="509.4" r="2.75" fill="#cf7438"/>
<circle cx="473.1" cy="510.1" r="2.75" fill="#cf7438"/>
<circle cx="477.5" cy="508.8" r="2.75" fill="#cf7438"/>
<circle cx="481.9" cy="506.2" r="2.75" fill="#cf7438"/>
<circle cx="485.1" cy="501.2" r="2.75" fill="#cf7438"/>
<circle cx="497.9" cy="477.8" r="2.75" fill="#cf7438"/>
<circle cx="501.4" cy="477.8" r="2.75" fill="#cf7438"/>
<circle cx="506.7" cy="476.1" r="2.75" fill="#cf7438"/>
<circle cx="497.9" cy="482.3" r="2.75" fill="#cf7438"/>
<circle cx="502.3" cy="486.7" r="2.75" fill="#cf7438"/>
<circle cx="500.5" cy="491.1" r="2.75" fill="#cf7438"/>
<circle cx="507.6" cy="495.2" r="2.75" fill="#cf7438"/>
<circle cx="442.1" cy="521.7" r="2.75" fill="#cf7438"/>
<circle cx="450.1" cy="519.1" r="2.75" fill="#cf7438"/>
<circle cx="450.1" cy="527.4" r="2.75" fill="#cf7438"/>
<circle cx="446.5" cy="523.0" r="2.75" fill="#cf7438"/>
<circle cx="458.9" cy="529.2" r="2.75" fill="#cf7438"/>
<circle cx="461.6" cy="532.2" r="2.75" fill="#cf7438"/>
<circle cx="462.5" cy="525.6" r="2.75" fill="#cf7438"/>
<circle cx="466.4" cy="521.2" r="2.75" fill="#cf7438"/>
<circle cx="475.8" cy="526.5" r="2.75" fill="#cf7438"/>
<circle cx="480.2" cy="519.4" r="2.75" fill="#cf7438"/>
<circle cx="483.7" cy="515.9" r="2.75" fill="#cf7438"/>
<circle cx="486.4" cy="521.2" r="2.75" fill="#cf7438"/>
<circle cx="489.9" cy="517.7" r="2.75" fill="#cf7438"/>
<circle cx="493.5" cy="515.9" r="2.75" fill="#cf7438"/>
<circle cx="481.9" cy="523.0" r="2.75" fill="#cf7438"/>
<circle cx="496.1" cy="524.8" r="2.75" fill="#cf7438"/>
<circle cx="500.5" cy="520.3" r="2.75" fill="#cf7438"/>
<circle cx="502.3" cy="514.1" r="2.75" fill="#cf7438"/>
<circle cx="505.8" cy="511.5" r="2.75" fill="#cf7438"/>
<circle cx="503.2" cy="509.7" r="2.75" fill="#cf7438"/>
<circle cx="507.6" cy="515.9" r="2.75" fill="#cf7438"/>
<circle cx="506.7" cy="521.2" r="2.75" fill="#cf7438"/>
<circle cx="508.5" cy="525.6" r="2.75" fill="#cf7438"/>
<circle cx="443.9" cy="532.7" r="2.75" fill="#cf7438"/>
<circle cx="444.8" cy="536.3" r="2.75" fill="#cf7438"/>
<circle cx="506.7" cy="535.4" r="2.75" fill="#cf7438"/>
<circle cx="497.9" cy="520.3" r="2.75" fill="#cf7438"/>
<circle cx="494.3" cy="522.1" r="2.75" fill="#cf7438"/>
</g><rect x="422.6" y="471.6" width="87" height="1.2" fill="#fff"/></g>
<rect x="36.6" y="399.6" width="188" height="140.4" fill="none" stroke="#222" stroke-width="1.3"/>
<rect x="229.2" y="400.2" width="187.3" height="139.9" fill="none" stroke="#333" stroke-width="1.7"/>
<rect x="421.6" y="399.8" width="88.9" height="140.4" fill="none" stroke="#222" stroke-width="1.3"/>
<path d="M0,0H520V1.3H0ZM0,0H1.3V549H0ZM518.6,0H520V549H518.6ZM0,547.5H520V549H0Z" fill="#000"/>
</svg></body></html>
